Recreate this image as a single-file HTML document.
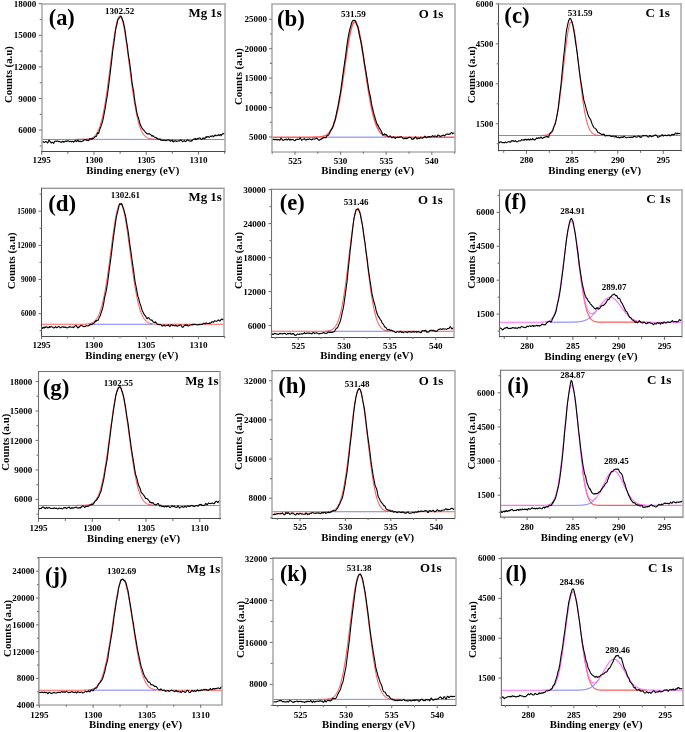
<!DOCTYPE html>
<html><head><meta charset="utf-8"><style>
html,body{margin:0;padding:0;background:#fff;}
svg{display:block;}
text{font-family:"Liberation Serif", serif;font-weight:bold;fill:#000;}
svg{will-change:transform;filter:blur(0.35px);}
</style></head><body>
<svg width="685" height="732" viewBox="0 0 685 732">
<rect width="685" height="732" fill="#fff"/>
<clipPath id="ca"><rect x="41.7" y="3.5" width="183.10000000000002" height="148.2"/></clipPath>
<g clip-path="url(#ca)" fill="none" stroke-linejoin="round" stroke-linecap="round">
<path d="M41.70,139.40 L42.20,139.40 L42.70,139.40 L43.20,139.40 L43.70,139.40 L44.20,139.40 L44.70,139.40 L45.20,139.40 L45.70,139.40 L46.20,139.40 L46.70,139.40 L47.20,139.40 L47.70,139.40 L48.20,139.40 L48.70,139.40 L49.20,139.40 L49.70,139.40 L50.20,139.40 L50.70,139.40 L51.20,139.40 L51.70,139.40 L52.20,139.40 L52.70,139.40 L53.20,139.40 L53.70,139.40 L54.20,139.40 L54.70,139.40 L55.20,139.40 L55.70,139.40 L56.20,139.40 L56.70,139.40 L57.20,139.40 L57.70,139.40 L58.20,139.40 L58.70,139.40 L59.20,139.40 L59.70,139.40 L60.20,139.40 L60.70,139.40 L61.20,139.40 L61.70,139.40 L62.20,139.40 L62.70,139.40 L63.20,139.40 L63.70,139.40 L64.20,139.40 L64.70,139.40 L65.20,139.40 L65.70,139.40 L66.20,139.40 L66.70,139.40 L67.20,139.40 L67.70,139.40 L68.20,139.40 L68.70,139.40 L69.20,139.40 L69.70,139.40 L70.20,139.40 L70.70,139.40 L71.20,139.40 L71.70,139.40 L72.20,139.40 L72.70,139.40 L73.20,139.40 L73.70,139.40 L74.20,139.40 L74.70,139.40 L75.20,139.40 L75.70,139.40 L76.20,139.40 L76.70,139.40 L77.20,139.40 L77.70,139.39 L78.20,139.39 L78.70,139.39 L79.20,139.39 L79.70,139.39 L80.20,139.38 L80.70,139.38 L81.20,139.37 L81.70,139.37 L82.20,139.36 L82.70,139.35 L83.20,139.34 L83.70,139.32 L84.20,139.31 L84.70,139.28 L85.20,139.26 L85.70,139.23 L86.20,139.19 L86.70,139.15 L87.20,139.10 L87.70,139.04 L88.20,138.97 L88.70,138.88 L89.20,138.78 L89.70,138.67 L90.20,138.53 L90.70,138.38 L91.20,138.20 L91.70,137.99 L92.20,137.74 L92.70,137.47 L93.20,137.15 L93.70,136.79 L94.20,136.38 L94.70,135.91 L95.20,135.38 L95.70,134.79 L96.20,134.13 L96.70,133.38 L97.20,132.55 L97.70,131.63 L98.20,130.60 L98.70,129.47 L99.20,128.23 L99.70,126.87 L100.20,125.38 L100.70,123.75 L101.20,121.99 L101.70,120.09 L102.20,118.03 L102.70,115.83 L103.20,113.47 L103.70,110.96 L104.20,108.29 L104.70,105.47 L105.20,102.49 L105.70,99.37 L106.20,96.11 L106.70,92.71 L107.20,89.19 L107.70,85.55 L108.20,81.82 L108.70,78.00 L109.20,74.11 L109.70,70.17 L110.20,66.21 L110.70,62.23 L111.20,58.27 L111.70,54.34 L112.20,50.48 L112.70,46.70 L113.20,43.04 L113.70,39.51 L114.20,36.15 L114.70,32.98 L115.20,30.01 L115.70,27.29 L116.20,24.82 L116.70,22.63 L117.20,20.73 L117.70,19.14 L118.20,17.87 L118.70,16.94 L119.20,16.35 L119.70,16.11 L120.20,16.21 L120.70,16.66 L121.20,17.46 L121.70,18.59 L122.20,20.05 L122.70,21.83 L123.20,23.91 L123.70,26.27 L124.20,28.89 L124.70,31.76 L125.20,34.86 L125.70,38.14 L126.20,41.61 L126.70,45.22 L127.20,48.95 L127.70,52.79 L128.20,56.69 L128.70,60.64 L129.20,64.61 L129.70,68.59 L130.20,72.54 L130.70,76.45 L131.20,80.30 L131.70,84.07 L132.20,87.75 L132.70,91.32 L133.20,94.76 L133.70,98.08 L134.20,101.26 L134.70,104.30 L135.20,107.18 L135.70,109.91 L136.20,112.49 L136.70,114.91 L137.20,117.17 L137.70,119.28 L138.20,121.25 L138.70,123.07 L139.20,124.74 L139.70,126.29 L140.20,127.70 L140.70,128.99 L141.20,130.16 L141.70,131.23 L142.20,132.19 L142.70,133.06 L143.20,133.84 L143.70,134.53 L144.20,135.16 L144.70,135.71 L145.20,136.20 L145.70,136.63 L146.20,137.01 L146.70,137.35 L147.20,137.64 L147.70,137.89 L148.20,138.12 L148.70,138.31 L149.20,138.47 L149.70,138.62 L150.20,138.74 L150.70,138.84 L151.20,138.93 L151.70,139.01 L152.20,139.08 L152.70,139.13 L153.20,139.18 L153.70,139.22 L154.20,139.25 L154.70,139.27 L155.20,139.30 L155.70,139.32 L156.20,139.33 L156.70,139.34 L157.20,139.35 L157.70,139.36 L158.20,139.37 L158.70,139.38 L159.20,139.38 L159.70,139.38 L160.20,139.39 L160.70,139.39 L161.20,139.39 L161.70,139.39 L162.20,139.40 L162.70,139.40 L163.20,139.40 L163.70,139.40 L164.20,139.40 L164.70,139.40 L165.20,139.40 L165.70,139.40 L166.20,139.40 L166.70,139.40 L167.20,139.40 L167.70,139.40 L168.20,139.40 L168.70,139.40 L169.20,139.40 L169.70,139.40 L170.20,139.40 L170.70,139.40 L171.20,139.40 L171.70,139.40 L172.20,139.40 L172.70,139.40 L173.20,139.40 L173.70,139.40 L174.20,139.40 L174.70,139.40 L175.20,139.40 L175.70,139.40 L176.20,139.40 L176.70,139.40 L177.20,139.40 L177.70,139.40 L178.20,139.40 L178.70,139.40 L179.20,139.40 L179.70,139.40 L180.20,139.40 L180.70,139.40 L181.20,139.40 L181.70,139.40 L182.20,139.40 L182.70,139.40 L183.20,139.40 L183.70,139.40 L184.20,139.40 L184.70,139.40 L185.20,139.40 L185.70,139.40 L186.20,139.40 L186.70,139.40 L187.20,139.40 L187.70,139.40 L188.20,139.40 L188.70,139.40 L189.20,139.40 L189.70,139.40 L190.20,139.40 L190.70,139.40 L191.20,139.40 L191.70,139.40 L192.20,139.40 L192.70,139.40 L193.20,139.40 L193.70,139.40 L194.20,139.40 L194.70,139.40 L195.20,139.40 L195.70,139.40 L196.20,139.40 L196.70,139.40 L197.20,139.40 L197.70,139.40 L198.20,139.40 L198.70,139.40 L199.20,139.40 L199.70,139.40 L200.20,139.40 L200.70,139.40 L201.20,139.40 L201.70,139.40 L202.20,139.40 L202.70,139.40 L203.20,139.40 L203.70,139.40 L204.20,139.40 L204.70,139.40 L205.20,139.40 L205.70,139.40 L206.20,139.40 L206.70,139.40 L207.20,139.40 L207.70,139.40 L208.20,139.40 L208.70,139.40 L209.20,139.40 L209.70,139.40 L210.20,139.40 L210.70,139.40 L211.20,139.40 L211.70,139.40 L212.20,139.40 L212.70,139.40 L213.20,139.40 L213.70,139.40 L214.20,139.40 L214.70,139.40 L215.20,139.40 L215.70,139.40 L216.20,139.40 L216.70,139.40 L217.20,139.40 L217.70,139.40 L218.20,139.40 L218.70,139.40 L219.20,139.40 L219.70,139.40 L220.20,139.40 L220.70,139.40 L221.20,139.40 L221.70,139.40 L222.20,139.40 L222.70,139.40 L223.20,139.40 L223.70,139.40 L224.20,139.40 L224.70,139.40" stroke="#ff5c5c" stroke-width="1.05"/>
<path d="M75.20,139.40 L75.70,139.40 L76.20,139.40 L76.70,139.40 L77.20,139.40 L77.70,139.40 L78.20,139.40 L78.70,139.40 L79.20,139.40 L79.70,139.40 L80.20,139.40 L80.70,139.40 L81.20,139.40 L81.70,139.40 L82.20,139.40 L82.70,139.40 L83.20,139.40 L83.70,139.40 L84.20,139.40 L84.70,139.40 L85.20,139.40 L85.70,139.40 L86.20,139.40 L86.70,139.40 L87.20,139.40 L87.70,139.40 L88.20,139.40 L88.70,139.40 L89.20,139.40 L89.70,139.40 L90.20,139.40 L90.70,139.40 L91.20,139.40 L91.70,139.40 L92.20,139.40 L92.70,139.40 L93.20,139.40 L93.70,139.40 L94.20,139.40 L94.70,139.40 L95.20,139.40 L95.70,139.40 L96.20,139.40 L96.70,139.40 L97.20,139.40 L97.70,139.40 L98.20,139.40 L98.70,139.40 L99.20,139.40 L99.70,139.40 L100.20,139.40 L100.70,139.40 L101.20,139.40 L101.70,139.40 L102.20,139.40 L102.70,139.40 L103.20,139.40 L103.70,139.40 L104.20,139.40 L104.70,139.40 L105.20,139.40 L105.70,139.40 L106.20,139.40 L106.70,139.40 L107.20,139.40 L107.70,139.40 L108.20,139.40 L108.70,139.40 L109.20,139.40 L109.70,139.40 L110.20,139.40 L110.70,139.40 L111.20,139.40 L111.70,139.40 L112.20,139.40 L112.70,139.40 L113.20,139.40 L113.70,139.40 L114.20,139.40 L114.70,139.40 L115.20,139.40 L115.70,139.40 L116.20,139.40 L116.70,139.40 L117.20,139.40 L117.70,139.40 L118.20,139.40 L118.70,139.40 L119.20,139.40 L119.70,139.40 L120.20,139.40 L120.70,139.40 L121.20,139.40 L121.70,139.40 L122.20,139.40 L122.70,139.40 L123.20,139.40 L123.70,139.40 L124.20,139.40 L124.70,139.40 L125.20,139.40 L125.70,139.40 L126.20,139.40 L126.70,139.40 L127.20,139.40 L127.70,139.40 L128.20,139.40 L128.70,139.40 L129.20,139.40 L129.70,139.40 L130.20,139.40 L130.70,139.40 L131.20,139.40 L131.70,139.40 L132.20,139.40 L132.70,139.40 L133.20,139.40 L133.70,139.40 L134.20,139.40 L134.70,139.40 L135.20,139.40 L135.70,139.40 L136.20,139.40 L136.70,139.40 L137.20,139.40 L137.70,139.40 L138.20,139.40 L138.70,139.40 L139.20,139.40 L139.70,139.40 L140.20,139.40 L140.70,139.40 L141.20,139.40 L141.70,139.40 L142.20,139.40 L142.70,139.40 L143.20,139.40 L143.70,139.40 L144.20,139.40 L144.70,139.40 L145.20,139.40 L145.70,139.40 L146.20,139.40 L146.70,139.40 L147.20,139.40 L147.70,139.40 L148.20,139.40 L148.70,139.40 L149.20,139.40 L149.70,139.40 L150.20,139.40 L150.70,139.40 L151.20,139.40 L151.70,139.40 L152.20,139.40 L152.70,139.40 L153.20,139.40 L153.70,139.40 L154.20,139.40 L154.70,139.40 L155.20,139.40 L155.70,139.40 L156.20,139.40 L156.70,139.40 L157.20,139.40 L157.70,139.40 L158.20,139.40 L158.70,139.40 L159.20,139.40 L159.70,139.40 L160.20,139.40 L160.70,139.40 L161.20,139.40 L161.70,139.40 L162.20,139.40 L162.70,139.40 L163.20,139.40 L163.70,139.40" stroke="#6464ff" stroke-width="1.0"/>
<path d="M41.70,142.66 L42.20,142.22 L42.70,142.13 L43.20,141.69 L43.70,142.22 L44.20,142.29 L44.70,142.36 L45.20,141.77 L45.70,141.64 L46.20,141.75 L46.70,141.94 L47.20,142.57 L47.70,142.96 L48.20,141.94 L48.70,140.62 L49.20,140.12 L49.70,141.05 L50.20,141.90 L50.70,142.05 L51.20,143.08 L51.70,142.52 L52.20,142.26 L52.70,142.21 L53.20,142.92 L53.70,143.34 L54.20,142.27 L54.70,141.31 L55.20,141.09 L55.70,141.33 L56.20,141.49 L56.70,141.13 L57.20,141.04 L57.70,141.14 L58.20,141.37 L58.70,141.42 L59.20,141.81 L59.70,141.63 L60.20,141.82 L60.70,142.16 L61.20,142.48 L61.70,141.89 L62.20,141.81 L62.70,141.45 L63.20,142.14 L63.70,141.38 L64.20,141.95 L64.70,141.57 L65.20,141.48 L65.70,140.96 L66.20,140.97 L66.70,141.59 L67.20,141.30 L67.70,140.80 L68.20,140.76 L68.70,140.96 L69.20,141.50 L69.70,141.71 L70.20,141.21 L70.70,141.21 L71.20,141.38 L71.70,141.93 L72.20,141.47 L72.70,141.26 L73.20,141.48 L73.70,142.16 L74.20,141.70 L74.70,140.97 L75.20,140.54 L75.70,140.48 L76.20,141.40 L76.70,141.51 L77.20,141.01 L77.70,140.18 L78.20,140.45 L78.70,141.39 L79.20,141.60 L79.70,141.22 L80.20,141.09 L80.70,141.47 L81.20,141.76 L81.70,141.61 L82.20,141.30 L82.70,140.76 L83.20,141.01 L83.70,140.05 L84.20,140.02 L84.70,139.52 L85.20,139.78 L85.70,139.89 L86.20,139.52 L86.70,140.37 L87.20,140.08 L87.70,140.52 L88.20,140.56 L88.70,140.65 L89.20,139.88 L89.70,138.62 L90.20,139.05 L90.70,139.25 L91.20,139.46 L91.70,138.64 L92.20,138.43 L92.70,138.87 L93.20,138.59 L93.70,138.41 L94.20,137.46 L94.70,137.29 L95.20,136.46 L95.70,136.58 L96.20,136.51 L96.70,135.73 L97.20,133.79 L97.70,132.68 L98.20,133.54 L98.70,133.24 L99.20,131.45 L99.70,129.52 L100.20,128.34 L100.70,127.30 L101.20,125.42 L101.70,124.36 L102.20,122.62 L102.70,120.95 L103.20,118.56 L103.70,116.13 L104.20,113.46 L104.70,110.55 L105.20,108.13 L105.70,104.87 L106.20,101.72 L106.70,99.06 L107.20,96.09 L107.70,92.96 L108.20,88.88 L108.70,84.91 L109.20,80.92 L109.70,76.88 L110.20,73.09 L110.70,68.58 L111.20,64.60 L111.70,60.09 L112.20,56.01 L112.70,51.22 L113.20,47.32 L113.70,44.54 L114.20,40.69 L114.70,37.35 L115.20,32.43 L115.70,29.77 L116.20,27.18 L116.70,25.35 L117.20,22.78 L117.70,20.50 L118.20,19.23 L118.70,18.46 L119.20,18.23 L119.70,17.46 L120.20,16.75 L120.70,16.06 L121.20,16.44 L121.70,17.56 L122.20,18.75 L122.70,20.31 L123.20,21.35 L123.70,23.75 L124.20,25.77 L124.70,28.55 L125.20,31.28 L125.70,35.08 L126.20,38.98 L126.70,42.17 L127.20,44.76 L127.70,49.39 L128.20,53.42 L128.70,57.15 L129.20,59.50 L129.70,63.06 L130.20,66.78 L130.70,71.04 L131.20,74.64 L131.70,79.56 L132.20,83.59 L132.70,86.28 L133.20,89.30 L133.70,91.63 L134.20,96.47 L134.70,99.65 L135.20,103.53 L135.70,105.47 L136.20,108.84 L136.70,111.97 L137.20,114.34 L137.70,115.94 L138.20,116.89 L138.70,119.21 L139.20,120.28 L139.70,122.92 L140.20,123.98 L140.70,125.69 L141.20,126.31 L141.70,127.51 L142.20,128.48 L142.70,128.88 L143.20,129.83 L143.70,130.10 L144.20,130.72 L144.70,131.19 L145.20,131.98 L145.70,132.57 L146.20,132.88 L146.70,133.63 L147.20,133.75 L147.70,134.06 L148.20,133.71 L148.70,133.85 L149.20,133.60 L149.70,134.30 L150.20,134.28 L150.70,134.76 L151.20,134.96 L151.70,135.86 L152.20,136.28 L152.70,135.57 L153.20,135.85 L153.70,136.40 L154.20,136.92 L154.70,137.34 L155.20,137.21 L155.70,137.58 L156.20,137.56 L156.70,138.01 L157.20,138.79 L157.70,138.31 L158.20,139.34 L158.70,139.21 L159.20,139.42 L159.70,139.10 L160.20,139.35 L160.70,140.24 L161.20,139.95 L161.70,140.17 L162.20,140.22 L162.70,140.13 L163.20,140.50 L163.70,140.27 L164.20,140.28 L164.70,140.08 L165.20,140.51 L165.70,140.81 L166.20,140.46 L166.70,140.57 L167.20,139.97 L167.70,139.94 L168.20,139.73 L168.70,139.92 L169.20,140.38 L169.70,140.37 L170.20,141.33 L170.70,140.96 L171.20,140.75 L171.70,140.55 L172.20,139.93 L172.70,141.49 L173.20,141.09 L173.70,141.83 L174.20,140.93 L174.70,141.22 L175.20,140.80 L175.70,140.68 L176.20,141.02 L176.70,141.55 L177.20,141.15 L177.70,140.97 L178.20,140.76 L178.70,141.03 L179.20,140.89 L179.70,140.97 L180.20,140.19 L180.70,139.99 L181.20,139.88 L181.70,140.85 L182.20,140.98 L182.70,141.64 L183.20,141.25 L183.70,141.28 L184.20,140.61 L184.70,140.81 L185.20,141.41 L185.70,141.58 L186.20,141.04 L186.70,140.22 L187.20,140.12 L187.70,140.05 L188.20,140.15 L188.70,140.21 L189.20,141.07 L189.70,140.99 L190.20,141.19 L190.70,140.91 L191.20,140.70 L191.70,141.08 L192.20,140.34 L192.70,140.05 L193.20,139.22 L193.70,139.35 L194.20,139.02 L194.70,139.08 L195.20,138.35 L195.70,139.42 L196.20,139.32 L196.70,139.66 L197.20,138.63 L197.70,138.42 L198.20,138.51 L198.70,138.37 L199.20,138.07 L199.70,138.00 L200.20,138.13 L200.70,138.81 L201.20,139.27 L201.70,139.41 L202.20,139.14 L202.70,138.03 L203.20,138.21 L203.70,137.92 L204.20,138.58 L204.70,138.90 L205.20,137.87 L205.70,137.65 L206.20,136.41 L206.70,137.47 L207.20,136.70 L207.70,136.82 L208.20,136.54 L208.70,137.21 L209.20,137.32 L209.70,136.78 L210.20,136.18 L210.70,136.38 L211.20,136.58 L211.70,135.99 L212.20,135.85 L212.70,135.90 L213.20,136.83 L213.70,136.22 L214.20,136.26 L214.70,135.34 L215.20,135.60 L215.70,134.97 L216.20,135.60 L216.70,135.70 L217.20,135.51 L217.70,135.12 L218.20,134.64 L218.70,135.34 L219.20,135.57 L219.70,134.97 L220.20,134.58 L220.70,134.50 L221.20,135.80 L221.70,134.83 L222.20,134.21 L222.70,133.80 L223.20,133.85 L223.70,133.49 L224.20,133.06 L224.70,133.96" stroke="#000000" stroke-width="1.1"/>
</g>
<line x1="42.0" y1="3.0" x2="42.0" y2="152.2" stroke="#adadad" stroke-width="1.6"/>
<line x1="41.2" y1="4.0" x2="225.3" y2="4.0" stroke="#adadad" stroke-width="1.6"/>
<line x1="225.0" y1="3.0" x2="225.0" y2="152.2" stroke="#adadad" stroke-width="1.6"/>
<line x1="41.2" y1="151.5" x2="225.3" y2="151.5" stroke="#4a4a4a" stroke-width="1.0"/>
<line x1="41.70" y1="151.7" x2="41.70" y2="154.7" stroke="#777" stroke-width="1.1"/>
<line x1="93.97" y1="151.7" x2="93.97" y2="154.7" stroke="#777" stroke-width="1.1"/>
<line x1="146.23" y1="151.7" x2="146.23" y2="154.7" stroke="#777" stroke-width="1.1"/>
<line x1="198.50" y1="151.7" x2="198.50" y2="154.7" stroke="#777" stroke-width="1.1"/>
<line x1="67.83" y1="151.7" x2="67.83" y2="153.7" stroke="#777" stroke-width="1.1"/>
<line x1="120.10" y1="151.7" x2="120.10" y2="153.7" stroke="#777" stroke-width="1.1"/>
<line x1="172.36" y1="151.7" x2="172.36" y2="153.7" stroke="#777" stroke-width="1.1"/>
<line x1="224.63" y1="151.7" x2="224.63" y2="153.7" stroke="#777" stroke-width="1.1"/>
<line x1="38.7" y1="130.10" x2="41.7" y2="130.10" stroke="#777" stroke-width="1.1"/>
<line x1="38.7" y1="98.50" x2="41.7" y2="98.50" stroke="#777" stroke-width="1.1"/>
<line x1="38.7" y1="66.90" x2="41.7" y2="66.90" stroke="#777" stroke-width="1.1"/>
<line x1="38.7" y1="35.30" x2="41.7" y2="35.30" stroke="#777" stroke-width="1.1"/>
<line x1="38.7" y1="3.70" x2="41.7" y2="3.70" stroke="#777" stroke-width="1.1"/>
<line x1="39.7" y1="145.90" x2="41.7" y2="145.90" stroke="#777" stroke-width="1.1"/>
<line x1="39.7" y1="114.30" x2="41.7" y2="114.30" stroke="#777" stroke-width="1.1"/>
<line x1="39.7" y1="82.70" x2="41.7" y2="82.70" stroke="#777" stroke-width="1.1"/>
<line x1="39.7" y1="51.10" x2="41.7" y2="51.10" stroke="#777" stroke-width="1.1"/>
<line x1="39.7" y1="19.50" x2="41.7" y2="19.50" stroke="#777" stroke-width="1.1"/>
<text x="41.70" y="163.3" font-size="9.1" text-anchor="middle">1295</text>
<text x="93.97" y="163.3" font-size="9.1" text-anchor="middle">1300</text>
<text x="146.23" y="163.3" font-size="9.1" text-anchor="middle">1305</text>
<text x="198.50" y="163.3" font-size="9.1" text-anchor="middle">1310</text>
<text x="36.2" y="133.16" font-size="9" text-anchor="end">6000</text>
<text x="36.2" y="101.56" font-size="9" text-anchor="end">9000</text>
<text x="36.2" y="69.96" font-size="9" text-anchor="end">12000</text>
<text x="36.2" y="38.36" font-size="9" text-anchor="end">15000</text>
<text x="36.2" y="6.76" font-size="9" text-anchor="end">18000</text>
<text x="132.8" y="173.6" font-size="10.8" text-anchor="middle">Binding energy (eV)</text>
<text transform="translate(11.8,74.6) rotate(-90)" font-size="10.8" text-anchor="middle">Counts (a.u)</text>
<text transform="translate(48.7,25.20) scale(1,1.0)" font-size="22.36">(a)</text>
<text transform="translate(221.79999999999998,17.30) scale(1,1.0)" font-size="12.92" text-anchor="end">Mg 1s</text>
<text x="119.7" y="14.0" font-size="9.0" text-anchor="middle">1302.52</text>
<clipPath id="cb"><rect x="272.0" y="3.9" width="182.8" height="147.79999999999998"/></clipPath>
<g clip-path="url(#cb)" fill="none" stroke-linejoin="round" stroke-linecap="round">
<path d="M272.00,137.20 L272.50,137.20 L273.00,137.20 L273.50,137.20 L274.00,137.20 L274.50,137.20 L275.00,137.20 L275.50,137.20 L276.00,137.20 L276.50,137.20 L277.00,137.20 L277.50,137.20 L278.00,137.20 L278.50,137.20 L279.00,137.20 L279.50,137.20 L280.00,137.20 L280.50,137.20 L281.00,137.20 L281.50,137.20 L282.00,137.20 L282.50,137.20 L283.00,137.20 L283.50,137.20 L284.00,137.20 L284.50,137.20 L285.00,137.20 L285.50,137.20 L286.00,137.20 L286.50,137.20 L287.00,137.20 L287.50,137.20 L288.00,137.20 L288.50,137.20 L289.00,137.20 L289.50,137.20 L290.00,137.20 L290.50,137.20 L291.00,137.20 L291.50,137.20 L292.00,137.20 L292.50,137.20 L293.00,137.20 L293.50,137.20 L294.00,137.20 L294.50,137.20 L295.00,137.20 L295.50,137.20 L296.00,137.20 L296.50,137.20 L297.00,137.20 L297.50,137.20 L298.00,137.20 L298.50,137.20 L299.00,137.20 L299.50,137.20 L300.00,137.20 L300.50,137.20 L301.00,137.20 L301.50,137.20 L302.00,137.20 L302.50,137.20 L303.00,137.20 L303.50,137.20 L304.00,137.20 L304.50,137.20 L305.00,137.20 L305.50,137.20 L306.00,137.20 L306.50,137.20 L307.00,137.20 L307.50,137.20 L308.00,137.20 L308.50,137.20 L309.00,137.20 L309.50,137.20 L310.00,137.19 L310.50,137.19 L311.00,137.19 L311.50,137.19 L312.00,137.19 L312.50,137.18 L313.00,137.18 L313.50,137.17 L314.00,137.17 L314.50,137.16 L315.00,137.15 L315.50,137.14 L316.00,137.13 L316.50,137.11 L317.00,137.10 L317.50,137.07 L318.00,137.05 L318.50,137.02 L319.00,136.98 L319.50,136.94 L320.00,136.89 L320.50,136.84 L321.00,136.77 L321.50,136.70 L322.00,136.61 L322.50,136.51 L323.00,136.39 L323.50,136.25 L324.00,136.10 L324.50,135.92 L325.00,135.71 L325.50,135.48 L326.00,135.22 L326.50,134.92 L327.00,134.59 L327.50,134.21 L328.00,133.78 L328.50,133.31 L329.00,132.78 L329.50,132.19 L330.00,131.53 L330.50,130.81 L331.00,130.01 L331.50,129.13 L332.00,128.16 L332.50,127.11 L333.00,125.96 L333.50,124.70 L334.00,123.34 L334.50,121.88 L335.00,120.29 L335.50,118.59 L336.00,116.77 L336.50,114.83 L337.00,112.76 L337.50,110.56 L338.00,108.24 L338.50,105.79 L339.00,103.22 L339.50,100.53 L340.00,97.73 L340.50,94.81 L341.00,91.79 L341.50,88.67 L342.00,85.46 L342.50,82.18 L343.00,78.83 L343.50,75.43 L344.00,71.99 L344.50,68.53 L345.00,65.07 L345.50,61.61 L346.00,58.18 L346.50,54.80 L347.00,51.48 L347.50,48.25 L348.00,45.12 L348.50,42.12 L349.00,39.26 L349.50,36.56 L350.00,34.03 L350.50,31.71 L351.00,29.59 L351.50,27.70 L352.00,26.05 L352.50,24.66 L353.00,23.52 L353.50,22.65 L354.00,22.06 L354.50,21.75 L355.00,21.72 L355.50,21.98 L356.00,22.51 L356.50,23.32 L357.00,24.41 L357.50,25.75 L358.00,27.35 L358.50,29.20 L359.00,31.27 L359.50,33.55 L360.00,36.04 L360.50,38.70 L361.00,41.53 L361.50,44.51 L362.00,47.62 L362.50,50.83 L363.00,54.13 L363.50,57.50 L364.00,60.92 L364.50,64.37 L365.00,67.84 L365.50,71.30 L366.00,74.75 L366.50,78.15 L367.00,81.51 L367.50,84.81 L368.00,88.03 L368.50,91.17 L369.00,94.21 L369.50,97.15 L370.00,99.98 L370.50,102.69 L371.00,105.29 L371.50,107.76 L372.00,110.11 L372.50,112.33 L373.00,114.42 L373.50,116.39 L374.00,118.24 L374.50,119.96 L375.00,121.57 L375.50,123.06 L376.00,124.44 L376.50,125.71 L377.00,126.88 L377.50,127.96 L378.00,128.94 L378.50,129.84 L379.00,130.65 L379.50,131.39 L380.00,132.06 L380.50,132.66 L381.00,133.21 L381.50,133.69 L382.00,134.13 L382.50,134.51 L383.00,134.86 L383.50,135.16 L384.00,135.43 L384.50,135.67 L385.00,135.88 L385.50,136.06 L386.00,136.22 L386.50,136.36 L387.00,136.48 L387.50,136.59 L388.00,136.68 L388.50,136.76 L389.00,136.83 L389.50,136.88 L390.00,136.93 L390.50,136.98 L391.00,137.01 L391.50,137.04 L392.00,137.07 L392.50,137.09 L393.00,137.11 L393.50,137.13 L394.00,137.14 L394.50,137.15 L395.00,137.16 L395.50,137.17 L396.00,137.17 L396.50,137.18 L397.00,137.18 L397.50,137.18 L398.00,137.19 L398.50,137.19 L399.00,137.19 L399.50,137.19 L400.00,137.19 L400.50,137.20 L401.00,137.20 L401.50,137.20 L402.00,137.20 L402.50,137.20 L403.00,137.20 L403.50,137.20 L404.00,137.20 L404.50,137.20 L405.00,137.20 L405.50,137.20 L406.00,137.20 L406.50,137.20 L407.00,137.20 L407.50,137.20 L408.00,137.20 L408.50,137.20 L409.00,137.20 L409.50,137.20 L410.00,137.20 L410.50,137.20 L411.00,137.20 L411.50,137.20 L412.00,137.20 L412.50,137.20 L413.00,137.20 L413.50,137.20 L414.00,137.20 L414.50,137.20 L415.00,137.20 L415.50,137.20 L416.00,137.20 L416.50,137.20 L417.00,137.20 L417.50,137.20 L418.00,137.20 L418.50,137.20 L419.00,137.20 L419.50,137.20 L420.00,137.20 L420.50,137.20 L421.00,137.20 L421.50,137.20 L422.00,137.20 L422.50,137.20 L423.00,137.20 L423.50,137.20 L424.00,137.20 L424.50,137.20 L425.00,137.20 L425.50,137.20 L426.00,137.20 L426.50,137.20 L427.00,137.20 L427.50,137.20 L428.00,137.20 L428.50,137.20 L429.00,137.20 L429.50,137.20 L430.00,137.20 L430.50,137.20 L431.00,137.20 L431.50,137.20 L432.00,137.20 L432.50,137.20 L433.00,137.20 L433.50,137.20 L434.00,137.20 L434.50,137.20 L435.00,137.20 L435.50,137.20 L436.00,137.20 L436.50,137.20 L437.00,137.20 L437.50,137.20 L438.00,137.20 L438.50,137.20 L439.00,137.20 L439.50,137.20 L440.00,137.20 L440.50,137.20 L441.00,137.20 L441.50,137.20 L442.00,137.20 L442.50,137.20 L443.00,137.20 L443.50,137.20 L444.00,137.20 L444.50,137.20 L445.00,137.20 L445.50,137.20 L446.00,137.20 L446.50,137.20 L447.00,137.20 L447.50,137.20 L448.00,137.20 L448.50,137.20 L449.00,137.20 L449.50,137.20 L450.00,137.20 L450.50,137.20 L451.00,137.20 L451.50,137.20 L452.00,137.20 L452.50,137.20 L453.00,137.20 L453.50,137.20 L454.00,137.20 L454.50,137.20" stroke="#ff5c5c" stroke-width="1.6"/>
<path d="M326.00,137.20 L326.50,137.20 L327.00,137.20 L327.50,137.20 L328.00,137.20 L328.50,137.20 L329.00,137.20 L329.50,137.20 L330.00,137.20 L330.50,137.20 L331.00,137.20 L331.50,137.20 L332.00,137.20 L332.50,137.20 L333.00,137.20 L333.50,137.20 L334.00,137.20 L334.50,137.20 L335.00,137.20 L335.50,137.20 L336.00,137.20 L336.50,137.20 L337.00,137.20 L337.50,137.20 L338.00,137.20 L338.50,137.20 L339.00,137.20 L339.50,137.20 L340.00,137.20 L340.50,137.20 L341.00,137.20 L341.50,137.20 L342.00,137.20 L342.50,137.20 L343.00,137.20 L343.50,137.20 L344.00,137.20 L344.50,137.20 L345.00,137.20 L345.50,137.20 L346.00,137.20 L346.50,137.20 L347.00,137.20 L347.50,137.20 L348.00,137.20 L348.50,137.20 L349.00,137.20 L349.50,137.20 L350.00,137.20 L350.50,137.20 L351.00,137.20 L351.50,137.20 L352.00,137.20 L352.50,137.20 L353.00,137.20 L353.50,137.20 L354.00,137.20 L354.50,137.20 L355.00,137.20 L355.50,137.20 L356.00,137.20 L356.50,137.20 L357.00,137.20 L357.50,137.20 L358.00,137.20 L358.50,137.20 L359.00,137.20 L359.50,137.20 L360.00,137.20 L360.50,137.20 L361.00,137.20 L361.50,137.20 L362.00,137.20 L362.50,137.20 L363.00,137.20 L363.50,137.20 L364.00,137.20 L364.50,137.20 L365.00,137.20 L365.50,137.20 L366.00,137.20 L366.50,137.20 L367.00,137.20 L367.50,137.20 L368.00,137.20 L368.50,137.20 L369.00,137.20 L369.50,137.20 L370.00,137.20 L370.50,137.20 L371.00,137.20 L371.50,137.20 L372.00,137.20 L372.50,137.20 L373.00,137.20 L373.50,137.20 L374.00,137.20 L374.50,137.20 L375.00,137.20 L375.50,137.20 L376.00,137.20 L376.50,137.20 L377.00,137.20 L377.50,137.20 L378.00,137.20 L378.50,137.20 L379.00,137.20 L379.50,137.20 L380.00,137.20 L380.50,137.20 L381.00,137.20 L381.50,137.20 L382.00,137.20 L382.50,137.20 L383.00,137.20 L383.50,137.20 L384.00,137.20 L384.50,137.20 L385.00,137.20 L385.50,137.20 L386.00,137.20" stroke="#6464ff" stroke-width="1.0"/>
<path d="M272.00,139.64 L272.50,139.70 L273.00,139.14 L273.50,139.38 L274.00,139.45 L274.50,139.87 L275.00,139.53 L275.50,139.60 L276.00,139.14 L276.50,139.60 L277.00,139.61 L277.50,139.99 L278.00,139.85 L278.50,139.47 L279.00,139.61 L279.50,140.13 L280.00,139.93 L280.50,139.13 L281.00,138.01 L281.50,138.79 L282.00,139.37 L282.50,140.18 L283.00,140.14 L283.50,140.16 L284.00,139.91 L284.50,139.62 L285.00,139.83 L285.50,139.38 L286.00,139.30 L286.50,139.10 L287.00,140.02 L287.50,139.91 L288.00,139.49 L288.50,138.74 L289.00,139.28 L289.50,139.54 L290.00,140.13 L290.50,139.24 L291.00,139.66 L291.50,139.57 L292.00,139.71 L292.50,139.40 L293.00,139.45 L293.50,139.92 L294.00,140.19 L294.50,140.55 L295.00,140.60 L295.50,140.20 L296.00,139.21 L296.50,139.32 L297.00,139.34 L297.50,139.53 L298.00,139.29 L298.50,139.55 L299.00,139.27 L299.50,138.82 L300.00,137.84 L300.50,138.55 L301.00,139.05 L301.50,140.29 L302.00,139.91 L302.50,139.65 L303.00,139.32 L303.50,139.30 L304.00,139.13 L304.50,138.70 L305.00,139.28 L305.50,139.78 L306.00,140.18 L306.50,139.54 L307.00,139.21 L307.50,139.35 L308.00,139.40 L308.50,139.38 L309.00,139.05 L309.50,138.80 L310.00,139.09 L310.50,139.48 L311.00,139.50 L311.50,139.89 L312.00,139.32 L312.50,139.62 L313.00,138.90 L313.50,139.04 L314.00,139.00 L314.50,139.11 L315.00,138.95 L315.50,138.71 L316.00,138.58 L316.50,138.29 L317.00,138.41 L317.50,138.77 L318.00,139.53 L318.50,139.78 L319.00,140.40 L319.50,140.17 L320.00,139.78 L320.50,139.50 L321.00,138.96 L321.50,139.29 L322.00,138.27 L322.50,138.57 L323.00,137.49 L323.50,137.89 L324.00,137.54 L324.50,137.63 L325.00,137.63 L325.50,137.65 L326.00,137.66 L326.50,136.56 L327.00,135.92 L327.50,135.43 L328.00,135.41 L328.50,135.10 L329.00,134.31 L329.50,133.21 L330.00,132.02 L330.50,130.96 L331.00,130.02 L331.50,129.14 L332.00,128.67 L332.50,128.05 L333.00,126.51 L333.50,125.03 L334.00,122.92 L334.50,122.14 L335.00,120.15 L335.50,118.60 L336.00,115.67 L336.50,113.31 L337.00,110.95 L337.50,108.72 L338.00,106.53 L338.50,103.29 L339.00,100.80 L339.50,97.45 L340.00,95.40 L340.50,91.91 L341.00,89.23 L341.50,84.84 L342.00,81.57 L342.50,77.38 L343.00,74.04 L343.50,70.24 L344.00,66.73 L344.50,63.27 L345.00,59.82 L345.50,56.49 L346.00,52.80 L346.50,48.63 L347.00,44.78 L347.50,41.48 L348.00,38.13 L348.50,35.67 L349.00,32.91 L349.50,30.96 L350.00,28.72 L350.50,26.95 L351.00,25.31 L351.50,23.20 L352.00,21.87 L352.50,21.00 L353.00,20.44 L353.50,20.38 L354.00,20.45 L354.50,20.36 L355.00,20.55 L355.50,20.70 L356.00,22.60 L356.50,23.95 L357.00,25.35 L357.50,26.26 L358.00,27.78 L358.50,29.97 L359.00,32.82 L359.50,35.28 L360.00,37.66 L360.50,39.90 L361.00,41.69 L361.50,44.64 L362.00,47.59 L362.50,51.12 L363.00,53.81 L363.50,56.77 L364.00,60.54 L364.50,63.96 L365.00,66.56 L365.50,69.54 L366.00,72.01 L366.50,75.62 L367.00,78.06 L367.50,81.96 L368.00,84.51 L368.50,88.02 L369.00,90.66 L369.50,93.15 L370.00,94.79 L370.50,97.19 L371.00,100.64 L371.50,103.71 L372.00,106.14 L372.50,107.87 L373.00,110.17 L373.50,112.27 L374.00,114.34 L374.50,115.60 L375.00,117.55 L375.50,119.50 L376.00,120.90 L376.50,122.66 L377.00,123.78 L377.50,125.27 L378.00,125.09 L378.50,126.13 L379.00,127.44 L379.50,128.76 L380.00,128.83 L380.50,129.80 L381.00,130.54 L381.50,131.63 L382.00,132.78 L382.50,134.20 L383.00,135.17 L383.50,134.60 L384.00,134.56 L384.50,133.93 L385.00,134.46 L385.50,134.34 L386.00,134.94 L386.50,134.67 L387.00,135.31 L387.50,135.96 L388.00,136.70 L388.50,136.98 L389.00,136.84 L389.50,136.54 L390.00,135.85 L390.50,136.13 L391.00,136.86 L391.50,137.47 L392.00,137.86 L392.50,137.33 L393.00,137.30 L393.50,136.92 L394.00,136.96 L394.50,137.75 L395.00,138.31 L395.50,138.48 L396.00,137.66 L396.50,137.39 L397.00,137.18 L397.50,137.56 L398.00,137.17 L398.50,137.51 L399.00,137.05 L399.50,137.30 L400.00,137.00 L400.50,136.82 L401.00,136.66 L401.50,136.91 L402.00,137.34 L402.50,137.70 L403.00,138.43 L403.50,138.82 L404.00,138.75 L404.50,138.53 L405.00,138.09 L405.50,138.66 L406.00,138.64 L406.50,138.47 L407.00,138.28 L407.50,138.40 L408.00,138.02 L408.50,137.58 L409.00,137.20 L409.50,137.48 L410.00,137.41 L410.50,137.23 L411.00,137.96 L411.50,138.36 L412.00,139.45 L412.50,139.13 L413.00,139.36 L413.50,138.53 L414.00,138.71 L414.50,137.95 L415.00,137.29 L415.50,136.93 L416.00,137.50 L416.50,138.56 L417.00,138.96 L417.50,138.84 L418.00,138.05 L418.50,138.31 L419.00,138.54 L419.50,138.60 L420.00,138.07 L420.50,137.31 L421.00,137.90 L421.50,138.01 L422.00,138.26 L422.50,137.89 L423.00,137.87 L423.50,137.74 L424.00,137.19 L424.50,136.61 L425.00,136.16 L425.50,136.63 L426.00,137.66 L426.50,137.61 L427.00,137.44 L427.50,136.81 L428.00,136.96 L428.50,136.92 L429.00,136.38 L429.50,137.00 L430.00,136.68 L430.50,136.99 L431.00,136.76 L431.50,136.74 L432.00,136.08 L432.50,135.63 L433.00,135.94 L433.50,136.41 L434.00,136.59 L434.50,135.94 L435.00,135.94 L435.50,136.03 L436.00,136.32 L436.50,136.81 L437.00,136.45 L437.50,136.04 L438.00,134.87 L438.50,135.23 L439.00,135.47 L439.50,136.23 L440.00,135.94 L440.50,136.40 L441.00,136.40 L441.50,136.07 L442.00,135.57 L442.50,135.44 L443.00,135.09 L443.50,135.39 L444.00,135.35 L444.50,135.98 L445.00,135.38 L445.50,135.02 L446.00,134.29 L446.50,134.30 L447.00,133.94 L447.50,134.25 L448.00,134.00 L448.50,134.20 L449.00,134.47 L449.50,134.14 L450.00,134.26 L450.50,133.19 L451.00,132.85 L451.50,132.45 L452.00,133.00 L452.50,133.75 L453.00,133.19 L453.50,133.10 L454.00,132.92 L454.50,133.76" stroke="#000000" stroke-width="1.1"/>
</g>
<line x1="272.0" y1="3.4" x2="272.0" y2="152.2" stroke="#adadad" stroke-width="1.6"/>
<line x1="271.5" y1="4.0" x2="455.3" y2="4.0" stroke="#adadad" stroke-width="1.6"/>
<line x1="455.0" y1="3.4" x2="455.0" y2="152.2" stroke="#adadad" stroke-width="1.6"/>
<line x1="271.5" y1="152.0" x2="455.3" y2="152.0" stroke="#adadad" stroke-width="1.6"/>
<line x1="295.00" y1="151.7" x2="295.00" y2="154.7" stroke="#777" stroke-width="1.1"/>
<line x1="340.60" y1="151.7" x2="340.60" y2="154.7" stroke="#777" stroke-width="1.1"/>
<line x1="386.20" y1="151.7" x2="386.20" y2="154.7" stroke="#777" stroke-width="1.1"/>
<line x1="431.80" y1="151.7" x2="431.80" y2="154.7" stroke="#777" stroke-width="1.1"/>
<line x1="272.20" y1="151.7" x2="272.20" y2="153.7" stroke="#777" stroke-width="1.1"/>
<line x1="317.80" y1="151.7" x2="317.80" y2="153.7" stroke="#777" stroke-width="1.1"/>
<line x1="363.40" y1="151.7" x2="363.40" y2="153.7" stroke="#777" stroke-width="1.1"/>
<line x1="409.00" y1="151.7" x2="409.00" y2="153.7" stroke="#777" stroke-width="1.1"/>
<line x1="454.60" y1="151.7" x2="454.60" y2="153.7" stroke="#777" stroke-width="1.1"/>
<line x1="269.0" y1="136.95" x2="272.0" y2="136.95" stroke="#777" stroke-width="1.1"/>
<line x1="269.0" y1="107.54" x2="272.0" y2="107.54" stroke="#777" stroke-width="1.1"/>
<line x1="269.0" y1="78.12" x2="272.0" y2="78.12" stroke="#777" stroke-width="1.1"/>
<line x1="269.0" y1="48.71" x2="272.0" y2="48.71" stroke="#777" stroke-width="1.1"/>
<line x1="269.0" y1="19.30" x2="272.0" y2="19.30" stroke="#777" stroke-width="1.1"/>
<line x1="270.0" y1="122.24" x2="272.0" y2="122.24" stroke="#777" stroke-width="1.1"/>
<line x1="270.0" y1="92.83" x2="272.0" y2="92.83" stroke="#777" stroke-width="1.1"/>
<line x1="270.0" y1="63.42" x2="272.0" y2="63.42" stroke="#777" stroke-width="1.1"/>
<line x1="270.0" y1="34.01" x2="272.0" y2="34.01" stroke="#777" stroke-width="1.1"/>
<text x="295.00" y="163.5" font-size="9.1" text-anchor="middle">525</text>
<text x="340.60" y="163.5" font-size="9.1" text-anchor="middle">530</text>
<text x="386.20" y="163.5" font-size="9.1" text-anchor="middle">535</text>
<text x="431.80" y="163.5" font-size="9.1" text-anchor="middle">540</text>
<text x="266.9" y="140.01" font-size="9.0" text-anchor="end">5000</text>
<text x="266.9" y="110.60" font-size="9.0" text-anchor="end">10000</text>
<text x="266.9" y="81.19" font-size="9.0" text-anchor="end">15000</text>
<text x="266.9" y="51.77" font-size="9.0" text-anchor="end">20000</text>
<text x="266.9" y="22.36" font-size="9.0" text-anchor="end">25000</text>
<text x="367.7" y="173.8" font-size="10.8" text-anchor="middle">Binding energy (eV)</text>
<text transform="translate(241.8,76.6) rotate(-90)" font-size="10.8" text-anchor="middle">Counts (a.u)</text>
<text transform="translate(277.0,26.30) scale(1,1.0)" font-size="22.88">(b)</text>
<text transform="translate(443.4,17.80) scale(1,1.0)" font-size="12.92" text-anchor="end">O 1s</text>
<text x="353.4" y="16.6" font-size="9.0" text-anchor="middle">531.59</text>
<clipPath id="cc"><rect x="498.7" y="3.5" width="182.50000000000006" height="147.3"/></clipPath>
<g clip-path="url(#cc)" fill="none" stroke-linejoin="round" stroke-linecap="round">
<path d="M498.70,135.50 L499.20,135.50 L499.70,135.50 L500.20,135.50 L500.70,135.50 L501.20,135.50 L501.70,135.50 L502.20,135.50 L502.70,135.50 L503.20,135.50 L503.70,135.50 L504.20,135.50 L504.70,135.50 L505.20,135.50 L505.70,135.50 L506.20,135.50 L506.70,135.50 L507.20,135.50 L507.70,135.50 L508.20,135.50 L508.70,135.50 L509.20,135.50 L509.70,135.50 L510.20,135.50 L510.70,135.50 L511.20,135.50 L511.70,135.50 L512.20,135.50 L512.70,135.50 L513.20,135.50 L513.70,135.50 L514.20,135.50 L514.70,135.50 L515.20,135.50 L515.70,135.50 L516.20,135.50 L516.70,135.50 L517.20,135.50 L517.70,135.50 L518.20,135.50 L518.70,135.50 L519.20,135.50 L519.70,135.50 L520.20,135.50 L520.70,135.50 L521.20,135.50 L521.70,135.50 L522.20,135.50 L522.70,135.50 L523.20,135.50 L523.70,135.50 L524.20,135.50 L524.70,135.50 L525.20,135.50 L525.70,135.50 L526.20,135.50 L526.70,135.50 L527.20,135.50 L527.70,135.50 L528.20,135.50 L528.70,135.50 L529.20,135.50 L529.70,135.50 L530.20,135.50 L530.70,135.50 L531.20,135.50 L531.70,135.50 L532.20,135.50 L532.70,135.50 L533.20,135.50 L533.70,135.50 L534.20,135.50 L534.70,135.50 L535.20,135.50 L535.70,135.50 L536.20,135.50 L536.70,135.50 L537.20,135.49 L537.70,135.49 L538.20,135.49 L538.70,135.49 L539.20,135.48 L539.70,135.48 L540.20,135.47 L540.70,135.46 L541.20,135.45 L541.70,135.44 L542.20,135.42 L542.70,135.40 L543.20,135.37 L543.70,135.34 L544.20,135.29 L544.70,135.24 L545.20,135.17 L545.70,135.09 L546.20,134.99 L546.70,134.87 L547.20,134.72 L547.70,134.55 L548.20,134.33 L548.70,134.08 L549.20,133.78 L549.70,133.42 L550.20,133.00 L550.70,132.51 L551.20,131.94 L551.70,131.27 L552.20,130.51 L552.70,129.63 L553.20,128.62 L553.70,127.48 L554.20,126.19 L554.70,124.74 L555.20,123.11 L555.70,121.30 L556.20,119.30 L556.70,117.09 L557.20,114.68 L557.70,112.05 L558.20,109.20 L558.70,106.13 L559.20,102.84 L559.70,99.34 L560.20,95.65 L560.70,91.76 L561.20,87.70 L561.70,83.49 L562.20,79.15 L562.70,74.72 L563.20,70.22 L563.70,65.69 L564.20,61.17 L564.70,56.70 L565.20,52.32 L565.70,48.07 L566.20,44.01 L566.70,40.17 L567.20,36.59 L567.70,33.33 L568.20,30.41 L568.70,27.88 L569.20,25.77 L569.70,24.09 L570.20,22.88 L570.70,22.15 L571.20,21.90 L571.70,22.15 L572.20,22.88 L572.70,24.09 L573.20,25.77 L573.70,27.88 L574.20,30.41 L574.70,33.33 L575.20,36.59 L575.70,40.17 L576.20,44.01 L576.70,48.07 L577.20,52.32 L577.70,56.70 L578.20,61.17 L578.70,65.69 L579.20,70.22 L579.70,74.72 L580.20,79.15 L580.70,83.49 L581.20,87.70 L581.70,91.76 L582.20,95.65 L582.70,99.34 L583.20,102.84 L583.70,106.13 L584.20,109.20 L584.70,112.05 L585.20,114.68 L585.70,117.09 L586.20,119.30 L586.70,121.30 L587.20,123.11 L587.70,124.74 L588.20,126.19 L588.70,127.48 L589.20,128.62 L589.70,129.63 L590.20,130.51 L590.70,131.27 L591.20,131.94 L591.70,132.51 L592.20,133.00 L592.70,133.42 L593.20,133.78 L593.70,134.08 L594.20,134.33 L594.70,134.55 L595.20,134.72 L595.70,134.87 L596.20,134.99 L596.70,135.09 L597.20,135.17 L597.70,135.24 L598.20,135.29 L598.70,135.34 L599.20,135.37 L599.70,135.40 L600.20,135.42 L600.70,135.44 L601.20,135.45 L601.70,135.46 L602.20,135.47 L602.70,135.48 L603.20,135.48 L603.70,135.49 L604.20,135.49 L604.70,135.49 L605.20,135.49 L605.70,135.50 L606.20,135.50 L606.70,135.50 L607.20,135.50 L607.70,135.50 L608.20,135.50 L608.70,135.50 L609.20,135.50 L609.70,135.50 L610.20,135.50 L610.70,135.50 L611.20,135.50 L611.70,135.50 L612.20,135.50 L612.70,135.50 L613.20,135.50 L613.70,135.50 L614.20,135.50 L614.70,135.50 L615.20,135.50 L615.70,135.50 L616.20,135.50 L616.70,135.50 L617.20,135.50 L617.70,135.50 L618.20,135.50 L618.70,135.50 L619.20,135.50 L619.70,135.50 L620.20,135.50 L620.70,135.50 L621.20,135.50 L621.70,135.50 L622.20,135.50 L622.70,135.50 L623.20,135.50 L623.70,135.50 L624.20,135.50 L624.70,135.50 L625.20,135.50 L625.70,135.50 L626.20,135.50 L626.70,135.50 L627.20,135.50 L627.70,135.50 L628.20,135.50 L628.70,135.50 L629.20,135.50 L629.70,135.50 L630.20,135.50 L630.70,135.50 L631.20,135.50 L631.70,135.50 L632.20,135.50 L632.70,135.50 L633.20,135.50 L633.70,135.50 L634.20,135.50 L634.70,135.50 L635.20,135.50 L635.70,135.50 L636.20,135.50 L636.70,135.50 L637.20,135.50 L637.70,135.50 L638.20,135.50 L638.70,135.50 L639.20,135.50 L639.70,135.50 L640.20,135.50 L640.70,135.50 L641.20,135.50 L641.70,135.50 L642.20,135.50 L642.70,135.50 L643.20,135.50 L643.70,135.50 L644.20,135.50 L644.70,135.50 L645.20,135.50 L645.70,135.50 L646.20,135.50 L646.70,135.50 L647.20,135.50 L647.70,135.50 L648.20,135.50 L648.70,135.50 L649.20,135.50 L649.70,135.50 L650.20,135.50 L650.70,135.50 L651.20,135.50 L651.70,135.50 L652.20,135.50 L652.70,135.50 L653.20,135.50 L653.70,135.50 L654.20,135.50 L654.70,135.50 L655.20,135.50 L655.70,135.50 L656.20,135.50 L656.70,135.50 L657.20,135.50 L657.70,135.50 L658.20,135.50 L658.70,135.50 L659.20,135.50 L659.70,135.50 L660.20,135.50 L660.70,135.50 L661.20,135.50 L661.70,135.50 L662.20,135.50 L662.70,135.50 L663.20,135.50 L663.70,135.50 L664.20,135.50 L664.70,135.50 L665.20,135.50 L665.70,135.50 L666.20,135.50 L666.70,135.50 L667.20,135.50 L667.70,135.50 L668.20,135.50 L668.70,135.50 L669.20,135.50 L669.70,135.50 L670.20,135.50 L670.70,135.50 L671.20,135.50 L671.70,135.50 L672.20,135.50 L672.70,135.50 L673.20,135.50 L673.70,135.50 L674.20,135.50 L674.70,135.50 L675.20,135.50 L675.70,135.50 L676.20,135.50 L676.70,135.50 L677.20,135.50 L677.70,135.50 L678.20,135.50 L678.70,135.50 L679.20,135.50 L679.70,135.50 L680.20,135.50 L680.70,135.50 L681.20,135.50" stroke="#ff5c5c" stroke-width="1.05"/>
<path d="M542.70,135.50 L543.20,135.50 L543.70,135.50 L544.20,135.50 L544.70,135.50 L545.20,135.50 L545.70,135.50 L546.20,135.50 L546.70,135.50 L547.20,135.50 L547.70,135.50 L548.20,135.50 L548.70,135.50 L549.20,135.50 L549.70,135.50 L550.20,135.50 L550.70,135.50 L551.20,135.50 L551.70,135.50 L552.20,135.50 L552.70,135.50 L553.20,135.50 L553.70,135.50 L554.20,135.50 L554.70,135.50 L555.20,135.50 L555.70,135.50 L556.20,135.50 L556.70,135.50 L557.20,135.50 L557.70,135.50 L558.20,135.50 L558.70,135.50 L559.20,135.50 L559.70,135.50 L560.20,135.50 L560.70,135.50 L561.20,135.50 L561.70,135.50 L562.20,135.50 L562.70,135.50 L563.20,135.50 L563.70,135.50 L564.20,135.50 L564.70,135.50 L565.20,135.50 L565.70,135.50 L566.20,135.50 L566.70,135.50 L567.20,135.50 L567.70,135.50 L568.20,135.50 L568.70,135.50 L569.20,135.50 L569.70,135.50 L570.20,135.50 L570.70,135.50 L571.20,135.50 L571.70,135.50 L572.20,135.50 L572.70,135.50 L573.20,135.50 L573.70,135.50 L574.20,135.50 L574.70,135.50 L575.20,135.50 L575.70,135.50 L576.20,135.50 L576.70,135.50 L577.20,135.50 L577.70,135.50 L578.20,135.50 L578.70,135.50 L579.20,135.50 L579.70,135.50 L580.20,135.50 L580.70,135.50 L581.20,135.50 L581.70,135.50 L582.20,135.50 L582.70,135.50 L583.20,135.50 L583.70,135.50 L584.20,135.50 L584.70,135.50 L585.20,135.50 L585.70,135.50 L586.20,135.50 L586.70,135.50 L587.20,135.50 L587.70,135.50 L588.20,135.50 L588.70,135.50 L589.20,135.50 L589.70,135.50 L590.20,135.50 L590.70,135.50 L591.20,135.50 L591.70,135.50 L592.20,135.50 L592.70,135.50 L593.20,135.50 L593.70,135.50 L594.20,135.50 L594.70,135.50 L595.20,135.50 L595.70,135.50 L596.20,135.50 L596.70,135.50 L597.20,135.50 L597.70,135.50 L598.20,135.50 L598.70,135.50 L599.20,135.50" stroke="#6464ff" stroke-width="1.0"/>
<path d="M498.70,143.64 L499.20,142.43 L499.70,142.10 L500.20,141.83 L500.70,141.75 L501.20,142.09 L501.70,142.31 L502.20,142.71 L502.70,142.44 L503.20,142.49 L503.70,142.64 L504.20,142.84 L504.70,142.63 L505.20,142.03 L505.70,141.99 L506.20,142.74 L506.70,142.67 L507.20,142.37 L507.70,142.03 L508.20,141.79 L508.70,141.73 L509.20,141.65 L509.70,142.09 L510.20,142.17 L510.70,142.06 L511.20,140.92 L511.70,141.18 L512.20,140.61 L512.70,140.95 L513.20,140.66 L513.70,141.16 L514.20,141.52 L514.70,141.04 L515.20,140.78 L515.70,140.87 L516.20,141.62 L516.70,141.80 L517.20,141.82 L517.70,141.67 L518.20,141.30 L518.70,140.88 L519.20,140.65 L519.70,140.85 L520.20,141.02 L520.70,140.52 L521.20,140.34 L521.70,139.55 L522.20,139.97 L522.70,139.99 L523.20,140.21 L523.70,139.95 L524.20,139.42 L524.70,140.14 L525.20,139.40 L525.70,139.36 L526.20,139.28 L526.70,140.26 L527.20,139.80 L527.70,139.35 L528.20,139.02 L528.70,139.47 L529.20,140.08 L529.70,139.53 L530.20,139.79 L530.70,138.87 L531.20,139.66 L531.70,139.48 L532.20,139.64 L532.70,138.57 L533.20,139.06 L533.70,139.37 L534.20,140.10 L534.70,139.85 L535.20,139.64 L535.70,139.11 L536.20,138.40 L536.70,137.95 L537.20,138.53 L537.70,138.23 L538.20,138.22 L538.70,137.59 L539.20,138.06 L539.70,138.36 L540.20,137.98 L540.70,137.26 L541.20,136.99 L541.70,137.70 L542.20,138.42 L542.70,138.40 L543.20,137.80 L543.70,137.52 L544.20,137.24 L544.70,137.46 L545.20,136.95 L545.70,136.91 L546.20,136.43 L546.70,136.66 L547.20,136.47 L547.70,137.08 L548.20,137.10 L548.70,137.19 L549.20,135.33 L549.70,134.30 L550.20,133.14 L550.70,133.46 L551.20,132.21 L551.70,132.08 L552.20,131.42 L552.70,130.78 L553.20,128.98 L553.70,127.10 L554.20,126.09 L554.70,124.98 L555.20,124.05 L555.70,121.89 L556.20,119.63 L556.70,116.50 L557.20,114.36 L557.70,111.30 L558.20,108.38 L558.70,103.86 L559.20,99.70 L559.70,94.88 L560.20,91.37 L560.70,87.07 L561.20,82.48 L561.70,76.93 L562.20,71.84 L562.70,66.61 L563.20,61.33 L563.70,56.24 L564.20,52.27 L564.70,47.64 L565.20,42.67 L565.70,37.13 L566.20,32.74 L566.70,29.44 L567.20,26.89 L567.70,24.61 L568.20,22.36 L568.70,20.49 L569.20,19.49 L569.70,18.45 L570.20,18.36 L570.70,18.84 L571.20,19.96 L571.70,21.20 L572.20,22.50 L572.70,24.59 L573.20,27.29 L573.70,29.98 L574.20,32.87 L574.70,35.93 L575.20,39.55 L575.70,43.60 L576.20,46.26 L576.70,50.04 L577.20,53.12 L577.70,57.67 L578.20,61.51 L578.70,65.85 L579.20,69.93 L579.70,73.42 L580.20,77.22 L580.70,80.30 L581.20,83.59 L581.70,86.56 L582.20,89.57 L582.70,93.24 L583.20,96.08 L583.70,99.56 L584.20,101.29 L584.70,103.12 L585.20,104.59 L585.70,106.82 L586.20,108.61 L586.70,110.40 L587.20,111.76 L587.70,113.99 L588.20,115.06 L588.70,116.74 L589.20,117.26 L589.70,118.36 L590.20,118.93 L590.70,119.84 L591.20,121.24 L591.70,122.81 L592.20,124.21 L592.70,125.28 L593.20,126.36 L593.70,127.24 L594.20,127.91 L594.70,128.07 L595.20,128.19 L595.70,129.06 L596.20,129.23 L596.70,130.56 L597.20,130.87 L597.70,132.32 L598.20,132.56 L598.70,132.73 L599.20,132.87 L599.70,133.06 L600.20,133.59 L600.70,133.80 L601.20,134.21 L601.70,134.46 L602.20,134.39 L602.70,134.57 L603.20,134.11 L603.70,134.47 L604.20,134.28 L604.70,135.45 L605.20,136.02 L605.70,135.86 L606.20,135.63 L606.70,135.25 L607.20,135.61 L607.70,135.79 L608.20,135.74 L608.70,135.56 L609.20,135.35 L609.70,135.49 L610.20,136.15 L610.70,135.88 L611.20,136.16 L611.70,136.41 L612.20,136.48 L612.70,136.10 L613.20,135.88 L613.70,136.10 L614.20,136.92 L614.70,137.05 L615.20,136.94 L615.70,136.16 L616.20,136.11 L616.70,137.22 L617.20,137.46 L617.70,137.56 L618.20,137.02 L618.70,137.10 L619.20,137.83 L619.70,137.53 L620.20,137.80 L620.70,137.10 L621.20,137.46 L621.70,136.83 L622.20,137.34 L622.70,137.08 L623.20,137.47 L623.70,136.58 L624.20,136.37 L624.70,136.53 L625.20,137.14 L625.70,137.60 L626.20,137.80 L626.70,137.70 L627.20,137.45 L627.70,137.32 L628.20,137.27 L628.70,137.21 L629.20,137.17 L629.70,137.38 L630.20,137.47 L630.70,137.11 L631.20,136.91 L631.70,137.44 L632.20,137.48 L632.70,137.20 L633.20,136.53 L633.70,136.98 L634.20,136.40 L634.70,136.55 L635.20,136.53 L635.70,136.85 L636.20,137.20 L636.70,136.98 L637.20,137.05 L637.70,136.62 L638.20,135.94 L638.70,135.92 L639.20,136.43 L639.70,136.63 L640.20,137.40 L640.70,136.76 L641.20,137.36 L641.70,136.77 L642.20,136.05 L642.70,135.53 L643.20,135.57 L643.70,135.91 L644.20,135.65 L644.70,135.69 L645.20,135.84 L645.70,135.72 L646.20,135.36 L646.70,135.84 L647.20,136.22 L647.70,136.74 L648.20,136.94 L648.70,137.09 L649.20,136.41 L649.70,135.48 L650.20,135.45 L650.70,136.09 L651.20,136.58 L651.70,136.76 L652.20,136.32 L652.70,136.31 L653.20,135.97 L653.70,136.00 L654.20,135.47 L654.70,135.10 L655.20,135.03 L655.70,135.08 L656.20,135.27 L656.70,135.63 L657.20,135.94 L657.70,137.19 L658.20,137.26 L658.70,137.07 L659.20,136.37 L659.70,136.17 L660.20,136.12 L660.70,136.17 L661.20,135.74 L661.70,134.91 L662.20,134.75 L662.70,134.74 L663.20,136.16 L663.70,135.63 L664.20,135.39 L664.70,135.35 L665.20,135.15 L665.70,135.54 L666.20,135.45 L666.70,135.78 L667.20,135.62 L667.70,135.13 L668.20,135.30 L668.70,135.01 L669.20,135.11 L669.70,134.97 L670.20,135.93 L670.70,135.56 L671.20,135.02 L671.70,134.44 L672.20,134.36 L672.70,134.69 L673.20,134.44 L673.70,134.88 L674.20,134.52 L674.70,134.39 L675.20,133.12 L675.70,132.98 L676.20,133.45 L676.70,134.00 L677.20,134.00 L677.70,133.05 L678.20,133.40 L678.70,133.62 L679.20,133.58 L679.70,133.54 L680.20,133.51 L680.70,134.08 L681.20,133.62" stroke="#000000" stroke-width="1.1"/>
</g>
<line x1="498.5" y1="3.0" x2="498.5" y2="151.3" stroke="#4a4a4a" stroke-width="1.0"/>
<line x1="498.2" y1="4.0" x2="681.7" y2="4.0" stroke="#adadad" stroke-width="1.6"/>
<line x1="681.0" y1="3.0" x2="681.0" y2="151.3" stroke="#adadad" stroke-width="1.6"/>
<line x1="498.2" y1="150.5" x2="681.7" y2="150.5" stroke="#4a4a4a" stroke-width="1.0"/>
<line x1="526.50" y1="150.8" x2="526.50" y2="153.8" stroke="#777" stroke-width="1.1"/>
<line x1="572.10" y1="150.8" x2="572.10" y2="153.8" stroke="#777" stroke-width="1.1"/>
<line x1="617.70" y1="150.8" x2="617.70" y2="153.8" stroke="#777" stroke-width="1.1"/>
<line x1="663.30" y1="150.8" x2="663.30" y2="153.8" stroke="#777" stroke-width="1.1"/>
<line x1="503.70" y1="150.8" x2="503.70" y2="152.8" stroke="#777" stroke-width="1.1"/>
<line x1="549.30" y1="150.8" x2="549.30" y2="152.8" stroke="#777" stroke-width="1.1"/>
<line x1="594.90" y1="150.8" x2="594.90" y2="152.8" stroke="#777" stroke-width="1.1"/>
<line x1="640.50" y1="150.8" x2="640.50" y2="152.8" stroke="#777" stroke-width="1.1"/>
<line x1="495.7" y1="123.75" x2="498.7" y2="123.75" stroke="#777" stroke-width="1.1"/>
<line x1="495.7" y1="83.80" x2="498.7" y2="83.80" stroke="#777" stroke-width="1.1"/>
<line x1="495.7" y1="43.85" x2="498.7" y2="43.85" stroke="#777" stroke-width="1.1"/>
<line x1="495.7" y1="3.90" x2="498.7" y2="3.90" stroke="#777" stroke-width="1.1"/>
<line x1="496.7" y1="143.72" x2="498.7" y2="143.72" stroke="#777" stroke-width="1.1"/>
<line x1="496.7" y1="103.77" x2="498.7" y2="103.77" stroke="#777" stroke-width="1.1"/>
<line x1="496.7" y1="63.82" x2="498.7" y2="63.82" stroke="#777" stroke-width="1.1"/>
<line x1="496.7" y1="23.87" x2="498.7" y2="23.87" stroke="#777" stroke-width="1.1"/>
<text x="526.50" y="163.3" font-size="9.1" text-anchor="middle">280</text>
<text x="572.10" y="163.3" font-size="9.1" text-anchor="middle">285</text>
<text x="617.70" y="163.3" font-size="9.1" text-anchor="middle">290</text>
<text x="663.30" y="163.3" font-size="9.1" text-anchor="middle">295</text>
<text x="493.3" y="126.72" font-size="8.75" text-anchor="end">1500</text>
<text x="493.3" y="86.77" font-size="8.75" text-anchor="end">3000</text>
<text x="493.3" y="46.82" font-size="8.75" text-anchor="end">4500</text>
<text x="493.3" y="6.88" font-size="8.75" text-anchor="end">6000</text>
<text x="594.7" y="173.8" font-size="10.8" text-anchor="middle">Binding energy (eV)</text>
<text transform="translate(474.5,74.7) rotate(-90)" font-size="10.8" text-anchor="middle">Counts (a.u)</text>
<text transform="translate(504.3,23.10) scale(1,1.0)" font-size="22.78">(c)</text>
<text transform="translate(669.8000000000001,17.30) scale(1,1.0)" font-size="13.12" text-anchor="end">C 1s</text>
<text x="580" y="16.1" font-size="9.0" text-anchor="middle">531.59</text>
<clipPath id="cd"><rect x="41.5" y="188.2" width="182.7" height="148.0"/></clipPath>
<g clip-path="url(#cd)" fill="none" stroke-linejoin="round" stroke-linecap="round">
<path d="M41.50,324.30 L42.00,324.30 L42.50,324.30 L43.00,324.30 L43.50,324.30 L44.00,324.30 L44.50,324.30 L45.00,324.30 L45.50,324.30 L46.00,324.30 L46.50,324.30 L47.00,324.30 L47.50,324.30 L48.00,324.30 L48.50,324.30 L49.00,324.30 L49.50,324.30 L50.00,324.30 L50.50,324.30 L51.00,324.30 L51.50,324.30 L52.00,324.30 L52.50,324.30 L53.00,324.30 L53.50,324.30 L54.00,324.30 L54.50,324.30 L55.00,324.30 L55.50,324.30 L56.00,324.30 L56.50,324.30 L57.00,324.30 L57.50,324.30 L58.00,324.30 L58.50,324.30 L59.00,324.30 L59.50,324.30 L60.00,324.30 L60.50,324.30 L61.00,324.30 L61.50,324.30 L62.00,324.30 L62.50,324.30 L63.00,324.30 L63.50,324.30 L64.00,324.30 L64.50,324.30 L65.00,324.30 L65.50,324.30 L66.00,324.30 L66.50,324.30 L67.00,324.30 L67.50,324.30 L68.00,324.30 L68.50,324.30 L69.00,324.30 L69.50,324.30 L70.00,324.30 L70.50,324.30 L71.00,324.30 L71.50,324.30 L72.00,324.30 L72.50,324.30 L73.00,324.30 L73.50,324.30 L74.00,324.30 L74.50,324.30 L75.00,324.30 L75.50,324.30 L76.00,324.30 L76.50,324.30 L77.00,324.30 L77.50,324.29 L78.00,324.29 L78.50,324.29 L79.00,324.29 L79.50,324.29 L80.00,324.28 L80.50,324.28 L81.00,324.27 L81.50,324.27 L82.00,324.26 L82.50,324.25 L83.00,324.24 L83.50,324.23 L84.00,324.21 L84.50,324.19 L85.00,324.17 L85.50,324.14 L86.00,324.11 L86.50,324.07 L87.00,324.03 L87.50,323.97 L88.00,323.91 L88.50,323.83 L89.00,323.75 L89.50,323.64 L90.00,323.52 L90.50,323.38 L91.00,323.22 L91.50,323.04 L92.00,322.82 L92.50,322.58 L93.00,322.30 L93.50,321.98 L94.00,321.62 L94.50,321.20 L95.00,320.74 L95.50,320.21 L96.00,319.63 L96.50,318.97 L97.00,318.23 L97.50,317.41 L98.00,316.51 L98.50,315.51 L99.00,314.40 L99.50,313.19 L100.00,311.87 L100.50,310.42 L101.00,308.85 L101.50,307.14 L102.00,305.31 L102.50,303.33 L103.00,301.21 L103.50,298.94 L104.00,296.53 L104.50,293.97 L105.00,291.26 L105.50,288.41 L106.00,285.42 L106.50,282.30 L107.00,279.05 L107.50,275.68 L108.00,272.21 L108.50,268.63 L109.00,264.98 L109.50,261.26 L110.00,257.48 L110.50,253.67 L111.00,249.85 L111.50,246.04 L112.00,242.26 L112.50,238.52 L113.00,234.86 L113.50,231.30 L114.00,227.87 L114.50,224.57 L115.00,221.45 L115.50,218.52 L116.00,215.80 L116.50,213.31 L117.00,211.08 L117.50,209.11 L118.00,207.43 L118.50,206.05 L119.00,204.98 L119.50,204.23 L120.00,203.81 L120.50,203.71 L121.00,203.94 L121.50,204.49 L122.00,205.37 L122.50,206.57 L123.00,208.07 L123.50,209.86 L124.00,211.94 L124.50,214.28 L125.00,216.86 L125.50,219.66 L126.00,222.68 L126.50,225.87 L127.00,229.22 L127.50,232.71 L128.00,236.32 L128.50,240.01 L129.00,243.76 L129.50,247.56 L130.00,251.38 L130.50,255.20 L131.00,259.00 L131.50,262.75 L132.00,266.45 L132.50,270.07 L133.00,273.61 L133.50,277.04 L134.00,280.37 L134.50,283.56 L135.00,286.63 L135.50,289.57 L136.00,292.36 L136.50,295.01 L137.00,297.51 L137.50,299.86 L138.00,302.07 L138.50,304.14 L139.00,306.06 L139.50,307.84 L140.00,309.49 L140.50,311.01 L141.00,312.41 L141.50,313.69 L142.00,314.86 L142.50,315.92 L143.00,316.88 L143.50,317.75 L144.00,318.54 L144.50,319.24 L145.00,319.87 L145.50,320.43 L146.00,320.93 L146.50,321.37 L147.00,321.77 L147.50,322.11 L148.00,322.42 L148.50,322.68 L149.00,322.91 L149.50,323.12 L150.00,323.29 L150.50,323.44 L151.00,323.57 L151.50,323.69 L152.00,323.78 L152.50,323.87 L153.00,323.94 L153.50,324.00 L154.00,324.05 L154.50,324.09 L155.00,324.13 L155.50,324.16 L156.00,324.18 L156.50,324.20 L157.00,324.22 L157.50,324.23 L158.00,324.25 L158.50,324.26 L159.00,324.26 L159.50,324.27 L160.00,324.28 L160.50,324.28 L161.00,324.29 L161.50,324.29 L162.00,324.29 L162.50,324.29 L163.00,324.29 L163.50,324.30 L164.00,324.30 L164.50,324.30 L165.00,324.30 L165.50,324.30 L166.00,324.30 L166.50,324.30 L167.00,324.30 L167.50,324.30 L168.00,324.30 L168.50,324.30 L169.00,324.30 L169.50,324.30 L170.00,324.30 L170.50,324.30 L171.00,324.30 L171.50,324.30 L172.00,324.30 L172.50,324.30 L173.00,324.30 L173.50,324.30 L174.00,324.30 L174.50,324.30 L175.00,324.30 L175.50,324.30 L176.00,324.30 L176.50,324.30 L177.00,324.30 L177.50,324.30 L178.00,324.30 L178.50,324.30 L179.00,324.30 L179.50,324.30 L180.00,324.30 L180.50,324.30 L181.00,324.30 L181.50,324.30 L182.00,324.30 L182.50,324.30 L183.00,324.30 L183.50,324.30 L184.00,324.30 L184.50,324.30 L185.00,324.30 L185.50,324.30 L186.00,324.30 L186.50,324.30 L187.00,324.30 L187.50,324.30 L188.00,324.30 L188.50,324.30 L189.00,324.30 L189.50,324.30 L190.00,324.30 L190.50,324.30 L191.00,324.30 L191.50,324.30 L192.00,324.30 L192.50,324.30 L193.00,324.30 L193.50,324.30 L194.00,324.30 L194.50,324.30 L195.00,324.30 L195.50,324.30 L196.00,324.30 L196.50,324.30 L197.00,324.30 L197.50,324.30 L198.00,324.30 L198.50,324.30 L199.00,324.30 L199.50,324.30 L200.00,324.30 L200.50,324.30 L201.00,324.30 L201.50,324.30 L202.00,324.30 L202.50,324.30 L203.00,324.30 L203.50,324.30 L204.00,324.30 L204.50,324.30 L205.00,324.30 L205.50,324.30 L206.00,324.30 L206.50,324.30 L207.00,324.30 L207.50,324.30 L208.00,324.30 L208.50,324.30 L209.00,324.30 L209.50,324.30 L210.00,324.30 L210.50,324.30 L211.00,324.30 L211.50,324.30 L212.00,324.30 L212.50,324.30 L213.00,324.30 L213.50,324.30 L214.00,324.30 L214.50,324.30 L215.00,324.30 L215.50,324.30 L216.00,324.30 L216.50,324.30 L217.00,324.30 L217.50,324.30 L218.00,324.30 L218.50,324.30 L219.00,324.30 L219.50,324.30 L220.00,324.30 L220.50,324.30 L221.00,324.30 L221.50,324.30 L222.00,324.30 L222.50,324.30 L223.00,324.30 L223.50,324.30 L224.00,324.30" stroke="#ff5c5c" stroke-width="1.05"/>
<path d="M91.00,324.30 L91.50,324.30 L92.00,324.30 L92.50,324.30 L93.00,324.30 L93.50,324.30 L94.00,324.30 L94.50,324.30 L95.00,324.30 L95.50,324.30 L96.00,324.30 L96.50,324.30 L97.00,324.30 L97.50,324.30 L98.00,324.30 L98.50,324.30 L99.00,324.30 L99.50,324.30 L100.00,324.30 L100.50,324.30 L101.00,324.30 L101.50,324.30 L102.00,324.30 L102.50,324.30 L103.00,324.30 L103.50,324.30 L104.00,324.30 L104.50,324.30 L105.00,324.30 L105.50,324.30 L106.00,324.30 L106.50,324.30 L107.00,324.30 L107.50,324.30 L108.00,324.30 L108.50,324.30 L109.00,324.30 L109.50,324.30 L110.00,324.30 L110.50,324.30 L111.00,324.30 L111.50,324.30 L112.00,324.30 L112.50,324.30 L113.00,324.30 L113.50,324.30 L114.00,324.30 L114.50,324.30 L115.00,324.30 L115.50,324.30 L116.00,324.30 L116.50,324.30 L117.00,324.30 L117.50,324.30 L118.00,324.30 L118.50,324.30 L119.00,324.30 L119.50,324.30 L120.00,324.30 L120.50,324.30 L121.00,324.30 L121.50,324.30 L122.00,324.30 L122.50,324.30 L123.00,324.30 L123.50,324.30 L124.00,324.30 L124.50,324.30 L125.00,324.30 L125.50,324.30 L126.00,324.30 L126.50,324.30 L127.00,324.30 L127.50,324.30 L128.00,324.30 L128.50,324.30 L129.00,324.30 L129.50,324.30 L130.00,324.30 L130.50,324.30 L131.00,324.30 L131.50,324.30 L132.00,324.30 L132.50,324.30 L133.00,324.30 L133.50,324.30 L134.00,324.30 L134.50,324.30 L135.00,324.30 L135.50,324.30 L136.00,324.30 L136.50,324.30 L137.00,324.30 L137.50,324.30 L138.00,324.30 L138.50,324.30 L139.00,324.30 L139.50,324.30 L140.00,324.30 L140.50,324.30 L141.00,324.30 L141.50,324.30 L142.00,324.30 L142.50,324.30 L143.00,324.30 L143.50,324.30 L144.00,324.30 L144.50,324.30 L145.00,324.30 L145.50,324.30 L146.00,324.30 L146.50,324.30 L147.00,324.30 L147.50,324.30 L148.00,324.30 L148.50,324.30 L149.00,324.30 L149.50,324.30 L150.00,324.30 L150.50,324.30 L151.00,324.30 L151.50,324.30 L152.00,324.30" stroke="#6464ff" stroke-width="1.0"/>
<path d="M41.50,328.28 L42.00,328.29 L42.50,328.37 L43.00,327.35 L43.50,327.98 L44.00,327.17 L44.50,328.01 L45.00,327.15 L45.50,327.48 L46.00,326.89 L46.50,326.77 L47.00,327.17 L47.50,327.34 L48.00,328.04 L48.50,327.30 L49.00,327.33 L49.50,326.54 L50.00,327.38 L50.50,326.68 L51.00,326.85 L51.50,326.65 L52.00,326.85 L52.50,327.28 L53.00,327.26 L53.50,328.07 L54.00,328.05 L54.50,327.65 L55.00,327.05 L55.50,326.66 L56.00,327.22 L56.50,327.75 L57.00,327.57 L57.50,327.11 L58.00,326.56 L58.50,326.59 L59.00,326.70 L59.50,326.91 L60.00,327.77 L60.50,327.67 L61.00,327.61 L61.50,327.07 L62.00,326.92 L62.50,326.88 L63.00,326.72 L63.50,327.28 L64.00,326.96 L64.50,327.40 L65.00,327.01 L65.50,327.49 L66.00,327.31 L66.50,327.63 L67.00,327.92 L67.50,327.68 L68.00,327.45 L68.50,327.19 L69.00,326.80 L69.50,327.19 L70.00,326.82 L70.50,326.73 L71.00,326.99 L71.50,327.19 L72.00,327.21 L72.50,327.13 L73.00,327.06 L73.50,327.79 L74.00,326.89 L74.50,326.91 L75.00,325.99 L75.50,325.63 L76.00,325.37 L76.50,325.89 L77.00,326.78 L77.50,327.89 L78.00,327.56 L78.50,327.62 L79.00,326.61 L79.50,326.89 L80.00,326.06 L80.50,325.68 L81.00,325.40 L81.50,325.41 L82.00,325.81 L82.50,325.75 L83.00,326.47 L83.50,326.43 L84.00,326.63 L84.50,326.50 L85.00,326.53 L85.50,326.37 L86.00,325.86 L86.50,325.55 L87.00,325.81 L87.50,325.99 L88.00,326.03 L88.50,325.81 L89.00,325.24 L89.50,325.14 L90.00,324.25 L90.50,324.71 L91.00,324.38 L91.50,324.70 L92.00,324.23 L92.50,323.96 L93.00,323.54 L93.50,323.43 L94.00,323.14 L94.50,322.55 L95.00,321.89 L95.50,320.91 L96.00,321.33 L96.50,320.65 L97.00,320.68 L97.50,320.25 L98.00,320.32 L98.50,319.57 L99.00,318.16 L99.50,316.84 L100.00,316.29 L100.50,314.85 L101.00,313.23 L101.50,311.65 L102.00,310.22 L102.50,308.72 L103.00,306.67 L103.50,304.21 L104.00,301.53 L104.50,298.15 L105.00,295.97 L105.50,294.07 L106.00,291.80 L106.50,289.35 L107.00,286.15 L107.50,283.27 L108.00,279.48 L108.50,275.68 L109.00,271.80 L109.50,267.98 L110.00,264.13 L110.50,260.73 L111.00,257.15 L111.50,252.96 L112.00,249.06 L112.50,244.58 L113.00,240.85 L113.50,236.84 L114.00,233.32 L114.50,229.69 L115.00,226.16 L115.50,222.65 L116.00,219.34 L116.50,216.27 L117.00,214.10 L117.50,211.88 L118.00,210.46 L118.50,208.40 L119.00,205.96 L119.50,204.03 L120.00,203.70 L120.50,204.22 L121.00,204.11 L121.50,203.49 L122.00,204.45 L122.50,205.74 L123.00,207.37 L123.50,208.48 L124.00,210.31 L124.50,212.30 L125.00,213.95 L125.50,216.16 L126.00,218.59 L126.50,221.80 L127.00,224.82 L127.50,227.95 L128.00,230.33 L128.50,234.02 L129.00,237.87 L129.50,242.39 L130.00,245.39 L130.50,248.80 L131.00,252.10 L131.50,255.99 L132.00,259.48 L132.50,263.38 L133.00,266.51 L133.50,269.81 L134.00,273.66 L134.50,277.66 L135.00,281.20 L135.50,283.84 L136.00,286.00 L136.50,288.83 L137.00,291.99 L137.50,294.21 L138.00,296.68 L138.50,297.61 L139.00,300.05 L139.50,301.67 L140.00,303.67 L140.50,304.88 L141.00,306.28 L141.50,308.36 L142.00,309.93 L142.50,311.42 L143.00,311.87 L143.50,313.52 L144.00,313.93 L144.50,315.01 L145.00,315.30 L145.50,315.97 L146.00,317.06 L146.50,318.09 L147.00,318.63 L147.50,318.40 L148.00,317.69 L148.50,317.65 L149.00,318.07 L149.50,318.77 L150.00,319.34 L150.50,319.69 L151.00,320.24 L151.50,320.14 L152.00,320.13 L152.50,320.66 L153.00,321.69 L153.50,322.15 L154.00,322.49 L154.50,322.27 L155.00,322.63 L155.50,321.85 L156.00,322.59 L156.50,322.89 L157.00,324.06 L157.50,324.20 L158.00,324.42 L158.50,324.29 L159.00,324.60 L159.50,324.65 L160.00,324.68 L160.50,324.42 L161.00,324.84 L161.50,325.29 L162.00,325.98 L162.50,325.77 L163.00,325.95 L163.50,325.17 L164.00,325.46 L164.50,325.14 L165.00,325.98 L165.50,326.01 L166.00,325.84 L166.50,325.48 L167.00,325.41 L167.50,325.47 L168.00,325.20 L168.50,324.79 L169.00,325.82 L169.50,325.97 L170.00,326.62 L170.50,325.34 L171.00,324.94 L171.50,324.58 L172.00,324.93 L172.50,325.56 L173.00,325.29 L173.50,325.53 L174.00,325.78 L174.50,325.82 L175.00,325.95 L175.50,325.14 L176.00,325.57 L176.50,325.40 L177.00,326.30 L177.50,325.97 L178.00,325.91 L178.50,325.69 L179.00,325.54 L179.50,325.49 L180.00,324.87 L180.50,325.04 L181.00,325.28 L181.50,325.80 L182.00,326.90 L182.50,327.13 L183.00,327.34 L183.50,326.44 L184.00,325.90 L184.50,325.53 L185.00,324.84 L185.50,325.45 L186.00,325.15 L186.50,325.51 L187.00,324.78 L187.50,325.25 L188.00,325.97 L188.50,325.96 L189.00,325.77 L189.50,325.31 L190.00,325.06 L190.50,324.94 L191.00,324.93 L191.50,324.71 L192.00,324.98 L192.50,324.42 L193.00,324.96 L193.50,324.22 L194.00,324.43 L194.50,324.08 L195.00,324.62 L195.50,324.44 L196.00,324.57 L196.50,324.81 L197.00,324.96 L197.50,324.98 L198.00,324.65 L198.50,324.65 L199.00,324.78 L199.50,324.30 L200.00,324.69 L200.50,324.45 L201.00,324.25 L201.50,324.38 L202.00,324.22 L202.50,324.34 L203.00,323.46 L203.50,323.23 L204.00,323.19 L204.50,323.45 L205.00,323.86 L205.50,323.35 L206.00,323.08 L206.50,323.00 L207.00,323.39 L207.50,323.54 L208.00,323.57 L208.50,323.51 L209.00,323.43 L209.50,322.79 L210.00,323.15 L210.50,323.24 L211.00,322.91 L211.50,322.41 L212.00,321.58 L212.50,322.07 L213.00,322.02 L213.50,322.24 L214.00,321.65 L214.50,320.74 L215.00,320.95 L215.50,320.94 L216.00,321.33 L216.50,321.22 L217.00,320.94 L217.50,320.75 L218.00,320.18 L218.50,319.86 L219.00,320.74 L219.50,320.81 L220.00,321.04 L220.50,320.44 L221.00,319.37 L221.50,319.38 L222.00,318.99 L222.50,319.60 L223.00,319.67 L223.50,318.89 L224.00,319.11" stroke="#000000" stroke-width="1.1"/>
</g>
<line x1="41.5" y1="187.7" x2="41.5" y2="336.7" stroke="#4a4a4a" stroke-width="1.0"/>
<line x1="41.0" y1="188.2" x2="224.7" y2="188.2" stroke="#707070" stroke-width="1.1"/>
<line x1="224.0" y1="187.7" x2="224.0" y2="336.7" stroke="#adadad" stroke-width="1.6"/>
<line x1="41.0" y1="336.5" x2="224.7" y2="336.5" stroke="#4a4a4a" stroke-width="1.0"/>
<line x1="41.50" y1="336.2" x2="41.50" y2="339.2" stroke="#777" stroke-width="1.1"/>
<line x1="93.84" y1="336.2" x2="93.84" y2="339.2" stroke="#777" stroke-width="1.1"/>
<line x1="146.17" y1="336.2" x2="146.17" y2="339.2" stroke="#777" stroke-width="1.1"/>
<line x1="198.50" y1="336.2" x2="198.50" y2="339.2" stroke="#777" stroke-width="1.1"/>
<line x1="67.67" y1="336.2" x2="67.67" y2="338.2" stroke="#777" stroke-width="1.1"/>
<line x1="120.00" y1="336.2" x2="120.00" y2="338.2" stroke="#777" stroke-width="1.1"/>
<line x1="172.34" y1="336.2" x2="172.34" y2="338.2" stroke="#777" stroke-width="1.1"/>
<line x1="224.67" y1="336.2" x2="224.67" y2="338.2" stroke="#777" stroke-width="1.1"/>
<line x1="38.5" y1="313.65" x2="41.5" y2="313.65" stroke="#777" stroke-width="1.1"/>
<line x1="38.5" y1="279.50" x2="41.5" y2="279.50" stroke="#777" stroke-width="1.1"/>
<line x1="38.5" y1="245.35" x2="41.5" y2="245.35" stroke="#777" stroke-width="1.1"/>
<line x1="38.5" y1="211.20" x2="41.5" y2="211.20" stroke="#777" stroke-width="1.1"/>
<line x1="39.5" y1="330.72" x2="41.5" y2="330.72" stroke="#777" stroke-width="1.1"/>
<line x1="39.5" y1="296.57" x2="41.5" y2="296.57" stroke="#777" stroke-width="1.1"/>
<line x1="39.5" y1="262.42" x2="41.5" y2="262.42" stroke="#777" stroke-width="1.1"/>
<line x1="39.5" y1="228.27" x2="41.5" y2="228.27" stroke="#777" stroke-width="1.1"/>
<line x1="39.5" y1="194.13" x2="41.5" y2="194.13" stroke="#777" stroke-width="1.1"/>
<text x="41.50" y="348.0" font-size="9.1" text-anchor="middle">1295</text>
<text x="93.84" y="348.0" font-size="9.1" text-anchor="middle">1300</text>
<text x="146.17" y="348.0" font-size="9.1" text-anchor="middle">1305</text>
<text x="198.50" y="348.0" font-size="9.1" text-anchor="middle">1310</text>
<text x="35.9" y="316.18" font-size="7.45" text-anchor="end">6000</text>
<text x="35.9" y="282.03" font-size="7.45" text-anchor="end">9000</text>
<text x="35.9" y="247.88" font-size="7.45" text-anchor="end">12000</text>
<text x="35.9" y="213.73" font-size="7.45" text-anchor="end">15000</text>
<text x="131.8" y="359.3" font-size="10.8" text-anchor="middle">Binding energy (eV)</text>
<text transform="translate(15.1,260.8) rotate(-90)" font-size="10.8" text-anchor="middle">Counts (a.u)</text>
<text transform="translate(48.2,211.20) scale(1,1.0)" font-size="22.88">(d)</text>
<text transform="translate(221.79999999999998,201.30) scale(1,1.0)" font-size="12.92" text-anchor="end">Mg 1s</text>
<text x="125.4" y="198.4" font-size="9.0" text-anchor="middle">1302.61</text>
<clipPath id="ce"><rect x="271.5" y="189.3" width="182.2" height="147.8"/></clipPath>
<g clip-path="url(#ce)" fill="none" stroke-linejoin="round" stroke-linecap="round">
<path d="M271.50,331.30 L272.00,331.30 L272.50,331.30 L273.00,331.30 L273.50,331.30 L274.00,331.30 L274.50,331.30 L275.00,331.30 L275.50,331.30 L276.00,331.30 L276.50,331.30 L277.00,331.30 L277.50,331.30 L278.00,331.30 L278.50,331.30 L279.00,331.30 L279.50,331.30 L280.00,331.30 L280.50,331.30 L281.00,331.30 L281.50,331.30 L282.00,331.30 L282.50,331.30 L283.00,331.30 L283.50,331.30 L284.00,331.30 L284.50,331.30 L285.00,331.30 L285.50,331.30 L286.00,331.30 L286.50,331.30 L287.00,331.30 L287.50,331.30 L288.00,331.30 L288.50,331.30 L289.00,331.30 L289.50,331.30 L290.00,331.30 L290.50,331.30 L291.00,331.30 L291.50,331.30 L292.00,331.30 L292.50,331.30 L293.00,331.30 L293.50,331.30 L294.00,331.30 L294.50,331.30 L295.00,331.30 L295.50,331.30 L296.00,331.30 L296.50,331.30 L297.00,331.30 L297.50,331.30 L298.00,331.30 L298.50,331.30 L299.00,331.30 L299.50,331.30 L300.00,331.30 L300.50,331.30 L301.00,331.30 L301.50,331.30 L302.00,331.30 L302.50,331.30 L303.00,331.30 L303.50,331.30 L304.00,331.30 L304.50,331.30 L305.00,331.30 L305.50,331.30 L306.00,331.30 L306.50,331.30 L307.00,331.30 L307.50,331.30 L308.00,331.30 L308.50,331.30 L309.00,331.30 L309.50,331.30 L310.00,331.30 L310.50,331.30 L311.00,331.30 L311.50,331.30 L312.00,331.30 L312.50,331.30 L313.00,331.30 L313.50,331.30 L314.00,331.30 L314.50,331.30 L315.00,331.30 L315.50,331.30 L316.00,331.30 L316.50,331.30 L317.00,331.30 L317.50,331.30 L318.00,331.30 L318.50,331.29 L319.00,331.29 L319.50,331.29 L320.00,331.29 L320.50,331.28 L321.00,331.28 L321.50,331.27 L322.00,331.27 L322.50,331.26 L323.00,331.25 L323.50,331.24 L324.00,331.22 L324.50,331.20 L325.00,331.18 L325.50,331.15 L326.00,331.11 L326.50,331.07 L327.00,331.02 L327.50,330.96 L328.00,330.89 L328.50,330.80 L329.00,330.70 L329.50,330.58 L330.00,330.43 L330.50,330.26 L331.00,330.07 L331.50,329.84 L332.00,329.57 L332.50,329.26 L333.00,328.91 L333.50,328.50 L334.00,328.03 L334.50,327.50 L335.00,326.89 L335.50,326.20 L336.00,325.42 L336.50,324.55 L337.00,323.57 L337.50,322.48 L338.00,321.27 L338.50,319.93 L339.00,318.45 L339.50,316.82 L340.00,315.04 L340.50,313.10 L341.00,311.00 L341.50,308.72 L342.00,306.27 L342.50,303.65 L343.00,300.85 L343.50,297.87 L344.00,294.72 L344.50,291.40 L345.00,287.92 L345.50,284.29 L346.00,280.52 L346.50,276.62 L347.00,272.62 L347.50,268.52 L348.00,264.36 L348.50,260.14 L349.00,255.91 L349.50,251.68 L350.00,247.49 L350.50,243.36 L351.00,239.32 L351.50,235.41 L352.00,231.66 L352.50,228.09 L353.00,224.74 L353.50,221.63 L354.00,218.80 L354.50,216.26 L355.00,214.05 L355.50,212.18 L356.00,210.67 L356.50,209.54 L357.00,208.79 L357.50,208.43 L358.00,208.47 L358.50,208.91 L359.00,209.73 L359.50,210.94 L360.00,212.53 L360.50,214.47 L361.00,216.74 L361.50,219.34 L362.00,222.23 L362.50,225.39 L363.00,228.79 L363.50,232.39 L364.00,236.18 L364.50,240.12 L365.00,244.18 L365.50,248.32 L366.00,252.53 L366.50,256.76 L367.00,260.99 L367.50,265.19 L368.00,269.35 L368.50,273.43 L369.00,277.41 L369.50,281.28 L370.00,285.03 L370.50,288.63 L371.00,292.08 L371.50,295.36 L372.00,298.48 L372.50,301.42 L373.00,304.19 L373.50,306.78 L374.00,309.19 L374.50,311.43 L375.00,313.50 L375.50,315.41 L376.00,317.16 L376.50,318.75 L377.00,320.21 L377.50,321.52 L378.00,322.71 L378.50,323.78 L379.00,324.73 L379.50,325.59 L380.00,326.34 L380.50,327.02 L381.00,327.61 L381.50,328.13 L382.00,328.58 L382.50,328.98 L383.00,329.33 L383.50,329.63 L384.00,329.89 L384.50,330.11 L385.00,330.30 L385.50,330.46 L386.00,330.60 L386.50,330.72 L387.00,330.82 L387.50,330.90 L388.00,330.97 L388.50,331.03 L389.00,331.08 L389.50,331.12 L390.00,331.15 L390.50,331.18 L391.00,331.20 L391.50,331.22 L392.00,331.24 L392.50,331.25 L393.00,331.26 L393.50,331.27 L394.00,331.28 L394.50,331.28 L395.00,331.28 L395.50,331.29 L396.00,331.29 L396.50,331.29 L397.00,331.29 L397.50,331.30 L398.00,331.30 L398.50,331.30 L399.00,331.30 L399.50,331.30 L400.00,331.30 L400.50,331.30 L401.00,331.30 L401.50,331.30 L402.00,331.30 L402.50,331.30 L403.00,331.30 L403.50,331.30 L404.00,331.30 L404.50,331.30 L405.00,331.30 L405.50,331.30 L406.00,331.30 L406.50,331.30 L407.00,331.30 L407.50,331.30 L408.00,331.30 L408.50,331.30 L409.00,331.30 L409.50,331.30 L410.00,331.30 L410.50,331.30 L411.00,331.30 L411.50,331.30 L412.00,331.30 L412.50,331.30 L413.00,331.30 L413.50,331.30 L414.00,331.30 L414.50,331.30 L415.00,331.30 L415.50,331.30 L416.00,331.30 L416.50,331.30 L417.00,331.30 L417.50,331.30 L418.00,331.30 L418.50,331.30 L419.00,331.30 L419.50,331.30 L420.00,331.30 L420.50,331.30 L421.00,331.30 L421.50,331.30 L422.00,331.30 L422.50,331.30 L423.00,331.30 L423.50,331.30 L424.00,331.30 L424.50,331.30 L425.00,331.30 L425.50,331.30 L426.00,331.30 L426.50,331.30 L427.00,331.30 L427.50,331.30 L428.00,331.30 L428.50,331.30 L429.00,331.30 L429.50,331.30 L430.00,331.30 L430.50,331.30 L431.00,331.30 L431.50,331.30 L432.00,331.30 L432.50,331.30 L433.00,331.30 L433.50,331.30 L434.00,331.30 L434.50,331.30 L435.00,331.30 L435.50,331.30 L436.00,331.30 L436.50,331.30 L437.00,331.30 L437.50,331.30 L438.00,331.30 L438.50,331.30 L439.00,331.30 L439.50,331.30 L440.00,331.30 L440.50,331.30 L441.00,331.30 L441.50,331.30 L442.00,331.30 L442.50,331.30 L443.00,331.30 L443.50,331.30 L444.00,331.30 L444.50,331.30 L445.00,331.30 L445.50,331.30 L446.00,331.30 L446.50,331.30 L447.00,331.30 L447.50,331.30 L448.00,331.30 L448.50,331.30 L449.00,331.30 L449.50,331.30 L450.00,331.30 L450.50,331.30 L451.00,331.30 L451.50,331.30 L452.00,331.30 L452.50,331.30 L453.00,331.30 L453.50,331.30" stroke="#ff5c5c" stroke-width="1.05"/>
<path d="M326.00,331.30 L326.50,331.30 L327.00,331.30 L327.50,331.30 L328.00,331.30 L328.50,331.30 L329.00,331.30 L329.50,331.30 L330.00,331.30 L330.50,331.30 L331.00,331.30 L331.50,331.30 L332.00,331.30 L332.50,331.30 L333.00,331.30 L333.50,331.30 L334.00,331.30 L334.50,331.30 L335.00,331.30 L335.50,331.30 L336.00,331.30 L336.50,331.30 L337.00,331.30 L337.50,331.30 L338.00,331.30 L338.50,331.30 L339.00,331.30 L339.50,331.30 L340.00,331.30 L340.50,331.30 L341.00,331.30 L341.50,331.30 L342.00,331.30 L342.50,331.30 L343.00,331.30 L343.50,331.30 L344.00,331.30 L344.50,331.30 L345.00,331.30 L345.50,331.30 L346.00,331.30 L346.50,331.30 L347.00,331.30 L347.50,331.30 L348.00,331.30 L348.50,331.30 L349.00,331.30 L349.50,331.30 L350.00,331.30 L350.50,331.30 L351.00,331.30 L351.50,331.30 L352.00,331.30 L352.50,331.30 L353.00,331.30 L353.50,331.30 L354.00,331.30 L354.50,331.30 L355.00,331.30 L355.50,331.30 L356.00,331.30 L356.50,331.30 L357.00,331.30 L357.50,331.30 L358.00,331.30 L358.50,331.30 L359.00,331.30 L359.50,331.30 L360.00,331.30 L360.50,331.30 L361.00,331.30 L361.50,331.30 L362.00,331.30 L362.50,331.30 L363.00,331.30 L363.50,331.30 L364.00,331.30 L364.50,331.30 L365.00,331.30 L365.50,331.30 L366.00,331.30 L366.50,331.30 L367.00,331.30 L367.50,331.30 L368.00,331.30 L368.50,331.30 L369.00,331.30 L369.50,331.30 L370.00,331.30 L370.50,331.30 L371.00,331.30 L371.50,331.30 L372.00,331.30 L372.50,331.30 L373.00,331.30 L373.50,331.30 L374.00,331.30 L374.50,331.30 L375.00,331.30 L375.50,331.30 L376.00,331.30 L376.50,331.30 L377.00,331.30 L377.50,331.30 L378.00,331.30 L378.50,331.30 L379.00,331.30 L379.50,331.30 L380.00,331.30 L380.50,331.30 L381.00,331.30 L381.50,331.30 L382.00,331.30 L382.50,331.30 L383.00,331.30 L383.50,331.30 L384.00,331.30 L384.50,331.30 L385.00,331.30 L385.50,331.30 L386.00,331.30 L386.50,331.30 L387.00,331.30 L387.50,331.30 L388.00,331.30 L388.50,331.30 L389.00,331.30" stroke="#6464ff" stroke-width="1.0"/>
<path d="M271.50,334.52 L272.00,333.68 L272.50,334.10 L273.00,334.55 L273.50,334.30 L274.00,333.76 L274.50,333.32 L275.00,333.66 L275.50,333.53 L276.00,333.67 L276.50,334.04 L277.00,334.17 L277.50,334.21 L278.00,334.15 L278.50,334.43 L279.00,334.09 L279.50,333.87 L280.00,333.29 L280.50,333.75 L281.00,333.42 L281.50,333.73 L282.00,333.77 L282.50,334.08 L283.00,333.74 L283.50,333.62 L284.00,333.36 L284.50,333.26 L285.00,333.45 L285.50,333.44 L286.00,334.24 L286.50,334.39 L287.00,334.10 L287.50,333.81 L288.00,333.22 L288.50,333.87 L289.00,333.79 L289.50,333.50 L290.00,333.41 L290.50,333.31 L291.00,334.25 L291.50,333.94 L292.00,334.25 L292.50,333.59 L293.00,333.85 L293.50,333.34 L294.00,334.15 L294.50,334.43 L295.00,335.47 L295.50,335.21 L296.00,335.29 L296.50,334.78 L297.00,334.38 L297.50,334.08 L298.00,334.24 L298.50,334.30 L299.00,334.38 L299.50,333.93 L300.00,334.25 L300.50,334.05 L301.00,333.99 L301.50,333.86 L302.00,333.99 L302.50,333.75 L303.00,333.94 L303.50,333.47 L304.00,333.35 L304.50,332.64 L305.00,333.34 L305.50,333.59 L306.00,333.67 L306.50,332.98 L307.00,333.22 L307.50,333.17 L308.00,333.11 L308.50,333.16 L309.00,333.09 L309.50,333.38 L310.00,333.16 L310.50,333.39 L311.00,333.45 L311.50,333.87 L312.00,333.83 L312.50,333.42 L313.00,332.39 L313.50,332.47 L314.00,332.75 L314.50,333.40 L315.00,333.30 L315.50,333.24 L316.00,332.91 L316.50,332.87 L317.00,333.06 L317.50,333.15 L318.00,333.33 L318.50,333.87 L319.00,334.13 L319.50,333.57 L320.00,333.50 L320.50,333.43 L321.00,333.61 L321.50,333.32 L322.00,333.19 L322.50,333.27 L323.00,332.75 L323.50,332.40 L324.00,332.59 L324.50,333.10 L325.00,333.28 L325.50,333.37 L326.00,333.60 L326.50,333.28 L327.00,333.19 L327.50,332.45 L328.00,332.46 L328.50,332.00 L329.00,332.04 L329.50,332.45 L330.00,332.53 L330.50,332.40 L331.00,332.33 L331.50,332.41 L332.00,332.47 L332.50,332.16 L333.00,331.97 L333.50,331.99 L334.00,331.73 L334.50,331.25 L335.00,330.47 L335.50,329.51 L336.00,328.82 L336.50,328.23 L337.00,328.03 L337.50,327.84 L338.00,326.69 L338.50,325.09 L339.00,324.16 L339.50,323.31 L340.00,322.08 L340.50,320.38 L341.00,318.34 L341.50,316.20 L342.00,313.53 L342.50,311.05 L343.00,309.60 L343.50,306.73 L344.00,303.82 L344.50,300.01 L345.00,296.70 L345.50,292.82 L346.00,289.09 L346.50,285.46 L347.00,281.68 L347.50,276.87 L348.00,271.57 L348.50,266.71 L349.00,262.00 L349.50,257.34 L350.00,251.93 L350.50,247.97 L351.00,243.74 L351.50,239.36 L352.00,234.59 L352.50,230.51 L353.00,226.10 L353.50,221.98 L354.00,218.12 L354.50,216.17 L355.00,213.80 L355.50,211.80 L356.00,210.00 L356.50,209.55 L357.00,209.74 L357.50,209.52 L358.00,208.95 L358.50,209.78 L359.00,210.65 L359.50,212.10 L360.00,212.92 L360.50,215.36 L361.00,218.14 L361.50,220.79 L362.00,223.14 L362.50,225.98 L363.00,229.14 L363.50,233.41 L364.00,236.77 L364.50,239.92 L365.00,242.73 L365.50,247.00 L366.00,251.10 L366.50,254.62 L367.00,257.81 L367.50,261.79 L368.00,266.60 L368.50,270.13 L369.00,273.92 L369.50,277.26 L370.00,280.70 L370.50,283.64 L371.00,287.02 L371.50,290.71 L372.00,293.81 L372.50,295.97 L373.00,298.24 L373.50,300.24 L374.00,302.27 L374.50,303.67 L375.00,305.61 L375.50,307.39 L376.00,310.21 L376.50,311.69 L377.00,313.58 L377.50,314.47 L378.00,315.75 L378.50,316.91 L379.00,316.92 L379.50,318.08 L380.00,318.98 L380.50,319.86 L381.00,320.36 L381.50,321.28 L382.00,322.77 L382.50,323.55 L383.00,323.81 L383.50,324.39 L384.00,325.61 L384.50,326.46 L385.00,327.09 L385.50,327.17 L386.00,327.49 L386.50,328.45 L387.00,329.18 L387.50,329.77 L388.00,329.63 L388.50,329.41 L389.00,329.25 L389.50,329.74 L390.00,330.40 L390.50,330.52 L391.00,329.96 L391.50,330.11 L392.00,330.41 L392.50,330.92 L393.00,330.87 L393.50,331.15 L394.00,331.43 L394.50,331.90 L395.00,332.16 L395.50,332.54 L396.00,332.54 L396.50,332.18 L397.00,331.77 L397.50,331.71 L398.00,331.75 L398.50,331.97 L399.00,332.21 L399.50,332.08 L400.00,331.37 L400.50,331.41 L401.00,331.70 L401.50,332.51 L402.00,331.73 L402.50,332.30 L403.00,332.34 L403.50,332.74 L404.00,332.10 L404.50,331.93 L405.00,331.94 L405.50,331.98 L406.00,331.61 L406.50,332.09 L407.00,332.19 L407.50,332.60 L408.00,332.25 L408.50,331.53 L409.00,331.70 L409.50,331.59 L410.00,332.27 L410.50,332.10 L411.00,331.87 L411.50,332.20 L412.00,331.93 L412.50,331.93 L413.00,331.35 L413.50,331.60 L414.00,332.10 L414.50,332.16 L415.00,331.60 L415.50,331.67 L416.00,331.50 L416.50,332.33 L417.00,331.95 L417.50,332.04 L418.00,331.43 L418.50,331.57 L419.00,332.05 L419.50,332.16 L420.00,332.29 L420.50,332.65 L421.00,332.62 L421.50,331.92 L422.00,330.89 L422.50,330.49 L423.00,330.62 L423.50,330.70 L424.00,330.70 L424.50,331.04 L425.00,330.41 L425.50,330.36 L426.00,330.79 L426.50,331.90 L427.00,332.44 L427.50,331.89 L428.00,332.08 L428.50,332.03 L429.00,331.86 L429.50,330.85 L430.00,330.61 L430.50,330.30 L431.00,330.42 L431.50,330.16 L432.00,330.33 L432.50,330.40 L433.00,330.86 L433.50,330.40 L434.00,330.40 L434.50,330.67 L435.00,331.05 L435.50,331.44 L436.00,331.16 L436.50,331.52 L437.00,331.32 L437.50,330.47 L438.00,329.91 L438.50,329.50 L439.00,329.40 L439.50,329.29 L440.00,328.96 L440.50,328.84 L441.00,328.98 L441.50,329.28 L442.00,329.51 L442.50,329.06 L443.00,328.82 L443.50,328.84 L444.00,328.93 L444.50,329.00 L445.00,328.91 L445.50,329.08 L446.00,329.19 L446.50,329.36 L447.00,328.95 L447.50,328.50 L448.00,328.45 L448.50,328.51 L449.00,328.62 L449.50,327.60 L450.00,326.72 L450.50,326.76 L451.00,327.58 L451.50,328.81 L452.00,328.85 L452.50,328.74 L453.00,328.22 L453.50,327.45" stroke="#000000" stroke-width="1.1"/>
</g>
<line x1="271.5" y1="188.8" x2="271.5" y2="337.6" stroke="#707070" stroke-width="1.1"/>
<line x1="271.0" y1="189.3" x2="454.2" y2="189.3" stroke="#707070" stroke-width="1.1"/>
<line x1="454.0" y1="188.8" x2="454.0" y2="337.6" stroke="#adadad" stroke-width="1.6"/>
<line x1="271.0" y1="337.5" x2="454.2" y2="337.5" stroke="#4a4a4a" stroke-width="1.0"/>
<line x1="298.20" y1="337.1" x2="298.20" y2="340.1" stroke="#777" stroke-width="1.1"/>
<line x1="344.05" y1="337.1" x2="344.05" y2="340.1" stroke="#777" stroke-width="1.1"/>
<line x1="389.90" y1="337.1" x2="389.90" y2="340.1" stroke="#777" stroke-width="1.1"/>
<line x1="435.75" y1="337.1" x2="435.75" y2="340.1" stroke="#777" stroke-width="1.1"/>
<line x1="275.27" y1="337.1" x2="275.27" y2="339.1" stroke="#777" stroke-width="1.1"/>
<line x1="321.12" y1="337.1" x2="321.12" y2="339.1" stroke="#777" stroke-width="1.1"/>
<line x1="366.98" y1="337.1" x2="366.98" y2="339.1" stroke="#777" stroke-width="1.1"/>
<line x1="412.82" y1="337.1" x2="412.82" y2="339.1" stroke="#777" stroke-width="1.1"/>
<line x1="268.5" y1="325.50" x2="271.5" y2="325.50" stroke="#777" stroke-width="1.1"/>
<line x1="268.5" y1="291.52" x2="271.5" y2="291.52" stroke="#777" stroke-width="1.1"/>
<line x1="268.5" y1="257.55" x2="271.5" y2="257.55" stroke="#777" stroke-width="1.1"/>
<line x1="268.5" y1="223.57" x2="271.5" y2="223.57" stroke="#777" stroke-width="1.1"/>
<line x1="268.5" y1="189.60" x2="271.5" y2="189.60" stroke="#777" stroke-width="1.1"/>
<line x1="269.5" y1="308.51" x2="271.5" y2="308.51" stroke="#777" stroke-width="1.1"/>
<line x1="269.5" y1="274.54" x2="271.5" y2="274.54" stroke="#777" stroke-width="1.1"/>
<line x1="269.5" y1="240.56" x2="271.5" y2="240.56" stroke="#777" stroke-width="1.1"/>
<line x1="269.5" y1="206.59" x2="271.5" y2="206.59" stroke="#777" stroke-width="1.1"/>
<text x="298.20" y="348.8" font-size="9.1" text-anchor="middle">525</text>
<text x="344.05" y="348.8" font-size="9.1" text-anchor="middle">530</text>
<text x="389.90" y="348.8" font-size="9.1" text-anchor="middle">535</text>
<text x="435.75" y="348.8" font-size="9.1" text-anchor="middle">540</text>
<text x="265.9" y="328.59" font-size="9.1" text-anchor="end">6000</text>
<text x="265.9" y="294.62" font-size="9.1" text-anchor="end">12000</text>
<text x="265.9" y="260.64" font-size="9.1" text-anchor="end">18000</text>
<text x="265.9" y="226.67" font-size="9.1" text-anchor="end">24000</text>
<text x="265.9" y="192.69" font-size="9.1" text-anchor="end">30000</text>
<text x="366.8" y="359.3" font-size="10.8" text-anchor="middle">Binding energy (eV)</text>
<text transform="translate(241.8,260.5) rotate(-90)" font-size="10.8" text-anchor="middle">Counts (a.u)</text>
<text transform="translate(279.8,209.50) scale(1,1.0)" font-size="22.46">(e)</text>
<text transform="translate(442.7,203.50) scale(1,1.0)" font-size="12.92" text-anchor="end">O 1s</text>
<text x="356" y="204.9" font-size="9.0" text-anchor="middle">531.46</text>
<clipPath id="cf"><rect x="499.5" y="189.6" width="182.0" height="147.29999999999998"/></clipPath>
<g clip-path="url(#cf)" fill="none" stroke-linejoin="round" stroke-linecap="round">
<path d="M577.00,247.16 L577.50,251.08 L578.00,255.11 L578.50,259.18 L579.00,263.27 L579.50,267.34 L580.00,271.36 L580.50,275.29 L581.00,279.10 L581.50,282.79 L582.00,286.32 L582.50,289.67 L583.00,292.85 L583.50,295.83 L584.00,298.61 L584.50,301.20 L585.00,303.58 L585.50,305.77 L586.00,307.76 L586.50,309.57 L587.00,311.20 L587.50,312.66 L588.00,313.97 L588.50,315.12 L589.00,316.15 L589.50,317.04 L590.00,317.83 L590.50,318.51 L591.00,319.10 L591.50,319.60 L592.00,320.04 L592.50,320.41 L593.00,320.72 L593.50,320.98 L594.00,321.20 L594.50,321.39 L595.00,321.54 L595.50,321.67 L596.00,321.77 L596.50,321.86 L597.00,321.93 L597.50,321.98 L598.00,322.03 L598.50,322.07 L599.00,322.09 L599.50,322.12 L600.00,322.14 L600.50,322.15 L601.00,322.16 L601.50,322.17 L602.00,322.18 L602.50,322.18 L603.00,322.19 L603.50,322.19 L604.00,322.19 L604.50,322.19 L605.00,322.20 L605.50,322.20 L606.00,322.20 L606.50,322.20 L607.00,322.20 L607.50,322.20 L608.00,322.20 L608.50,322.20 L609.00,322.20 L609.50,322.20 L610.00,322.20 L610.50,322.20 L611.00,322.20 L611.50,322.20 L612.00,322.20 L612.50,322.20 L613.00,322.20 L613.50,322.20 L614.00,322.20 L614.50,322.20 L615.00,322.20 L615.50,322.20 L616.00,322.20 L616.50,322.20 L617.00,322.20 L617.50,322.20 L618.00,322.20 L618.50,322.20 L619.00,322.20 L619.50,322.20 L620.00,322.20 L620.50,322.20 L621.00,322.20 L621.50,322.20 L622.00,322.20 L622.50,322.20 L623.00,322.20 L623.50,322.20 L624.00,322.20 L624.50,322.20 L625.00,322.20 L625.50,322.20 L626.00,322.20 L626.50,322.20 L627.00,322.20 L627.50,322.20 L628.00,322.20 L628.50,322.20 L629.00,322.20 L629.50,322.20 L630.00,322.20 L630.50,322.20 L631.00,322.20 L631.50,322.20 L632.00,322.20 L632.50,322.20 L633.00,322.20 L633.50,322.20 L634.00,322.20 L634.50,322.20 L635.00,322.20 L635.50,322.20 L636.00,322.20 L636.50,322.20 L637.00,322.20 L637.50,322.20 L638.00,322.20 L638.50,322.20 L639.00,322.20 L639.50,322.20 L640.00,322.20 L640.50,322.20 L641.00,322.20 L641.50,322.20 L642.00,322.20 L642.50,322.20 L643.00,322.20 L643.50,322.20" stroke="#ff5c5c" stroke-width="1.2"/>
<path d="M550.00,322.20 L550.50,322.20 L551.00,322.20 L551.50,322.20 L552.00,322.20 L552.50,322.20 L553.00,322.20 L553.50,322.20 L554.00,322.20 L554.50,322.20 L555.00,322.20 L555.50,322.20 L556.00,322.20 L556.50,322.20 L557.00,322.20 L557.50,322.20 L558.00,322.20 L558.50,322.20 L559.00,322.20 L559.50,322.20 L560.00,322.20 L560.50,322.20 L561.00,322.20 L561.50,322.20 L562.00,322.20 L562.50,322.20 L563.00,322.20 L563.50,322.20 L564.00,322.20 L564.50,322.20 L565.00,322.19 L565.50,322.19 L566.00,322.19 L566.50,322.19 L567.00,322.19 L567.50,322.19 L568.00,322.18 L568.50,322.18 L569.00,322.18 L569.50,322.17 L570.00,322.17 L570.50,322.16 L571.00,322.16 L571.50,322.15 L572.00,322.14 L572.50,322.13 L573.00,322.12 L573.50,322.10 L574.00,322.09 L574.50,322.07 L575.00,322.05 L575.50,322.03 L576.00,322.00 L576.50,321.97 L577.00,321.94 L577.50,321.90 L578.00,321.86 L578.50,321.81 L579.00,321.75 L579.50,321.69 L580.00,321.62 L580.50,321.55 L581.00,321.46 L581.50,321.37 L582.00,321.27 L582.50,321.15 L583.00,321.02 L583.50,320.89 L584.00,320.73 L584.50,320.57 L585.00,320.39 L585.50,320.19 L586.00,319.98 L586.50,319.75 L587.00,319.50 L587.50,319.23 L588.00,318.94 L588.50,318.63 L589.00,318.30 L589.50,317.94 L590.00,317.57 L590.50,317.17 L591.00,316.75 L591.50,316.31 L592.00,315.84 L592.50,315.35 L593.00,314.84 L593.50,314.30 L594.00,313.75 L594.50,313.17 L595.00,312.58 L595.50,311.96 L596.00,311.33 L596.50,310.69 L597.00,310.03" stroke="#6464ff" stroke-width="1.0"/>
<path d="M499.50,322.20 L500.00,322.20 L500.50,322.20 L501.00,322.20 L501.50,322.20 L502.00,322.20 L502.50,322.20 L503.00,322.20 L503.50,322.20 L504.00,322.20 L504.50,322.20 L505.00,322.20 L505.50,322.20 L506.00,322.20 L506.50,322.20 L507.00,322.20 L507.50,322.20 L508.00,322.20 L508.50,322.20 L509.00,322.20 L509.50,322.20 L510.00,322.20 L510.50,322.20 L511.00,322.20 L511.50,322.20 L512.00,322.20 L512.50,322.20 L513.00,322.20 L513.50,322.20 L514.00,322.20 L514.50,322.20 L515.00,322.20 L515.50,322.20 L516.00,322.20 L516.50,322.20 L517.00,322.20 L517.50,322.20 L518.00,322.20 L518.50,322.20 L519.00,322.20 L519.50,322.20 L520.00,322.20 L520.50,322.20 L521.00,322.20 L521.50,322.20 L522.00,322.20 L522.50,322.20 L523.00,322.20 L523.50,322.20 L524.00,322.20 L524.50,322.20 L525.00,322.20 L525.50,322.20 L526.00,322.20 L526.50,322.20 L527.00,322.20 L527.50,322.20 L528.00,322.20 L528.50,322.20 L529.00,322.20 L529.50,322.20 L530.00,322.20 L530.50,322.20 L531.00,322.20 L531.50,322.20 L532.00,322.20 L532.50,322.20 L533.00,322.20 L533.50,322.20 L534.00,322.20 L534.50,322.20 L535.00,322.20 L535.50,322.20 L536.00,322.20 L536.50,322.20 L537.00,322.20 L537.50,322.20 L538.00,322.19 L538.50,322.19 L539.00,322.19 L539.50,322.19 L540.00,322.18 L540.50,322.18 L541.00,322.17 L541.50,322.16 L542.00,322.15 L542.50,322.13 L543.00,322.11 L543.50,322.09 L544.00,322.06 L544.50,322.02 L545.00,321.97 L545.50,321.91 L546.00,321.84 L546.50,321.75 L547.00,321.64 L547.50,321.51 L548.00,321.35 L548.50,321.16 L549.00,320.93 L549.50,320.66 L550.00,320.34 L550.50,319.96 L551.00,319.51 L551.50,318.99 L552.00,318.38 L552.50,317.68 L553.00,316.87 L553.50,315.95 L554.00,314.90 L554.50,313.72 L555.00,312.38 L555.50,310.89 L556.00,309.22 L556.50,307.38 L557.00,305.34 L557.50,303.12 L558.00,300.69 L558.50,298.07 L559.00,295.25 L559.50,292.23 L560.00,289.01 L560.50,285.62 L561.00,282.06 L561.50,278.35 L562.00,274.51 L562.50,270.56 L563.00,266.53 L563.50,262.45 L564.00,258.36 L564.50,254.29 L565.00,250.29 L565.50,246.38 L566.00,242.61 L566.50,239.03 L567.00,235.68 L567.50,232.58 L568.00,229.79 L568.50,227.33 L569.00,225.24 L569.50,223.54 L570.00,222.26 L570.50,221.40 L571.00,220.99 L571.50,221.03 L572.00,221.51 L572.50,222.44 L573.00,223.79 L573.50,225.55 L574.00,227.70 L574.50,230.21 L575.00,233.04 L575.50,236.17 L576.00,239.54 L576.50,243.13 L577.00,246.89 L577.50,250.78 L578.00,254.76 L578.50,258.79 L579.00,262.83 L579.50,266.83 L580.00,270.78 L580.50,274.63 L581.00,278.37 L581.50,281.96 L582.00,285.38 L582.50,288.62 L583.00,291.67 L583.50,294.51 L584.00,297.15 L584.50,299.56 L585.00,301.77 L585.50,303.76 L586.00,305.54 L586.50,307.11 L587.00,308.49 L587.50,309.69 L588.00,310.70 L588.50,311.55 L589.00,312.24 L589.50,312.79 L590.00,313.20 L590.50,313.48 L591.00,313.65 L591.50,313.71 L592.00,313.68 L592.50,313.56 L593.00,313.36 L593.50,313.09 L594.00,312.75 L594.50,312.36 L595.00,311.92 L595.50,311.43 L596.00,310.91 L596.50,310.35 L597.00,309.76 L597.50,309.15 L598.00,308.51 L598.50,307.87 L599.00,307.21 L599.50,306.54 L600.00,305.87 L600.50,305.20 L601.00,304.54 L601.50,303.89 L602.00,303.24 L602.50,302.62 L603.00,302.01 L603.50,301.42 L604.00,300.86 L604.50,300.34 L605.00,299.84 L605.50,299.38 L606.00,298.96 L606.50,298.57 L607.00,298.23 L607.50,297.94 L608.00,297.69 L608.50,297.50 L609.00,297.35 L609.50,297.25 L610.00,297.20 L610.50,297.21 L611.00,297.27 L611.50,297.37 L612.00,297.53 L612.50,297.74 L613.00,298.00 L613.50,298.30 L614.00,298.65 L614.50,299.04 L615.00,299.47 L615.50,299.94 L616.00,300.44 L616.50,300.98 L617.00,301.55 L617.50,302.14 L618.00,302.76 L618.50,303.39 L619.00,304.05 L619.50,304.71 L620.00,305.39 L620.50,306.07 L621.00,306.76 L621.50,307.45 L622.00,308.14 L622.50,308.82 L623.00,309.50 L623.50,310.16 L624.00,310.82 L624.50,311.46 L625.00,312.09 L625.50,312.70 L626.00,313.29 L626.50,313.86 L627.00,314.41 L627.50,314.94 L628.00,315.45 L628.50,315.93 L629.00,316.40 L629.50,316.84 L630.00,317.25 L630.50,317.65 L631.00,318.02 L631.50,318.37 L632.00,318.69 L632.50,319.00 L633.00,319.28 L633.50,319.55 L634.00,319.79 L634.50,320.02 L635.00,320.23 L635.50,320.42 L636.00,320.60 L636.50,320.77 L637.00,320.91 L637.50,321.05 L638.00,321.17 L638.50,321.29 L639.00,321.39 L639.50,321.48 L640.00,321.56 L640.50,321.64 L641.00,321.70 L641.50,321.76 L642.00,321.82 L642.50,321.86 L643.00,321.91 L643.50,321.94 L644.00,321.98 L644.50,322.01 L645.00,322.03 L645.50,322.05 L646.00,322.07 L646.50,322.09 L647.00,322.11 L647.50,322.12 L648.00,322.13 L648.50,322.14 L649.00,322.15 L649.50,322.16 L650.00,322.16 L650.50,322.17 L651.00,322.17 L651.50,322.18 L652.00,322.18 L652.50,322.18 L653.00,322.19 L653.50,322.19 L654.00,322.19 L654.50,322.19 L655.00,322.19 L655.50,322.19 L656.00,322.20 L656.50,322.20 L657.00,322.20 L657.50,322.20 L658.00,322.20 L658.50,322.20 L659.00,322.20 L659.50,322.20 L660.00,322.20 L660.50,322.20 L661.00,322.20 L661.50,322.20 L662.00,322.20 L662.50,322.20 L663.00,322.20 L663.50,322.20 L664.00,322.20 L664.50,322.20 L665.00,322.20 L665.50,322.20 L666.00,322.20 L666.50,322.20 L667.00,322.20 L667.50,322.20 L668.00,322.20 L668.50,322.20 L669.00,322.20 L669.50,322.20 L670.00,322.20 L670.50,322.20 L671.00,322.20 L671.50,322.20 L672.00,322.20 L672.50,322.20 L673.00,322.20 L673.50,322.20 L674.00,322.20 L674.50,322.20 L675.00,322.20 L675.50,322.20 L676.00,322.20 L676.50,322.20 L677.00,322.20 L677.50,322.20 L678.00,322.20 L678.50,322.20 L679.00,322.20 L679.50,322.20 L680.00,322.20 L680.50,322.20 L681.00,322.20 L681.50,322.20" stroke="#ff6cff" stroke-width="1.1"/>
<path d="M499.50,328.59 L500.00,328.14 L500.50,328.17 L501.00,328.29 L501.50,328.91 L502.00,329.16 L502.50,329.86 L503.00,329.43 L503.50,329.43 L504.00,328.57 L504.50,328.30 L505.00,327.88 L505.50,328.21 L506.00,327.94 L506.50,327.36 L507.00,327.35 L507.50,327.55 L508.00,328.42 L508.50,328.40 L509.00,328.73 L509.50,328.39 L510.00,328.52 L510.50,328.35 L511.00,328.59 L511.50,328.12 L512.00,328.07 L512.50,327.50 L513.00,327.82 L513.50,327.87 L514.00,327.78 L514.50,328.18 L515.00,328.03 L515.50,328.23 L516.00,327.71 L516.50,328.32 L517.00,328.28 L517.50,328.35 L518.00,327.82 L518.50,327.39 L519.00,327.38 L519.50,327.64 L520.00,327.98 L520.50,327.68 L521.00,326.86 L521.50,326.42 L522.00,326.26 L522.50,326.86 L523.00,327.13 L523.50,327.29 L524.00,327.34 L524.50,327.46 L525.00,327.50 L525.50,327.60 L526.00,327.14 L526.50,327.14 L527.00,326.07 L527.50,326.53 L528.00,326.32 L528.50,326.68 L529.00,326.17 L529.50,326.04 L530.00,326.03 L530.50,326.34 L531.00,326.03 L531.50,326.27 L532.00,325.87 L532.50,326.01 L533.00,325.67 L533.50,326.32 L534.00,325.91 L534.50,325.85 L535.00,325.78 L535.50,325.98 L536.00,325.68 L536.50,325.36 L537.00,325.42 L537.50,326.00 L538.00,325.58 L538.50,325.68 L539.00,325.57 L539.50,326.12 L540.00,325.67 L540.50,325.80 L541.00,325.10 L541.50,324.87 L542.00,324.04 L542.50,324.25 L543.00,324.50 L543.50,324.81 L544.00,324.79 L544.50,324.86 L545.00,324.51 L545.50,324.77 L546.00,323.84 L546.50,323.22 L547.00,322.32 L547.50,322.41 L548.00,321.93 L548.50,321.59 L549.00,321.45 L549.50,321.16 L550.00,321.29 L550.50,321.49 L551.00,322.12 L551.50,321.14 L552.00,320.15 L552.50,318.70 L553.00,318.09 L553.50,316.90 L554.00,316.31 L554.50,314.95 L555.00,314.13 L555.50,312.75 L556.00,311.57 L556.50,309.02 L557.00,306.27 L557.50,303.88 L558.00,301.86 L558.50,299.99 L559.00,297.19 L559.50,294.45 L560.00,291.44 L560.50,288.14 L561.00,284.67 L561.50,280.38 L562.00,276.86 L562.50,272.75 L563.00,269.25 L563.50,264.66 L564.00,260.80 L564.50,256.32 L565.00,252.14 L565.50,247.75 L566.00,243.57 L566.50,239.59 L567.00,235.98 L567.50,232.89 L568.00,229.74 L568.50,227.73 L569.00,224.90 L569.50,222.76 L570.00,220.75 L570.50,219.32 L571.00,218.85 L571.50,218.39 L572.00,219.45 L572.50,220.35 L573.00,221.67 L573.50,223.99 L574.00,226.99 L574.50,229.43 L575.00,232.32 L575.50,235.06 L576.00,239.26 L576.50,242.71 L577.00,246.26 L577.50,249.56 L578.00,253.29 L578.50,257.75 L579.00,262.59 L579.50,266.42 L580.00,269.69 L580.50,272.52 L581.00,275.82 L581.50,279.22 L582.00,282.16 L582.50,284.94 L583.00,286.98 L583.50,289.10 L584.00,291.27 L584.50,293.17 L585.00,294.99 L585.50,296.21 L586.00,297.19 L586.50,298.17 L587.00,298.38 L587.50,299.57 L588.00,300.39 L588.50,301.41 L589.00,301.75 L589.50,302.15 L590.00,303.29 L590.50,304.07 L591.00,304.48 L591.50,305.00 L592.00,305.69 L592.50,306.06 L593.00,306.55 L593.50,307.24 L594.00,307.79 L594.50,308.43 L595.00,308.47 L595.50,309.23 L596.00,308.57 L596.50,308.34 L597.00,307.44 L597.50,308.03 L598.00,308.44 L598.50,309.07 L599.00,308.88 L599.50,308.52 L600.00,308.11 L600.50,306.89 L601.00,306.47 L601.50,305.80 L602.00,305.97 L602.50,305.24 L603.00,305.53 L603.50,305.40 L604.00,305.00 L604.50,304.40 L605.00,303.90 L605.50,303.54 L606.00,302.73 L606.50,301.90 L607.00,300.88 L607.50,299.85 L608.00,299.57 L608.50,299.71 L609.00,299.59 L609.50,298.42 L610.00,297.48 L610.50,296.78 L611.00,296.73 L611.50,296.06 L612.00,295.18 L612.50,294.85 L613.00,294.78 L613.50,294.77 L614.00,294.13 L614.50,293.98 L615.00,294.74 L615.50,295.49 L616.00,295.84 L616.50,295.30 L617.00,295.90 L617.50,296.97 L618.00,298.28 L618.50,298.69 L619.00,298.39 L619.50,298.45 L620.00,299.23 L620.50,300.61 L621.00,301.98 L621.50,302.55 L622.00,303.34 L622.50,304.33 L623.00,305.27 L623.50,306.37 L624.00,307.18 L624.50,308.27 L625.00,309.51 L625.50,310.74 L626.00,311.15 L626.50,311.60 L627.00,311.87 L627.50,313.40 L628.00,314.02 L628.50,315.29 L629.00,316.08 L629.50,317.32 L630.00,317.47 L630.50,317.81 L631.00,317.88 L631.50,318.84 L632.00,319.71 L632.50,320.06 L633.00,320.15 L633.50,320.21 L634.00,320.85 L634.50,321.82 L635.00,322.01 L635.50,322.37 L636.00,321.65 L636.50,322.21 L637.00,322.22 L637.50,322.82 L638.00,322.41 L638.50,321.73 L639.00,321.03 L639.50,320.63 L640.00,321.44 L640.50,321.84 L641.00,322.42 L641.50,322.43 L642.00,322.72 L642.50,322.92 L643.00,322.95 L643.50,322.43 L644.00,322.00 L644.50,322.50 L645.00,322.73 L645.50,323.41 L646.00,323.47 L646.50,323.67 L647.00,323.42 L647.50,322.54 L648.00,323.01 L648.50,322.73 L649.00,322.81 L649.50,322.51 L650.00,322.66 L650.50,322.94 L651.00,323.18 L651.50,323.32 L652.00,323.36 L652.50,323.64 L653.00,324.49 L653.50,324.77 L654.00,324.32 L654.50,323.33 L655.00,323.55 L655.50,323.74 L656.00,324.11 L656.50,323.25 L657.00,322.91 L657.50,322.48 L658.00,323.30 L658.50,323.49 L659.00,323.02 L659.50,322.81 L660.00,323.16 L660.50,324.25 L661.00,323.17 L661.50,322.80 L662.00,322.58 L662.50,323.55 L663.00,323.36 L663.50,322.49 L664.00,322.10 L664.50,322.00 L665.00,322.66 L665.50,322.91 L666.00,322.87 L666.50,322.88 L667.00,322.29 L667.50,322.08 L668.00,321.74 L668.50,322.17 L669.00,322.21 L669.50,322.52 L670.00,322.40 L670.50,322.15 L671.00,321.73 L671.50,321.27 L672.00,321.20 L672.50,320.67 L673.00,321.31 L673.50,321.81 L674.00,321.69 L674.50,321.54 L675.00,321.49 L675.50,321.81 L676.00,321.55 L676.50,321.88 L677.00,322.02 L677.50,321.92 L678.00,321.52 L678.50,321.05 L679.00,320.47 L679.50,319.63 L680.00,319.85 L680.50,320.44 L681.00,320.55 L681.50,320.09" stroke="#000000" stroke-width="1.1"/>
</g>
<line x1="499.5" y1="189.1" x2="499.5" y2="337.4" stroke="#707070" stroke-width="1.1"/>
<line x1="499.0" y1="190.0" x2="682.0" y2="190.0" stroke="#adadad" stroke-width="1.6"/>
<line x1="682.0" y1="189.1" x2="682.0" y2="337.4" stroke="#adadad" stroke-width="1.6"/>
<line x1="499.0" y1="336.5" x2="682.0" y2="336.5" stroke="#4a4a4a" stroke-width="1.0"/>
<line x1="527.10" y1="336.9" x2="527.10" y2="339.9" stroke="#777" stroke-width="1.1"/>
<line x1="572.90" y1="336.9" x2="572.90" y2="339.9" stroke="#777" stroke-width="1.1"/>
<line x1="618.70" y1="336.9" x2="618.70" y2="339.9" stroke="#777" stroke-width="1.1"/>
<line x1="664.50" y1="336.9" x2="664.50" y2="339.9" stroke="#777" stroke-width="1.1"/>
<line x1="504.20" y1="336.9" x2="504.20" y2="338.9" stroke="#777" stroke-width="1.1"/>
<line x1="550.00" y1="336.9" x2="550.00" y2="338.9" stroke="#777" stroke-width="1.1"/>
<line x1="595.80" y1="336.9" x2="595.80" y2="338.9" stroke="#777" stroke-width="1.1"/>
<line x1="641.60" y1="336.9" x2="641.60" y2="338.9" stroke="#777" stroke-width="1.1"/>
<line x1="496.5" y1="314.10" x2="499.5" y2="314.10" stroke="#777" stroke-width="1.1"/>
<line x1="496.5" y1="280.20" x2="499.5" y2="280.20" stroke="#777" stroke-width="1.1"/>
<line x1="496.5" y1="246.30" x2="499.5" y2="246.30" stroke="#777" stroke-width="1.1"/>
<line x1="496.5" y1="212.40" x2="499.5" y2="212.40" stroke="#777" stroke-width="1.1"/>
<line x1="497.5" y1="331.05" x2="499.5" y2="331.05" stroke="#777" stroke-width="1.1"/>
<line x1="497.5" y1="297.15" x2="499.5" y2="297.15" stroke="#777" stroke-width="1.1"/>
<line x1="497.5" y1="263.25" x2="499.5" y2="263.25" stroke="#777" stroke-width="1.1"/>
<line x1="497.5" y1="229.35" x2="499.5" y2="229.35" stroke="#777" stroke-width="1.1"/>
<line x1="497.5" y1="195.45" x2="499.5" y2="195.45" stroke="#777" stroke-width="1.1"/>
<text x="527.10" y="349.0" font-size="9.1" text-anchor="middle">280</text>
<text x="572.90" y="349.0" font-size="9.1" text-anchor="middle">285</text>
<text x="618.70" y="349.0" font-size="9.1" text-anchor="middle">290</text>
<text x="664.50" y="349.0" font-size="9.1" text-anchor="middle">295</text>
<text x="494.3" y="317.16" font-size="9" text-anchor="end">1500</text>
<text x="494.3" y="283.26" font-size="9" text-anchor="end">3000</text>
<text x="494.3" y="249.36" font-size="9" text-anchor="end">4500</text>
<text x="494.3" y="215.46" font-size="9" text-anchor="end">6000</text>
<text x="591.1" y="359.7" font-size="10.8" text-anchor="middle">Binding energy (eV)</text>
<text transform="translate(474.6,260.2) rotate(-90)" font-size="10.8" text-anchor="middle">Counts (a.u)</text>
<text transform="translate(504.2,209.30) scale(1,1.0)" font-size="22.26">(f)</text>
<text transform="translate(670.7,202.90) scale(1,1.0)" font-size="13.12" text-anchor="end">C 1s</text>
<text x="572.7" y="214.2" font-size="9.0" text-anchor="middle">284.91</text>
<text x="614.2" y="290.2" font-size="9.0" text-anchor="middle">289.07</text>
<clipPath id="cg"><rect x="38.5" y="371.5" width="181.9" height="147.39999999999998"/></clipPath>
<g clip-path="url(#cg)" fill="none" stroke-linejoin="round" stroke-linecap="round">
<path d="M38.50,505.40 L39.00,505.40 L39.50,505.40 L40.00,505.40 L40.50,505.40 L41.00,505.40 L41.50,505.40 L42.00,505.40 L42.50,505.40 L43.00,505.40 L43.50,505.40 L44.00,505.40 L44.50,505.40 L45.00,505.40 L45.50,505.40 L46.00,505.40 L46.50,505.40 L47.00,505.40 L47.50,505.40 L48.00,505.40 L48.50,505.40 L49.00,505.40 L49.50,505.40 L50.00,505.40 L50.50,505.40 L51.00,505.40 L51.50,505.40 L52.00,505.40 L52.50,505.40 L53.00,505.40 L53.50,505.40 L54.00,505.40 L54.50,505.40 L55.00,505.40 L55.50,505.40 L56.00,505.40 L56.50,505.40 L57.00,505.40 L57.50,505.40 L58.00,505.40 L58.50,505.40 L59.00,505.40 L59.50,505.40 L60.00,505.40 L60.50,505.40 L61.00,505.40 L61.50,505.40 L62.00,505.40 L62.50,505.40 L63.00,505.40 L63.50,505.40 L64.00,505.40 L64.50,505.40 L65.00,505.40 L65.50,505.40 L66.00,505.40 L66.50,505.40 L67.00,505.40 L67.50,505.40 L68.00,505.40 L68.50,505.40 L69.00,505.40 L69.50,505.40 L70.00,505.40 L70.50,505.40 L71.00,505.40 L71.50,505.40 L72.00,505.40 L72.50,505.40 L73.00,505.40 L73.50,505.40 L74.00,505.40 L74.50,505.40 L75.00,505.40 L75.50,505.40 L76.00,505.40 L76.50,505.40 L77.00,505.39 L77.50,505.39 L78.00,505.39 L78.50,505.39 L79.00,505.39 L79.50,505.38 L80.00,505.38 L80.50,505.37 L81.00,505.37 L81.50,505.36 L82.00,505.35 L82.50,505.34 L83.00,505.32 L83.50,505.31 L84.00,505.29 L84.50,505.26 L85.00,505.23 L85.50,505.20 L86.00,505.16 L86.50,505.11 L87.00,505.05 L87.50,504.98 L88.00,504.90 L88.50,504.80 L89.00,504.69 L89.50,504.57 L90.00,504.42 L90.50,504.24 L91.00,504.04 L91.50,503.82 L92.00,503.55 L92.50,503.25 L93.00,502.91 L93.50,502.53 L94.00,502.09 L94.50,501.59 L95.00,501.03 L95.50,500.41 L96.00,499.71 L96.50,498.93 L97.00,498.07 L97.50,497.11 L98.00,496.05 L98.50,494.89 L99.00,493.62 L99.50,492.22 L100.00,490.71 L100.50,489.06 L101.00,487.29 L101.50,485.37 L102.00,483.31 L102.50,481.11 L103.00,478.76 L103.50,476.27 L104.00,473.63 L104.50,470.85 L105.00,467.93 L105.50,464.87 L106.00,461.69 L106.50,458.39 L107.00,454.97 L107.50,451.46 L108.00,447.87 L108.50,444.20 L109.00,440.48 L109.50,436.72 L110.00,432.95 L110.50,429.19 L111.00,425.44 L111.50,421.75 L112.00,418.13 L112.50,414.60 L113.00,411.20 L113.50,407.93 L114.00,404.83 L114.50,401.92 L115.00,399.22 L115.50,396.75 L116.00,394.53 L116.50,392.58 L117.00,390.91 L117.50,389.54 L118.00,388.48 L118.50,387.73 L119.00,387.30 L119.50,387.21 L120.00,387.44 L120.50,387.99 L121.00,388.86 L121.50,390.05 L122.00,391.54 L122.50,393.33 L123.00,395.39 L123.50,397.71 L124.00,400.28 L124.50,403.06 L125.00,406.05 L125.50,409.22 L126.00,412.54 L126.50,416.00 L127.00,419.57 L127.50,423.22 L128.00,426.94 L128.50,430.69 L129.00,434.46 L129.50,438.23 L130.00,441.97 L130.50,445.67 L131.00,449.31 L131.50,452.88 L132.00,456.35 L132.50,459.72 L133.00,462.98 L133.50,466.11 L134.00,469.11 L134.50,471.98 L135.00,474.70 L135.50,477.28 L136.00,479.72 L136.50,482.01 L137.00,484.15 L137.50,486.15 L138.00,488.01 L138.50,489.74 L139.00,491.33 L139.50,492.79 L140.00,494.14 L140.50,495.37 L141.00,496.49 L141.50,497.50 L142.00,498.42 L142.50,499.25 L143.00,500.00 L143.50,500.67 L144.00,501.26 L144.50,501.80 L145.00,502.27 L145.50,502.69 L146.00,503.05 L146.50,503.38 L147.00,503.66 L147.50,503.91 L148.00,504.13 L148.50,504.32 L149.00,504.48 L149.50,504.62 L150.00,504.74 L150.50,504.84 L151.00,504.93 L151.50,505.01 L152.00,505.07 L152.50,505.13 L153.00,505.17 L153.50,505.21 L154.00,505.24 L154.50,505.27 L155.00,505.29 L155.50,505.31 L156.00,505.33 L156.50,505.34 L157.00,505.35 L157.50,505.36 L158.00,505.37 L158.50,505.38 L159.00,505.38 L159.50,505.38 L160.00,505.39 L160.50,505.39 L161.00,505.39 L161.50,505.39 L162.00,505.39 L162.50,505.40 L163.00,505.40 L163.50,505.40 L164.00,505.40 L164.50,505.40 L165.00,505.40 L165.50,505.40 L166.00,505.40 L166.50,505.40 L167.00,505.40 L167.50,505.40 L168.00,505.40 L168.50,505.40 L169.00,505.40 L169.50,505.40 L170.00,505.40 L170.50,505.40 L171.00,505.40 L171.50,505.40 L172.00,505.40 L172.50,505.40 L173.00,505.40 L173.50,505.40 L174.00,505.40 L174.50,505.40 L175.00,505.40 L175.50,505.40 L176.00,505.40 L176.50,505.40 L177.00,505.40 L177.50,505.40 L178.00,505.40 L178.50,505.40 L179.00,505.40 L179.50,505.40 L180.00,505.40 L180.50,505.40 L181.00,505.40 L181.50,505.40 L182.00,505.40 L182.50,505.40 L183.00,505.40 L183.50,505.40 L184.00,505.40 L184.50,505.40 L185.00,505.40 L185.50,505.40 L186.00,505.40 L186.50,505.40 L187.00,505.40 L187.50,505.40 L188.00,505.40 L188.50,505.40 L189.00,505.40 L189.50,505.40 L190.00,505.40 L190.50,505.40 L191.00,505.40 L191.50,505.40 L192.00,505.40 L192.50,505.40 L193.00,505.40 L193.50,505.40 L194.00,505.40 L194.50,505.40 L195.00,505.40 L195.50,505.40 L196.00,505.40 L196.50,505.40 L197.00,505.40 L197.50,505.40 L198.00,505.40 L198.50,505.40 L199.00,505.40 L199.50,505.40 L200.00,505.40 L200.50,505.40 L201.00,505.40 L201.50,505.40 L202.00,505.40 L202.50,505.40 L203.00,505.40 L203.50,505.40 L204.00,505.40 L204.50,505.40 L205.00,505.40 L205.50,505.40 L206.00,505.40 L206.50,505.40 L207.00,505.40 L207.50,505.40 L208.00,505.40 L208.50,505.40 L209.00,505.40 L209.50,505.40 L210.00,505.40 L210.50,505.40 L211.00,505.40 L211.50,505.40 L212.00,505.40 L212.50,505.40 L213.00,505.40 L213.50,505.40 L214.00,505.40 L214.50,505.40 L215.00,505.40 L215.50,505.40 L216.00,505.40 L216.50,505.40 L217.00,505.40 L217.50,505.40 L218.00,505.40 L218.50,505.40 L219.00,505.40 L219.50,505.40 L220.00,505.40" stroke="#ff5c5c" stroke-width="1.05"/>
<path d="M85.00,505.40 L85.50,505.40 L86.00,505.40 L86.50,505.40 L87.00,505.40 L87.50,505.40 L88.00,505.40 L88.50,505.40 L89.00,505.40 L89.50,505.40 L90.00,505.40 L90.50,505.40 L91.00,505.40 L91.50,505.40 L92.00,505.40 L92.50,505.40 L93.00,505.40 L93.50,505.40 L94.00,505.40 L94.50,505.40 L95.00,505.40 L95.50,505.40 L96.00,505.40 L96.50,505.40 L97.00,505.40 L97.50,505.40 L98.00,505.40 L98.50,505.40 L99.00,505.40 L99.50,505.40 L100.00,505.40 L100.50,505.40 L101.00,505.40 L101.50,505.40 L102.00,505.40 L102.50,505.40 L103.00,505.40 L103.50,505.40 L104.00,505.40 L104.50,505.40 L105.00,505.40 L105.50,505.40 L106.00,505.40 L106.50,505.40 L107.00,505.40 L107.50,505.40 L108.00,505.40 L108.50,505.40 L109.00,505.40 L109.50,505.40 L110.00,505.40 L110.50,505.40 L111.00,505.40 L111.50,505.40 L112.00,505.40 L112.50,505.40 L113.00,505.40 L113.50,505.40 L114.00,505.40 L114.50,505.40 L115.00,505.40 L115.50,505.40 L116.00,505.40 L116.50,505.40 L117.00,505.40 L117.50,505.40 L118.00,505.40 L118.50,505.40 L119.00,505.40 L119.50,505.40 L120.00,505.40 L120.50,505.40 L121.00,505.40 L121.50,505.40 L122.00,505.40 L122.50,505.40 L123.00,505.40 L123.50,505.40 L124.00,505.40 L124.50,505.40 L125.00,505.40 L125.50,505.40 L126.00,505.40 L126.50,505.40 L127.00,505.40 L127.50,505.40 L128.00,505.40 L128.50,505.40 L129.00,505.40 L129.50,505.40 L130.00,505.40 L130.50,505.40 L131.00,505.40 L131.50,505.40 L132.00,505.40 L132.50,505.40 L133.00,505.40 L133.50,505.40 L134.00,505.40 L134.50,505.40 L135.00,505.40 L135.50,505.40 L136.00,505.40 L136.50,505.40 L137.00,505.40 L137.50,505.40 L138.00,505.40 L138.50,505.40 L139.00,505.40 L139.50,505.40 L140.00,505.40 L140.50,505.40 L141.00,505.40 L141.50,505.40 L142.00,505.40 L142.50,505.40 L143.00,505.40 L143.50,505.40 L144.00,505.40 L144.50,505.40 L145.00,505.40 L145.50,505.40 L146.00,505.40 L146.50,505.40 L147.00,505.40 L147.50,505.40 L148.00,505.40 L148.50,505.40 L149.00,505.40 L149.50,505.40 L150.00,505.40 L150.50,505.40 L151.00,505.40 L151.50,505.40 L152.00,505.40 L152.50,505.40 L153.00,505.40 L153.50,505.40" stroke="#6464ff" stroke-width="1.0"/>
<path d="M38.50,508.78 L39.00,509.01 L39.50,508.52 L40.00,508.37 L40.50,508.57 L41.00,508.41 L41.50,508.26 L42.00,507.36 L42.50,507.36 L43.00,506.88 L43.50,507.44 L44.00,507.44 L44.50,508.15 L45.00,508.27 L45.50,508.63 L46.00,507.66 L46.50,507.41 L47.00,507.45 L47.50,508.34 L48.00,507.99 L48.50,507.83 L49.00,507.45 L49.50,507.68 L50.00,508.20 L50.50,508.24 L51.00,508.50 L51.50,508.43 L52.00,508.49 L52.50,508.45 L53.00,508.18 L53.50,508.39 L54.00,508.00 L54.50,507.97 L55.00,508.41 L55.50,508.28 L56.00,508.54 L56.50,508.11 L57.00,508.40 L57.50,508.78 L58.00,508.99 L58.50,508.79 L59.00,508.12 L59.50,508.05 L60.00,508.38 L60.50,508.58 L61.00,508.35 L61.50,508.63 L62.00,508.87 L62.50,508.66 L63.00,508.49 L63.50,507.82 L64.00,508.09 L64.50,507.60 L65.00,507.55 L65.50,507.43 L66.00,508.13 L66.50,508.71 L67.00,508.31 L67.50,507.72 L68.00,507.54 L68.50,507.30 L69.00,507.40 L69.50,507.14 L70.00,508.24 L70.50,508.60 L71.00,508.49 L71.50,507.91 L72.00,507.56 L72.50,508.16 L73.00,508.11 L73.50,508.07 L74.00,507.64 L74.50,507.71 L75.00,507.72 L75.50,507.19 L76.00,507.20 L76.50,507.08 L77.00,507.83 L77.50,508.03 L78.00,508.14 L78.50,507.94 L79.00,507.57 L79.50,507.91 L80.00,507.65 L80.50,507.93 L81.00,507.10 L81.50,507.19 L82.00,506.38 L82.50,506.03 L83.00,505.72 L83.50,505.90 L84.00,506.56 L84.50,507.34 L85.00,507.26 L85.50,506.89 L86.00,506.09 L86.50,506.43 L87.00,506.46 L87.50,506.20 L88.00,506.14 L88.50,506.23 L89.00,505.80 L89.50,505.36 L90.00,505.01 L90.50,504.84 L91.00,504.76 L91.50,504.25 L92.00,504.70 L92.50,504.41 L93.00,504.43 L93.50,503.55 L94.00,503.06 L94.50,501.91 L95.00,501.24 L95.50,500.86 L96.00,500.20 L96.50,500.24 L97.00,498.81 L97.50,498.99 L98.00,497.52 L98.50,497.39 L99.00,496.08 L99.50,494.62 L100.00,493.45 L100.50,492.43 L101.00,491.33 L101.50,489.07 L102.00,486.63 L102.50,484.27 L103.00,482.55 L103.50,480.06 L104.00,477.86 L104.50,474.54 L105.00,471.69 L105.50,468.28 L106.00,465.85 L106.50,462.74 L107.00,460.09 L107.50,456.14 L108.00,452.31 L108.50,448.13 L109.00,444.11 L109.50,440.48 L110.00,436.54 L110.50,432.69 L111.00,428.29 L111.50,424.24 L112.00,421.06 L112.50,417.53 L113.00,413.79 L113.50,409.82 L114.00,407.17 L114.50,403.86 L115.00,400.72 L115.50,397.30 L116.00,394.74 L116.50,392.89 L117.00,391.22 L117.50,390.29 L118.00,388.55 L118.50,387.83 L119.00,387.09 L119.50,387.12 L120.00,386.74 L120.50,386.96 L121.00,388.21 L121.50,389.45 L122.00,391.29 L122.50,392.42 L123.00,394.30 L123.50,396.13 L124.00,398.69 L124.50,401.29 L125.00,404.16 L125.50,406.87 L126.00,410.46 L126.50,413.97 L127.00,417.43 L127.50,420.27 L128.00,423.07 L128.50,426.82 L129.00,430.93 L129.50,434.96 L130.00,438.42 L130.50,441.92 L131.00,445.78 L131.50,449.38 L132.00,452.35 L132.50,455.89 L133.00,458.35 L133.50,461.90 L134.00,464.53 L134.50,468.10 L135.00,471.16 L135.50,474.07 L136.00,475.81 L136.50,476.88 L137.00,478.79 L137.50,480.84 L138.00,483.27 L138.50,484.99 L139.00,486.36 L139.50,487.10 L140.00,488.23 L140.50,490.02 L141.00,491.77 L141.50,492.70 L142.00,493.30 L142.50,493.70 L143.00,494.38 L143.50,495.03 L144.00,495.61 L144.50,496.41 L145.00,497.25 L145.50,498.45 L146.00,498.39 L146.50,498.62 L147.00,498.55 L147.50,498.97 L148.00,499.64 L148.50,500.07 L149.00,500.84 L149.50,501.22 L150.00,502.50 L150.50,502.25 L151.00,502.77 L151.50,502.37 L152.00,503.15 L152.50,502.65 L153.00,502.80 L153.50,503.33 L154.00,504.05 L154.50,504.47 L155.00,504.34 L155.50,504.97 L156.00,505.12 L156.50,504.65 L157.00,504.18 L157.50,503.66 L158.00,503.43 L158.50,503.61 L159.00,504.85 L159.50,506.08 L160.00,505.95 L160.50,505.25 L161.00,505.70 L161.50,506.22 L162.00,506.62 L162.50,506.28 L163.00,506.29 L163.50,506.60 L164.00,506.86 L164.50,506.97 L165.00,506.38 L165.50,506.38 L166.00,506.09 L166.50,506.83 L167.00,506.24 L167.50,506.44 L168.00,506.07 L168.50,506.06 L169.00,506.71 L169.50,507.22 L170.00,507.53 L170.50,507.21 L171.00,506.85 L171.50,506.13 L172.00,505.96 L172.50,505.82 L173.00,506.75 L173.50,506.31 L174.00,506.25 L174.50,506.17 L175.00,506.95 L175.50,507.17 L176.00,507.24 L176.50,507.36 L177.00,507.07 L177.50,506.95 L178.00,505.82 L178.50,506.55 L179.00,507.02 L179.50,507.97 L180.00,507.67 L180.50,507.35 L181.00,507.09 L181.50,506.75 L182.00,506.61 L182.50,506.53 L183.00,507.11 L183.50,507.34 L184.00,507.27 L184.50,506.53 L185.00,506.10 L185.50,506.64 L186.00,506.98 L186.50,507.20 L187.00,506.50 L187.50,505.93 L188.00,505.85 L188.50,506.24 L189.00,506.46 L189.50,506.38 L190.00,505.98 L190.50,506.12 L191.00,505.63 L191.50,505.60 L192.00,505.24 L192.50,506.06 L193.00,505.85 L193.50,506.32 L194.00,506.51 L194.50,506.64 L195.00,506.21 L195.50,505.67 L196.00,505.69 L196.50,505.48 L197.00,505.48 L197.50,506.09 L198.00,506.26 L198.50,505.95 L199.00,504.82 L199.50,504.93 L200.00,504.49 L200.50,504.39 L201.00,504.63 L201.50,504.67 L202.00,505.33 L202.50,505.33 L203.00,505.65 L203.50,505.38 L204.00,505.44 L204.50,505.21 L205.00,504.73 L205.50,503.52 L206.00,503.52 L206.50,504.14 L207.00,504.85 L207.50,504.43 L208.00,503.55 L208.50,502.96 L209.00,503.30 L209.50,503.44 L210.00,503.60 L210.50,503.52 L211.00,503.40 L211.50,503.23 L212.00,503.11 L212.50,503.10 L213.00,503.19 L213.50,503.68 L214.00,503.82 L214.50,503.58 L215.00,502.28 L215.50,502.12 L216.00,501.35 L216.50,501.36 L217.00,501.43 L217.50,502.25 L218.00,502.60 L218.50,501.63 L219.00,501.18 L219.50,500.91 L220.00,501.63" stroke="#000000" stroke-width="1.1"/>
</g>
<line x1="38.5" y1="371.0" x2="38.5" y2="519.4" stroke="#707070" stroke-width="1.1"/>
<line x1="38.0" y1="371.5" x2="220.9" y2="371.5" stroke="#707070" stroke-width="1.1"/>
<line x1="220.0" y1="371.0" x2="220.0" y2="519.4" stroke="#adadad" stroke-width="1.6"/>
<line x1="38.0" y1="518.5" x2="220.9" y2="518.5" stroke="#4a4a4a" stroke-width="1.0"/>
<line x1="38.50" y1="518.9" x2="38.50" y2="521.9" stroke="#777" stroke-width="1.1"/>
<line x1="92.25" y1="518.9" x2="92.25" y2="521.9" stroke="#777" stroke-width="1.1"/>
<line x1="146.00" y1="518.9" x2="146.00" y2="521.9" stroke="#777" stroke-width="1.1"/>
<line x1="199.75" y1="518.9" x2="199.75" y2="521.9" stroke="#777" stroke-width="1.1"/>
<line x1="65.38" y1="518.9" x2="65.38" y2="520.9" stroke="#777" stroke-width="1.1"/>
<line x1="119.12" y1="518.9" x2="119.12" y2="520.9" stroke="#777" stroke-width="1.1"/>
<line x1="172.88" y1="518.9" x2="172.88" y2="520.9" stroke="#777" stroke-width="1.1"/>
<line x1="35.5" y1="499.40" x2="38.5" y2="499.40" stroke="#777" stroke-width="1.1"/>
<line x1="35.5" y1="469.93" x2="38.5" y2="469.93" stroke="#777" stroke-width="1.1"/>
<line x1="35.5" y1="440.45" x2="38.5" y2="440.45" stroke="#777" stroke-width="1.1"/>
<line x1="35.5" y1="410.98" x2="38.5" y2="410.98" stroke="#777" stroke-width="1.1"/>
<line x1="35.5" y1="381.50" x2="38.5" y2="381.50" stroke="#777" stroke-width="1.1"/>
<line x1="36.5" y1="514.14" x2="38.5" y2="514.14" stroke="#777" stroke-width="1.1"/>
<line x1="36.5" y1="484.66" x2="38.5" y2="484.66" stroke="#777" stroke-width="1.1"/>
<line x1="36.5" y1="455.19" x2="38.5" y2="455.19" stroke="#777" stroke-width="1.1"/>
<line x1="36.5" y1="425.71" x2="38.5" y2="425.71" stroke="#777" stroke-width="1.1"/>
<line x1="36.5" y1="396.24" x2="38.5" y2="396.24" stroke="#777" stroke-width="1.1"/>
<text x="38.50" y="531.0" font-size="9.1" text-anchor="middle">1295</text>
<text x="92.25" y="531.0" font-size="9.1" text-anchor="middle">1300</text>
<text x="146.00" y="531.0" font-size="9.1" text-anchor="middle">1305</text>
<text x="199.75" y="531.0" font-size="9.1" text-anchor="middle">1310</text>
<text x="32.3" y="502.46" font-size="9" text-anchor="end">6000</text>
<text x="32.3" y="472.99" font-size="9" text-anchor="end">9000</text>
<text x="32.3" y="443.51" font-size="9" text-anchor="end">12000</text>
<text x="32.3" y="414.04" font-size="9" text-anchor="end">15000</text>
<text x="32.3" y="384.56" font-size="9" text-anchor="end">18000</text>
<text x="133.6" y="542.0" font-size="10.8" text-anchor="middle">Binding energy (eV)</text>
<text transform="translate(8.6,442.2) rotate(-90)" font-size="10.8" text-anchor="middle">Counts (a.u)</text>
<text transform="translate(42.7,394.70) scale(1,1.0)" font-size="22.98">(g)</text>
<text transform="translate(218.5,384.70) scale(1,1.0)" font-size="12.92" text-anchor="end">Mg 1s</text>
<text x="118.4" y="385.9" font-size="9.0" text-anchor="middle">1302.55</text>
<clipPath id="ch"><rect x="272.0" y="370.7" width="182.60000000000002" height="147.3"/></clipPath>
<g clip-path="url(#ch)" fill="none" stroke-linejoin="round" stroke-linecap="round">
<path d="M272.00,511.70 L272.50,511.70 L273.00,511.70 L273.50,511.70 L274.00,511.70 L274.50,511.70 L275.00,511.70 L275.50,511.70 L276.00,511.70 L276.50,511.70 L277.00,511.70 L277.50,511.70 L278.00,511.70 L278.50,511.70 L279.00,511.70 L279.50,511.70 L280.00,511.70 L280.50,511.70 L281.00,511.70 L281.50,511.70 L282.00,511.70 L282.50,511.70 L283.00,511.70 L283.50,511.70 L284.00,511.70 L284.50,511.70 L285.00,511.70 L285.50,511.70 L286.00,511.70 L286.50,511.70 L287.00,511.70 L287.50,511.70 L288.00,511.70 L288.50,511.70 L289.00,511.70 L289.50,511.70 L290.00,511.70 L290.50,511.70 L291.00,511.70 L291.50,511.70 L292.00,511.70 L292.50,511.70 L293.00,511.70 L293.50,511.70 L294.00,511.70 L294.50,511.70 L295.00,511.70 L295.50,511.70 L296.00,511.70 L296.50,511.70 L297.00,511.70 L297.50,511.70 L298.00,511.70 L298.50,511.70 L299.00,511.70 L299.50,511.70 L300.00,511.70 L300.50,511.70 L301.00,511.70 L301.50,511.70 L302.00,511.70 L302.50,511.70 L303.00,511.70 L303.50,511.70 L304.00,511.70 L304.50,511.70 L305.00,511.70 L305.50,511.70 L306.00,511.70 L306.50,511.70 L307.00,511.70 L307.50,511.70 L308.00,511.70 L308.50,511.70 L309.00,511.70 L309.50,511.70 L310.00,511.70 L310.50,511.70 L311.00,511.70 L311.50,511.70 L312.00,511.70 L312.50,511.70 L313.00,511.70 L313.50,511.70 L314.00,511.70 L314.50,511.70 L315.00,511.70 L315.50,511.70 L316.00,511.70 L316.50,511.70 L317.00,511.70 L317.50,511.70 L318.00,511.70 L318.50,511.70 L319.00,511.70 L319.50,511.70 L320.00,511.70 L320.50,511.70 L321.00,511.69 L321.50,511.69 L322.00,511.69 L322.50,511.69 L323.00,511.68 L323.50,511.68 L324.00,511.67 L324.50,511.67 L325.00,511.66 L325.50,511.65 L326.00,511.63 L326.50,511.62 L327.00,511.60 L327.50,511.57 L328.00,511.54 L328.50,511.50 L329.00,511.46 L329.50,511.40 L330.00,511.34 L330.50,511.26 L331.00,511.16 L331.50,511.04 L332.00,510.91 L332.50,510.75 L333.00,510.56 L333.50,510.34 L334.00,510.08 L334.50,509.77 L335.00,509.42 L335.50,509.01 L336.00,508.54 L336.50,508.00 L337.00,507.39 L337.50,506.69 L338.00,505.90 L338.50,505.00 L339.00,503.99 L339.50,502.86 L340.00,501.60 L340.50,500.20 L341.00,498.66 L341.50,496.95 L342.00,495.08 L342.50,493.04 L343.00,490.82 L343.50,488.41 L344.00,485.82 L344.50,483.04 L345.00,480.07 L345.50,476.91 L346.00,473.57 L346.50,470.05 L347.00,466.37 L347.50,462.53 L348.00,458.55 L348.50,454.44 L349.00,450.23 L349.50,445.94 L350.00,441.59 L350.50,437.22 L351.00,432.84 L351.50,428.50 L352.00,424.22 L352.50,420.03 L353.00,415.98 L353.50,412.09 L354.00,408.41 L354.50,404.96 L355.00,401.77 L355.50,398.88 L356.00,396.32 L356.50,394.10 L357.00,392.25 L357.50,390.80 L358.00,389.75 L358.50,389.11 L359.00,388.90 L359.50,389.11 L360.00,389.75 L360.50,390.80 L361.00,392.25 L361.50,394.10 L362.00,396.32 L362.50,398.88 L363.00,401.77 L363.50,404.96 L364.00,408.41 L364.50,412.09 L365.00,415.98 L365.50,420.03 L366.00,424.22 L366.50,428.50 L367.00,432.84 L367.50,437.22 L368.00,441.59 L368.50,445.94 L369.00,450.23 L369.50,454.44 L370.00,458.55 L370.50,462.53 L371.00,466.37 L371.50,470.05 L372.00,473.57 L372.50,476.91 L373.00,480.07 L373.50,483.04 L374.00,485.82 L374.50,488.41 L375.00,490.82 L375.50,493.04 L376.00,495.08 L376.50,496.95 L377.00,498.66 L377.50,500.20 L378.00,501.60 L378.50,502.86 L379.00,503.99 L379.50,505.00 L380.00,505.90 L380.50,506.69 L381.00,507.39 L381.50,508.00 L382.00,508.54 L382.50,509.01 L383.00,509.42 L383.50,509.77 L384.00,510.08 L384.50,510.34 L385.00,510.56 L385.50,510.75 L386.00,510.91 L386.50,511.04 L387.00,511.16 L387.50,511.26 L388.00,511.34 L388.50,511.40 L389.00,511.46 L389.50,511.50 L390.00,511.54 L390.50,511.57 L391.00,511.60 L391.50,511.62 L392.00,511.63 L392.50,511.65 L393.00,511.66 L393.50,511.67 L394.00,511.67 L394.50,511.68 L395.00,511.68 L395.50,511.69 L396.00,511.69 L396.50,511.69 L397.00,511.69 L397.50,511.70 L398.00,511.70 L398.50,511.70 L399.00,511.70 L399.50,511.70 L400.00,511.70 L400.50,511.70 L401.00,511.70 L401.50,511.70 L402.00,511.70 L402.50,511.70 L403.00,511.70 L403.50,511.70 L404.00,511.70 L404.50,511.70 L405.00,511.70 L405.50,511.70 L406.00,511.70 L406.50,511.70 L407.00,511.70 L407.50,511.70 L408.00,511.70 L408.50,511.70 L409.00,511.70 L409.50,511.70 L410.00,511.70 L410.50,511.70 L411.00,511.70 L411.50,511.70 L412.00,511.70 L412.50,511.70 L413.00,511.70 L413.50,511.70 L414.00,511.70 L414.50,511.70 L415.00,511.70 L415.50,511.70 L416.00,511.70 L416.50,511.70 L417.00,511.70 L417.50,511.70 L418.00,511.70 L418.50,511.70 L419.00,511.70 L419.50,511.70 L420.00,511.70 L420.50,511.70 L421.00,511.70 L421.50,511.70 L422.00,511.70 L422.50,511.70 L423.00,511.70 L423.50,511.70 L424.00,511.70 L424.50,511.70 L425.00,511.70 L425.50,511.70 L426.00,511.70 L426.50,511.70 L427.00,511.70 L427.50,511.70 L428.00,511.70 L428.50,511.70 L429.00,511.70 L429.50,511.70 L430.00,511.70 L430.50,511.70 L431.00,511.70 L431.50,511.70 L432.00,511.70 L432.50,511.70 L433.00,511.70 L433.50,511.70 L434.00,511.70 L434.50,511.70 L435.00,511.70 L435.50,511.70 L436.00,511.70 L436.50,511.70 L437.00,511.70 L437.50,511.70 L438.00,511.70 L438.50,511.70 L439.00,511.70 L439.50,511.70 L440.00,511.70 L440.50,511.70 L441.00,511.70 L441.50,511.70 L442.00,511.70 L442.50,511.70 L443.00,511.70 L443.50,511.70 L444.00,511.70 L444.50,511.70 L445.00,511.70 L445.50,511.70 L446.00,511.70 L446.50,511.70 L447.00,511.70 L447.50,511.70 L448.00,511.70 L448.50,511.70 L449.00,511.70 L449.50,511.70 L450.00,511.70 L450.50,511.70 L451.00,511.70 L451.50,511.70 L452.00,511.70 L452.50,511.70 L453.00,511.70 L453.50,511.70 L454.00,511.70 L454.50,511.70" stroke="#ff5c5c" stroke-width="1.05"/>
<path d="M329.50,511.70 L330.00,511.70 L330.50,511.70 L331.00,511.70 L331.50,511.70 L332.00,511.70 L332.50,511.70 L333.00,511.70 L333.50,511.70 L334.00,511.70 L334.50,511.70 L335.00,511.70 L335.50,511.70 L336.00,511.70 L336.50,511.70 L337.00,511.70 L337.50,511.70 L338.00,511.70 L338.50,511.70 L339.00,511.70 L339.50,511.70 L340.00,511.70 L340.50,511.70 L341.00,511.70 L341.50,511.70 L342.00,511.70 L342.50,511.70 L343.00,511.70 L343.50,511.70 L344.00,511.70 L344.50,511.70 L345.00,511.70 L345.50,511.70 L346.00,511.70 L346.50,511.70 L347.00,511.70 L347.50,511.70 L348.00,511.70 L348.50,511.70 L349.00,511.70 L349.50,511.70 L350.00,511.70 L350.50,511.70 L351.00,511.70 L351.50,511.70 L352.00,511.70 L352.50,511.70 L353.00,511.70 L353.50,511.70 L354.00,511.70 L354.50,511.70 L355.00,511.70 L355.50,511.70 L356.00,511.70 L356.50,511.70 L357.00,511.70 L357.50,511.70 L358.00,511.70 L358.50,511.70 L359.00,511.70 L359.50,511.70 L360.00,511.70 L360.50,511.70 L361.00,511.70 L361.50,511.70 L362.00,511.70 L362.50,511.70 L363.00,511.70 L363.50,511.70 L364.00,511.70 L364.50,511.70 L365.00,511.70 L365.50,511.70 L366.00,511.70 L366.50,511.70 L367.00,511.70 L367.50,511.70 L368.00,511.70 L368.50,511.70 L369.00,511.70 L369.50,511.70 L370.00,511.70 L370.50,511.70 L371.00,511.70 L371.50,511.70 L372.00,511.70 L372.50,511.70 L373.00,511.70 L373.50,511.70 L374.00,511.70 L374.50,511.70 L375.00,511.70 L375.50,511.70 L376.00,511.70 L376.50,511.70 L377.00,511.70 L377.50,511.70 L378.00,511.70 L378.50,511.70 L379.00,511.70 L379.50,511.70 L380.00,511.70 L380.50,511.70 L381.00,511.70 L381.50,511.70 L382.00,511.70 L382.50,511.70 L383.00,511.70 L383.50,511.70 L384.00,511.70 L384.50,511.70 L385.00,511.70 L385.50,511.70 L386.00,511.70 L386.50,511.70 L387.00,511.70 L387.50,511.70" stroke="#6464ff" stroke-width="1.0"/>
<path d="M272.00,514.67 L272.50,514.49 L273.00,514.72 L273.50,514.52 L274.00,514.43 L274.50,513.94 L275.00,514.59 L275.50,514.13 L276.00,514.04 L276.50,513.69 L277.00,514.03 L277.50,513.60 L278.00,513.59 L278.50,513.46 L279.00,513.90 L279.50,513.73 L280.00,513.83 L280.50,513.32 L281.00,513.85 L281.50,513.50 L282.00,513.36 L282.50,512.84 L283.00,513.57 L283.50,514.10 L284.00,514.61 L284.50,514.64 L285.00,514.52 L285.50,513.24 L286.00,512.35 L286.50,512.99 L287.00,513.51 L287.50,513.41 L288.00,512.61 L288.50,512.86 L289.00,513.32 L289.50,514.01 L290.00,514.32 L290.50,514.02 L291.00,513.69 L291.50,513.01 L292.00,513.32 L292.50,513.00 L293.00,512.97 L293.50,513.61 L294.00,513.98 L294.50,514.56 L295.00,514.68 L295.50,514.91 L296.00,514.67 L296.50,513.87 L297.00,513.38 L297.50,513.76 L298.00,513.63 L298.50,514.41 L299.00,513.95 L299.50,513.94 L300.00,513.24 L300.50,513.54 L301.00,513.70 L301.50,514.26 L302.00,513.88 L302.50,513.91 L303.00,514.08 L303.50,514.17 L304.00,514.24 L304.50,514.12 L305.00,514.36 L305.50,513.98 L306.00,512.82 L306.50,513.40 L307.00,513.73 L307.50,514.78 L308.00,513.86 L308.50,514.29 L309.00,514.05 L309.50,514.21 L310.00,513.34 L310.50,513.29 L311.00,513.11 L311.50,513.32 L312.00,512.68 L312.50,512.67 L313.00,512.78 L313.50,512.89 L314.00,513.07 L314.50,513.22 L315.00,513.51 L315.50,513.28 L316.00,512.87 L316.50,513.26 L317.00,512.96 L317.50,513.05 L318.00,512.61 L318.50,513.14 L319.00,513.20 L319.50,512.98 L320.00,513.57 L320.50,513.60 L321.00,513.48 L321.50,512.50 L322.00,512.42 L322.50,512.99 L323.00,512.79 L323.50,512.94 L324.00,512.25 L324.50,512.38 L325.00,512.37 L325.50,513.29 L326.00,513.45 L326.50,513.03 L327.00,512.83 L327.50,512.45 L328.00,512.57 L328.50,512.17 L329.00,512.74 L329.50,512.66 L330.00,512.41 L330.50,512.18 L331.00,511.61 L331.50,511.83 L332.00,511.28 L332.50,511.18 L333.00,510.63 L333.50,510.65 L334.00,510.93 L334.50,510.71 L335.00,510.62 L335.50,510.41 L336.00,510.10 L336.50,509.16 L337.00,508.68 L337.50,508.26 L338.00,507.28 L338.50,505.97 L339.00,505.11 L339.50,504.42 L340.00,503.48 L340.50,501.71 L341.00,500.95 L341.50,499.77 L342.00,498.73 L342.50,497.25 L343.00,495.07 L343.50,492.74 L344.00,490.53 L344.50,487.64 L345.00,485.17 L345.50,481.11 L346.00,478.38 L346.50,475.41 L347.00,472.29 L347.50,468.17 L348.00,464.28 L348.50,459.88 L349.00,455.78 L349.50,450.72 L350.00,445.97 L350.50,441.83 L351.00,437.66 L351.50,433.73 L352.00,428.93 L352.50,423.89 L353.00,419.56 L353.50,414.24 L354.00,410.22 L354.50,406.23 L355.00,403.07 L355.50,400.03 L356.00,397.03 L356.50,395.14 L357.00,392.92 L357.50,391.45 L358.00,390.36 L358.50,389.20 L359.00,388.64 L359.50,388.55 L360.00,389.40 L360.50,390.16 L361.00,391.82 L361.50,393.88 L362.00,396.58 L362.50,399.23 L363.00,401.96 L363.50,404.28 L364.00,406.69 L364.50,409.53 L365.00,413.49 L365.50,417.44 L366.00,421.81 L366.50,426.18 L367.00,430.18 L367.50,434.30 L368.00,437.79 L368.50,441.63 L369.00,444.97 L369.50,448.97 L370.00,452.66 L370.50,456.99 L371.00,461.20 L371.50,464.93 L372.00,468.00 L372.50,471.18 L373.00,474.66 L373.50,477.66 L374.00,479.74 L374.50,482.43 L375.00,484.79 L375.50,486.68 L376.00,487.58 L376.50,488.47 L377.00,490.73 L377.50,492.99 L378.00,495.74 L378.50,497.03 L379.00,497.94 L379.50,498.71 L380.00,499.97 L380.50,501.05 L381.00,501.69 L381.50,502.70 L382.00,503.20 L382.50,503.73 L383.00,504.18 L383.50,505.41 L384.00,505.97 L384.50,505.71 L385.00,506.30 L385.50,507.54 L386.00,508.72 L386.50,509.14 L387.00,509.62 L387.50,509.83 L388.00,509.78 L388.50,510.26 L389.00,510.06 L389.50,510.55 L390.00,510.13 L390.50,511.19 L391.00,511.19 L391.50,511.31 L392.00,510.45 L392.50,510.95 L393.00,511.31 L393.50,512.20 L394.00,511.91 L394.50,511.94 L395.00,511.53 L395.50,511.74 L396.00,511.69 L396.50,512.43 L397.00,512.48 L397.50,512.60 L398.00,511.95 L398.50,511.94 L399.00,511.69 L399.50,511.93 L400.00,512.37 L400.50,512.26 L401.00,512.56 L401.50,512.03 L402.00,512.50 L402.50,512.11 L403.00,512.33 L403.50,512.12 L404.00,512.65 L404.50,512.84 L405.00,513.32 L405.50,512.87 L406.00,512.72 L406.50,512.91 L407.00,512.51 L407.50,512.32 L408.00,511.77 L408.50,512.88 L409.00,512.98 L409.50,513.30 L410.00,513.24 L410.50,513.33 L411.00,512.99 L411.50,512.99 L412.00,512.86 L412.50,512.55 L413.00,512.25 L413.50,512.23 L414.00,512.95 L414.50,512.82 L415.00,512.40 L415.50,512.05 L416.00,511.85 L416.50,512.17 L417.00,512.40 L417.50,511.80 L418.00,511.59 L418.50,511.05 L419.00,511.83 L419.50,511.71 L420.00,511.63 L420.50,511.13 L421.00,511.10 L421.50,511.15 L422.00,510.98 L422.50,511.29 L423.00,511.47 L423.50,511.51 L424.00,511.35 L424.50,510.91 L425.00,510.90 L425.50,510.63 L426.00,510.52 L426.50,510.77 L427.00,510.94 L427.50,512.31 L428.00,511.96 L428.50,512.33 L429.00,510.77 L429.50,510.89 L430.00,510.52 L430.50,510.93 L431.00,511.38 L431.50,511.46 L432.00,511.05 L432.50,510.61 L433.00,510.31 L433.50,510.61 L434.00,511.03 L434.50,511.59 L435.00,511.93 L435.50,511.55 L436.00,511.19 L436.50,510.31 L437.00,509.94 L437.50,509.73 L438.00,510.39 L438.50,510.81 L439.00,511.08 L439.50,510.56 L440.00,510.78 L440.50,511.03 L441.00,511.16 L441.50,510.58 L442.00,510.28 L442.50,510.32 L443.00,510.18 L443.50,510.07 L444.00,509.99 L444.50,510.03 L445.00,509.31 L445.50,508.74 L446.00,509.17 L446.50,509.15 L447.00,509.76 L447.50,509.25 L448.00,509.75 L448.50,509.32 L449.00,509.49 L449.50,509.47 L450.00,509.53 L450.50,508.71 L451.00,508.47 L451.50,508.33 L452.00,508.32 L452.50,508.46 L453.00,508.78 L453.50,509.39 L454.00,509.25 L454.50,508.94" stroke="#000000" stroke-width="1.1"/>
</g>
<line x1="272.0" y1="370.2" x2="272.0" y2="518.5" stroke="#adadad" stroke-width="1.6"/>
<line x1="271.5" y1="370.7" x2="455.1" y2="370.7" stroke="#707070" stroke-width="1.1"/>
<line x1="455.0" y1="370.2" x2="455.0" y2="518.5" stroke="#adadad" stroke-width="1.6"/>
<line x1="271.5" y1="518.5" x2="455.1" y2="518.5" stroke="#4a4a4a" stroke-width="1.0"/>
<line x1="300.00" y1="518.0" x2="300.00" y2="521.0" stroke="#777" stroke-width="1.1"/>
<line x1="345.40" y1="518.0" x2="345.40" y2="521.0" stroke="#777" stroke-width="1.1"/>
<line x1="390.80" y1="518.0" x2="390.80" y2="521.0" stroke="#777" stroke-width="1.1"/>
<line x1="436.20" y1="518.0" x2="436.20" y2="521.0" stroke="#777" stroke-width="1.1"/>
<line x1="277.30" y1="518.0" x2="277.30" y2="520.0" stroke="#777" stroke-width="1.1"/>
<line x1="322.70" y1="518.0" x2="322.70" y2="520.0" stroke="#777" stroke-width="1.1"/>
<line x1="368.10" y1="518.0" x2="368.10" y2="520.0" stroke="#777" stroke-width="1.1"/>
<line x1="413.50" y1="518.0" x2="413.50" y2="520.0" stroke="#777" stroke-width="1.1"/>
<line x1="269.0" y1="498.20" x2="272.0" y2="498.20" stroke="#777" stroke-width="1.1"/>
<line x1="269.0" y1="459.04" x2="272.0" y2="459.04" stroke="#777" stroke-width="1.1"/>
<line x1="269.0" y1="419.87" x2="272.0" y2="419.87" stroke="#777" stroke-width="1.1"/>
<line x1="269.0" y1="380.70" x2="272.0" y2="380.70" stroke="#777" stroke-width="1.1"/>
<line x1="270.0" y1="517.79" x2="272.0" y2="517.79" stroke="#777" stroke-width="1.1"/>
<line x1="270.0" y1="478.62" x2="272.0" y2="478.62" stroke="#777" stroke-width="1.1"/>
<line x1="270.0" y1="439.45" x2="272.0" y2="439.45" stroke="#777" stroke-width="1.1"/>
<line x1="270.0" y1="400.28" x2="272.0" y2="400.28" stroke="#777" stroke-width="1.1"/>
<text x="300.00" y="529.7" font-size="9.1" text-anchor="middle">525</text>
<text x="345.40" y="529.7" font-size="9.1" text-anchor="middle">530</text>
<text x="390.80" y="529.7" font-size="9.1" text-anchor="middle">535</text>
<text x="436.20" y="529.7" font-size="9.1" text-anchor="middle">540</text>
<text x="266.4" y="501.26" font-size="9.0" text-anchor="end">8000</text>
<text x="266.4" y="462.10" font-size="9.0" text-anchor="end">16000</text>
<text x="266.4" y="422.93" font-size="9.0" text-anchor="end">24000</text>
<text x="266.4" y="383.76" font-size="9.0" text-anchor="end">32000</text>
<text x="367.7" y="541.1" font-size="10.8" text-anchor="middle">Binding energy (eV)</text>
<text transform="translate(242,441.4) rotate(-90)" font-size="10.8" text-anchor="middle">Counts (a.u)</text>
<text transform="translate(278.2,392.70) scale(1,1.0)" font-size="22.88">(h)</text>
<text transform="translate(443.4,384.50) scale(1,1.0)" font-size="12.92" text-anchor="end">O 1s</text>
<text x="357" y="387.2" font-size="9.0" text-anchor="middle">531.48</text>
<clipPath id="ci"><rect x="500.6" y="370.2" width="182.10000000000002" height="146.90000000000003"/></clipPath>
<g clip-path="url(#ci)" fill="none" stroke-linejoin="round" stroke-linecap="round">
<path d="M582.60,469.90 L583.10,473.68 L583.60,477.20 L584.10,480.45 L584.60,483.43 L585.10,486.16 L585.60,488.63 L586.10,490.85 L586.60,492.85 L587.10,494.62 L587.60,496.19 L588.10,497.57 L588.60,498.77 L589.10,499.82 L589.60,500.73 L590.10,501.50 L590.60,502.17 L591.10,502.73 L591.60,503.21 L592.10,503.61 L592.60,503.94 L593.10,504.22 L593.60,504.45 L594.10,504.64 L594.60,504.79 L595.10,504.92 L595.60,505.02 L596.10,505.10 L596.60,505.17 L597.10,505.22 L597.60,505.26 L598.10,505.29 L598.60,505.32 L599.10,505.34 L599.60,505.35 L600.10,505.36 L600.60,505.37 L601.10,505.38 L601.60,505.38 L602.10,505.39 L602.60,505.39 L603.10,505.39 L603.60,505.40 L604.10,505.40 L604.60,505.40 L605.10,505.40 L605.60,505.40 L606.10,505.40 L606.60,505.40 L607.10,505.40 L607.60,505.40 L608.10,505.40 L608.60,505.40 L609.10,505.40 L609.60,505.40 L610.10,505.40 L610.60,505.40 L611.10,505.40 L611.60,505.40 L612.10,505.40 L612.60,505.40 L613.10,505.40 L613.60,505.40 L614.10,505.40 L614.60,505.40 L615.10,505.40 L615.60,505.40 L616.10,505.40 L616.60,505.40 L617.10,505.40 L617.60,505.40 L618.10,505.40 L618.60,505.40 L619.10,505.40 L619.60,505.40 L620.10,505.40 L620.60,505.40 L621.10,505.40 L621.60,505.40 L622.10,505.40 L622.60,505.40 L623.10,505.40 L623.60,505.40 L624.10,505.40 L624.60,505.40 L625.10,505.40 L625.60,505.40 L626.10,505.40 L626.60,505.40 L627.10,505.40 L627.60,505.40 L628.10,505.40 L628.60,505.40 L629.10,505.40 L629.60,505.40 L630.10,505.40 L630.60,505.40 L631.10,505.40 L631.60,505.40 L632.10,505.40 L632.60,505.40 L633.10,505.40 L633.60,505.40 L634.10,505.40 L634.60,505.40 L635.10,505.40 L635.60,505.40 L636.10,505.40 L636.60,505.40 L637.10,505.40 L637.60,505.40 L638.10,505.40 L638.60,505.40 L639.10,505.40 L639.60,505.40 L640.10,505.40 L640.60,505.40 L641.10,505.40 L641.60,505.40 L642.10,505.40 L642.60,505.40 L643.10,505.40 L643.60,505.40 L644.10,505.40 L644.60,505.40 L645.10,505.40" stroke="#ff5c5c" stroke-width="1.2"/>
<path d="M548.10,505.40 L548.60,505.40 L549.10,505.40 L549.60,505.40 L550.10,505.40 L550.60,505.40 L551.10,505.40 L551.60,505.40 L552.10,505.40 L552.60,505.40 L553.10,505.40 L553.60,505.40 L554.10,505.40 L554.60,505.40 L555.10,505.40 L555.60,505.40 L556.10,505.40 L556.60,505.40 L557.10,505.40 L557.60,505.40 L558.10,505.40 L558.60,505.40 L559.10,505.40 L559.60,505.40 L560.10,505.40 L560.60,505.40 L561.10,505.40 L561.60,505.40 L562.10,505.40 L562.60,505.40 L563.10,505.40 L563.60,505.40 L564.10,505.40 L564.60,505.40 L565.10,505.40 L565.60,505.40 L566.10,505.40 L566.60,505.40 L567.10,505.40 L567.60,505.40 L568.10,505.40 L568.60,505.40 L569.10,505.40 L569.60,505.40 L570.10,505.40 L570.60,505.40 L571.10,505.40 L571.60,505.40 L572.10,505.39 L572.60,505.39 L573.10,505.39 L573.60,505.39 L574.10,505.39 L574.60,505.38 L575.10,505.38 L575.60,505.38 L576.10,505.37 L576.60,505.36 L577.10,505.36 L577.60,505.35 L578.10,505.34 L578.60,505.33 L579.10,505.31 L579.60,505.30 L580.10,505.28 L580.60,505.26 L581.10,505.23 L581.60,505.20 L582.10,505.16 L582.60,505.12 L583.10,505.08 L583.60,505.03 L584.10,504.97 L584.60,504.90 L585.10,504.82 L585.60,504.73 L586.10,504.63 L586.60,504.52 L587.10,504.39 L587.60,504.25 L588.10,504.09 L588.60,503.91 L589.10,503.72 L589.60,503.50 L590.10,503.26 L590.60,502.99 L591.10,502.70 L591.60,502.38 L592.10,502.03 L592.60,501.65 L593.10,501.24 L593.60,500.80 L594.10,500.32 L594.60,499.80 L595.10,499.25 L595.60,498.66 L596.10,498.03" stroke="#6464ff" stroke-width="1.0"/>
<path d="M500.60,505.40 L501.10,505.40 L501.60,505.40 L502.10,505.40 L502.60,505.40 L503.10,505.40 L503.60,505.40 L504.10,505.40 L504.60,505.40 L505.10,505.40 L505.60,505.40 L506.10,505.40 L506.60,505.40 L507.10,505.40 L507.60,505.40 L508.10,505.40 L508.60,505.40 L509.10,505.40 L509.60,505.40 L510.10,505.40 L510.60,505.40 L511.10,505.40 L511.60,505.40 L512.10,505.40 L512.60,505.40 L513.10,505.40 L513.60,505.40 L514.10,505.40 L514.60,505.40 L515.10,505.40 L515.60,505.40 L516.10,505.40 L516.60,505.40 L517.10,505.40 L517.60,505.40 L518.10,505.40 L518.60,505.40 L519.10,505.40 L519.60,505.40 L520.10,505.40 L520.60,505.40 L521.10,505.40 L521.60,505.40 L522.10,505.40 L522.60,505.40 L523.10,505.40 L523.60,505.40 L524.10,505.40 L524.60,505.40 L525.10,505.40 L525.60,505.40 L526.10,505.40 L526.60,505.40 L527.10,505.40 L527.60,505.40 L528.10,505.40 L528.60,505.40 L529.10,505.40 L529.60,505.40 L530.10,505.40 L530.60,505.40 L531.10,505.40 L531.60,505.40 L532.10,505.40 L532.60,505.40 L533.10,505.40 L533.60,505.40 L534.10,505.40 L534.60,505.40 L535.10,505.40 L535.60,505.40 L536.10,505.40 L536.60,505.40 L537.10,505.40 L537.60,505.40 L538.10,505.40 L538.60,505.40 L539.10,505.40 L539.60,505.40 L540.10,505.39 L540.60,505.39 L541.10,505.39 L541.60,505.38 L542.10,505.38 L542.60,505.37 L543.10,505.36 L543.60,505.35 L544.10,505.33 L544.60,505.31 L545.10,505.28 L545.60,505.24 L546.10,505.20 L546.60,505.14 L547.10,505.07 L547.60,504.98 L548.10,504.87 L548.60,504.74 L549.10,504.57 L549.60,504.36 L550.10,504.12 L550.60,503.82 L551.10,503.46 L551.60,503.03 L552.10,502.52 L552.60,501.91 L553.10,501.21 L553.60,500.38 L554.10,499.42 L554.60,498.31 L555.10,497.04 L555.60,495.58 L556.10,493.93 L556.60,492.08 L557.10,489.99 L557.60,487.67 L558.10,485.10 L558.60,482.27 L559.10,479.18 L559.60,475.82 L560.10,472.20 L560.60,468.31 L561.10,464.18 L561.60,459.82 L562.10,455.24 L562.60,450.47 L563.10,445.55 L563.60,440.51 L564.10,435.40 L564.60,430.25 L565.10,425.13 L565.60,420.08 L566.10,415.16 L566.60,410.44 L567.10,405.95 L567.60,401.77 L568.10,397.95 L568.60,394.54 L569.10,391.59 L569.60,389.14 L570.10,387.22 L570.60,385.86 L571.10,385.09 L571.60,384.91 L572.10,385.32 L572.60,386.33 L573.10,387.91 L573.60,390.05 L574.10,392.70 L574.60,395.84 L575.10,399.42 L575.60,403.38 L576.10,407.68 L576.60,412.27 L577.10,417.07 L577.60,422.04 L578.10,427.11 L578.60,432.24 L579.10,437.36 L579.60,442.44 L580.10,447.42 L580.60,452.26 L581.10,456.92 L581.60,461.39 L582.10,465.63 L582.60,469.62 L583.10,473.36 L583.60,476.82 L584.10,480.01 L584.60,482.93 L585.10,485.58 L585.60,487.96 L586.10,490.08 L586.60,491.96 L587.10,493.61 L587.60,495.04 L588.10,496.26 L588.60,497.28 L589.10,498.14 L589.60,498.82 L590.10,499.36 L590.60,499.76 L591.10,500.03 L591.60,500.19 L592.10,500.24 L592.60,500.20 L593.10,500.06 L593.60,499.85 L594.10,499.56 L594.60,499.19 L595.10,498.77 L595.60,498.28 L596.10,497.73 L596.60,497.13 L597.10,496.47 L597.60,495.77 L598.10,495.01 L598.60,494.22 L599.10,493.38 L599.60,492.51 L600.10,491.60 L600.60,490.66 L601.10,489.69 L601.60,488.70 L602.10,487.68 L602.60,486.65 L603.10,485.61 L603.60,484.56 L604.10,483.51 L604.60,482.46 L605.10,481.43 L605.60,480.40 L606.10,479.40 L606.60,478.43 L607.10,477.49 L607.60,476.59 L608.10,475.74 L608.60,474.93 L609.10,474.18 L609.60,473.50 L610.10,472.88 L610.60,472.33 L611.10,471.85 L611.60,471.46 L612.10,471.14 L612.60,470.91 L613.10,470.76 L613.60,470.70 L614.10,470.73 L614.60,470.84 L615.10,471.04 L615.60,471.32 L616.10,471.69 L616.60,472.13 L617.10,472.65 L617.60,473.24 L618.10,473.90 L618.60,474.63 L619.10,475.41 L619.60,476.24 L620.10,477.13 L620.60,478.05 L621.10,479.01 L621.60,480.00 L622.10,481.02 L622.60,482.05 L623.10,483.09 L623.60,484.14 L624.10,485.19 L624.60,486.24 L625.10,487.28 L625.60,488.31 L626.10,489.31 L626.60,490.30 L627.10,491.26 L627.60,492.19 L628.10,493.10 L628.60,493.96 L629.10,494.80 L629.60,495.60 L630.10,496.36 L630.60,497.08 L631.10,497.76 L631.60,498.41 L632.10,499.02 L632.60,499.58 L633.10,500.11 L633.60,500.61 L634.10,501.07 L634.60,501.49 L635.10,501.89 L635.60,502.25 L636.10,502.58 L636.60,502.88 L637.10,503.15 L637.60,503.40 L638.10,503.63 L638.60,503.84 L639.10,504.02 L639.60,504.19 L640.10,504.34 L640.60,504.47 L641.10,504.59 L641.60,504.69 L642.10,504.78 L642.60,504.87 L643.10,504.94 L643.60,505.00 L644.10,505.06 L644.60,505.11 L645.10,505.15 L645.60,505.19 L646.10,505.22 L646.60,505.25 L647.10,505.27 L647.60,505.29 L648.10,505.31 L648.60,505.32 L649.10,505.33 L649.60,505.34 L650.10,505.35 L650.60,505.36 L651.10,505.37 L651.60,505.37 L652.10,505.38 L652.60,505.38 L653.10,505.39 L653.60,505.39 L654.10,505.39 L654.60,505.39 L655.10,505.39 L655.60,505.39 L656.10,505.40 L656.60,505.40 L657.10,505.40 L657.60,505.40 L658.10,505.40 L658.60,505.40 L659.10,505.40 L659.60,505.40 L660.10,505.40 L660.60,505.40 L661.10,505.40 L661.60,505.40 L662.10,505.40 L662.60,505.40 L663.10,505.40 L663.60,505.40 L664.10,505.40 L664.60,505.40 L665.10,505.40 L665.60,505.40 L666.10,505.40 L666.60,505.40 L667.10,505.40 L667.60,505.40 L668.10,505.40 L668.60,505.40 L669.10,505.40 L669.60,505.40 L670.10,505.40 L670.60,505.40 L671.10,505.40 L671.60,505.40 L672.10,505.40 L672.60,505.40 L673.10,505.40 L673.60,505.40 L674.10,505.40 L674.60,505.40 L675.10,505.40 L675.60,505.40 L676.10,505.40 L676.60,505.40 L677.10,505.40 L677.60,505.40 L678.10,505.40 L678.60,505.40 L679.10,505.40 L679.60,505.40 L680.10,505.40 L680.60,505.40 L681.10,505.40 L681.60,505.40 L682.10,505.40 L682.60,505.40" stroke="#ff6cff" stroke-width="1.1"/>
<path d="M500.60,510.83 L501.10,511.05 L501.60,512.48 L502.10,512.26 L502.60,512.33 L503.10,511.28 L503.60,511.42 L504.10,511.14 L504.60,511.82 L505.10,511.21 L505.60,511.40 L506.10,510.38 L506.60,511.22 L507.10,511.10 L507.60,511.43 L508.10,510.90 L508.60,510.61 L509.10,510.95 L509.60,510.28 L510.10,510.71 L510.60,510.10 L511.10,509.85 L511.60,509.45 L512.10,509.28 L512.60,510.01 L513.10,510.18 L513.60,510.78 L514.10,510.59 L514.60,510.44 L515.10,510.25 L515.60,510.53 L516.10,510.55 L516.60,510.26 L517.10,509.58 L517.60,509.54 L518.10,509.51 L518.60,510.38 L519.10,510.05 L519.60,509.91 L520.10,509.17 L520.60,509.70 L521.10,509.91 L521.60,509.66 L522.10,509.14 L522.60,509.06 L523.10,509.63 L523.60,509.53 L524.10,509.56 L524.60,509.00 L525.10,509.37 L525.60,509.47 L526.10,509.15 L526.60,509.76 L527.10,509.65 L527.60,509.90 L528.10,508.80 L528.60,508.61 L529.10,508.73 L529.60,509.16 L530.10,509.19 L530.60,509.29 L531.10,508.53 L531.60,508.24 L532.10,507.71 L532.60,508.23 L533.10,508.57 L533.60,508.37 L534.10,508.21 L534.60,508.25 L535.10,508.96 L535.60,508.61 L536.10,508.51 L536.60,508.27 L537.10,508.44 L537.60,508.84 L538.10,508.32 L538.60,508.32 L539.10,507.79 L539.60,508.17 L540.10,508.15 L540.60,508.34 L541.10,508.62 L541.60,508.87 L542.10,508.64 L542.60,508.06 L543.10,507.29 L543.60,507.56 L544.10,507.17 L544.60,508.14 L545.10,507.28 L545.60,507.54 L546.10,506.65 L546.60,506.86 L547.10,506.48 L547.60,506.96 L548.10,506.66 L548.60,506.68 L549.10,505.69 L549.60,505.37 L550.10,505.04 L550.60,505.57 L551.10,505.46 L551.60,504.58 L552.10,504.02 L552.60,502.44 L553.10,502.81 L553.60,501.00 L554.10,500.92 L554.60,499.70 L555.10,499.17 L555.60,497.52 L556.10,496.17 L556.60,493.95 L557.10,491.96 L557.60,489.89 L558.10,487.81 L558.60,485.71 L559.10,482.61 L559.60,479.64 L560.10,476.15 L560.60,472.15 L561.10,468.18 L561.60,464.13 L562.10,459.80 L562.60,455.01 L563.10,449.91 L563.60,444.26 L564.10,438.62 L564.60,432.65 L565.10,427.70 L565.60,423.15 L566.10,418.28 L566.60,412.36 L567.10,406.88 L567.60,402.48 L568.10,399.00 L568.60,395.30 L569.10,391.85 L569.60,388.71 L570.10,385.26 L570.60,382.65 L571.10,380.58 L571.60,380.70 L572.10,381.79 L572.60,384.45 L573.10,387.14 L573.60,389.52 L574.10,392.00 L574.60,395.32 L575.10,398.76 L575.60,402.69 L576.10,406.80 L576.60,411.73 L577.10,416.16 L577.60,420.72 L578.10,425.58 L578.60,430.49 L579.10,434.48 L579.60,438.66 L580.10,443.05 L580.60,447.69 L581.10,451.67 L581.60,454.96 L582.10,459.11 L582.60,462.62 L583.10,466.07 L583.60,468.67 L584.10,471.26 L584.60,473.62 L585.10,474.95 L585.60,476.04 L586.10,478.82 L586.60,480.98 L587.10,483.29 L587.60,484.16 L588.10,485.61 L588.60,487.18 L589.10,487.71 L589.60,488.96 L590.10,488.79 L590.60,490.12 L591.10,490.88 L591.60,492.30 L592.10,492.70 L592.60,493.01 L593.10,493.53 L593.60,494.01 L594.10,493.82 L594.60,494.02 L595.10,493.48 L595.60,493.85 L596.10,493.38 L596.60,493.74 L597.10,493.43 L597.60,493.43 L598.10,492.84 L598.60,492.28 L599.10,492.06 L599.60,491.89 L600.10,491.80 L600.60,491.17 L601.10,490.02 L601.60,489.51 L602.10,488.21 L602.60,488.00 L603.10,486.96 L603.60,486.67 L604.10,486.05 L604.60,485.38 L605.10,484.25 L605.60,483.56 L606.10,483.14 L606.60,482.84 L607.10,482.00 L607.60,480.12 L608.10,478.92 L608.60,477.50 L609.10,476.35 L609.60,475.27 L610.10,474.26 L610.60,473.43 L611.10,472.27 L611.60,471.59 L612.10,471.72 L612.60,471.80 L613.10,471.09 L613.60,470.25 L614.10,469.55 L614.60,469.53 L615.10,469.31 L615.60,469.05 L616.10,469.01 L616.60,469.27 L617.10,469.40 L617.60,469.02 L618.10,469.00 L618.60,469.62 L619.10,470.85 L619.60,472.06 L620.10,472.38 L620.60,472.92 L621.10,473.30 L621.60,473.90 L622.10,474.97 L622.60,476.10 L623.10,478.82 L623.60,480.65 L624.10,482.35 L624.60,483.26 L625.10,484.57 L625.60,486.66 L626.10,488.22 L626.60,489.91 L627.10,490.84 L627.60,492.34 L628.10,493.65 L628.60,495.11 L629.10,496.00 L629.60,497.13 L630.10,497.87 L630.60,499.37 L631.10,499.85 L631.60,500.57 L632.10,501.42 L632.60,502.00 L633.10,502.82 L633.60,502.37 L634.10,502.70 L634.60,502.88 L635.10,503.20 L635.60,504.12 L636.10,504.26 L636.60,504.41 L637.10,504.61 L637.60,505.30 L638.10,505.18 L638.60,504.85 L639.10,505.15 L639.60,505.83 L640.10,506.08 L640.60,505.82 L641.10,505.46 L641.60,505.37 L642.10,505.78 L642.60,507.05 L643.10,507.39 L643.60,507.19 L644.10,506.99 L644.60,507.15 L645.10,507.39 L645.60,506.86 L646.10,506.74 L646.60,506.67 L647.10,507.06 L647.60,506.48 L648.10,506.51 L648.60,506.28 L649.10,506.75 L649.60,505.85 L650.10,505.75 L650.60,505.12 L651.10,504.80 L651.60,504.75 L652.10,505.18 L652.60,505.93 L653.10,505.88 L653.60,505.81 L654.10,506.07 L654.60,506.20 L655.10,506.64 L655.60,507.02 L656.10,506.92 L656.60,506.58 L657.10,506.30 L657.60,505.69 L658.10,505.25 L658.60,504.64 L659.10,504.34 L659.60,504.67 L660.10,505.01 L660.60,505.02 L661.10,504.37 L661.60,504.07 L662.10,504.82 L662.60,504.46 L663.10,504.26 L663.60,503.68 L664.10,503.53 L664.60,503.13 L665.10,502.93 L665.60,503.47 L666.10,503.53 L666.60,503.54 L667.10,503.37 L667.60,503.23 L668.10,503.39 L668.60,503.66 L669.10,503.94 L669.60,503.40 L670.10,502.76 L670.60,502.19 L671.10,502.88 L671.60,503.23 L672.10,503.15 L672.60,502.27 L673.10,501.74 L673.60,501.95 L674.10,501.91 L674.60,502.18 L675.10,502.55 L675.60,502.77 L676.10,503.00 L676.60,502.03 L677.10,502.17 L677.60,501.94 L678.10,502.08 L678.60,502.36 L679.10,502.21 L679.60,502.24 L680.10,501.65 L680.60,501.91 L681.10,501.63 L681.60,501.73 L682.10,501.06 L682.60,501.52" stroke="#000000" stroke-width="1.1"/>
</g>
<line x1="500.6" y1="369.7" x2="500.6" y2="517.6" stroke="#707070" stroke-width="1.1"/>
<line x1="500.1" y1="370.2" x2="683.2" y2="370.2" stroke="#707070" stroke-width="1.1"/>
<line x1="683.0" y1="369.7" x2="683.0" y2="517.6" stroke="#adadad" stroke-width="1.6"/>
<line x1="500.1" y1="517.1" x2="683.2" y2="517.1" stroke="#707070" stroke-width="1.1"/>
<line x1="527.10" y1="517.1" x2="527.10" y2="520.1" stroke="#777" stroke-width="1.1"/>
<line x1="572.90" y1="517.1" x2="572.90" y2="520.1" stroke="#777" stroke-width="1.1"/>
<line x1="618.70" y1="517.1" x2="618.70" y2="520.1" stroke="#777" stroke-width="1.1"/>
<line x1="664.50" y1="517.1" x2="664.50" y2="520.1" stroke="#777" stroke-width="1.1"/>
<line x1="504.20" y1="517.1" x2="504.20" y2="519.1" stroke="#777" stroke-width="1.1"/>
<line x1="550.00" y1="517.1" x2="550.00" y2="519.1" stroke="#777" stroke-width="1.1"/>
<line x1="595.80" y1="517.1" x2="595.80" y2="519.1" stroke="#777" stroke-width="1.1"/>
<line x1="641.60" y1="517.1" x2="641.60" y2="519.1" stroke="#777" stroke-width="1.1"/>
<line x1="497.6" y1="495.20" x2="500.6" y2="495.20" stroke="#777" stroke-width="1.1"/>
<line x1="497.6" y1="461.07" x2="500.6" y2="461.07" stroke="#777" stroke-width="1.1"/>
<line x1="497.6" y1="426.93" x2="500.6" y2="426.93" stroke="#777" stroke-width="1.1"/>
<line x1="497.6" y1="392.80" x2="500.6" y2="392.80" stroke="#777" stroke-width="1.1"/>
<line x1="498.6" y1="512.27" x2="500.6" y2="512.27" stroke="#777" stroke-width="1.1"/>
<line x1="498.6" y1="478.13" x2="500.6" y2="478.13" stroke="#777" stroke-width="1.1"/>
<line x1="498.6" y1="444.00" x2="500.6" y2="444.00" stroke="#777" stroke-width="1.1"/>
<line x1="498.6" y1="409.87" x2="500.6" y2="409.87" stroke="#777" stroke-width="1.1"/>
<line x1="498.6" y1="375.73" x2="500.6" y2="375.73" stroke="#777" stroke-width="1.1"/>
<text x="527.10" y="529.7" font-size="9.1" text-anchor="middle">280</text>
<text x="572.90" y="529.7" font-size="9.1" text-anchor="middle">285</text>
<text x="618.70" y="529.7" font-size="9.1" text-anchor="middle">290</text>
<text x="664.50" y="529.7" font-size="9.1" text-anchor="middle">295</text>
<text x="494.5" y="498.18" font-size="8.75" text-anchor="end">1500</text>
<text x="494.5" y="464.04" font-size="8.75" text-anchor="end">3000</text>
<text x="494.5" y="429.91" font-size="8.75" text-anchor="end">4500</text>
<text x="494.5" y="395.78" font-size="8.75" text-anchor="end">6000</text>
<text x="587.2" y="541.0" font-size="10.8" text-anchor="middle">Binding energy (eV)</text>
<text transform="translate(474.9,441) rotate(-90)" font-size="10.8" text-anchor="middle">Counts (a.u)</text>
<text transform="translate(507.3,392.80) scale(1,1.0)" font-size="22.78">(i)</text>
<text transform="translate(671.4000000000001,384.00) scale(1,1.0)" font-size="13.12" text-anchor="end">C 1s</text>
<text x="572.7" y="378.4" font-size="9.0" text-anchor="middle">284.87</text>
<text x="616.4" y="463.7" font-size="9.0" text-anchor="middle">289.45</text>
<clipPath id="cj"><rect x="38.9" y="557.5" width="183.2" height="147.20000000000005"/></clipPath>
<g clip-path="url(#cj)" fill="none" stroke-linejoin="round" stroke-linecap="round">
<path d="M38.90,690.20 L39.40,690.20 L39.90,690.20 L40.40,690.20 L40.90,690.20 L41.40,690.20 L41.90,690.20 L42.40,690.20 L42.90,690.20 L43.40,690.20 L43.90,690.20 L44.40,690.20 L44.90,690.20 L45.40,690.20 L45.90,690.20 L46.40,690.20 L46.90,690.20 L47.40,690.20 L47.90,690.20 L48.40,690.20 L48.90,690.20 L49.40,690.20 L49.90,690.20 L50.40,690.20 L50.90,690.20 L51.40,690.20 L51.90,690.20 L52.40,690.20 L52.90,690.20 L53.40,690.20 L53.90,690.20 L54.40,690.20 L54.90,690.20 L55.40,690.20 L55.90,690.20 L56.40,690.20 L56.90,690.20 L57.40,690.20 L57.90,690.20 L58.40,690.20 L58.90,690.20 L59.40,690.20 L59.90,690.20 L60.40,690.20 L60.90,690.20 L61.40,690.20 L61.90,690.20 L62.40,690.20 L62.90,690.20 L63.40,690.20 L63.90,690.20 L64.40,690.20 L64.90,690.20 L65.40,690.20 L65.90,690.20 L66.40,690.20 L66.90,690.20 L67.40,690.20 L67.90,690.20 L68.40,690.20 L68.90,690.20 L69.40,690.20 L69.90,690.20 L70.40,690.20 L70.90,690.20 L71.40,690.20 L71.90,690.20 L72.40,690.20 L72.90,690.20 L73.40,690.20 L73.90,690.20 L74.40,690.20 L74.90,690.20 L75.40,690.20 L75.90,690.20 L76.40,690.20 L76.90,690.20 L77.40,690.20 L77.90,690.20 L78.40,690.19 L78.90,690.19 L79.40,690.19 L79.90,690.19 L80.40,690.19 L80.90,690.18 L81.40,690.18 L81.90,690.17 L82.40,690.17 L82.90,690.16 L83.40,690.15 L83.90,690.14 L84.40,690.13 L84.90,690.11 L85.40,690.09 L85.90,690.07 L86.40,690.05 L86.90,690.02 L87.40,689.98 L87.90,689.94 L88.40,689.89 L88.90,689.83 L89.40,689.77 L89.90,689.69 L90.40,689.60 L90.90,689.49 L91.40,689.37 L91.90,689.23 L92.40,689.07 L92.90,688.89 L93.40,688.68 L93.90,688.45 L94.40,688.18 L94.90,687.87 L95.40,687.53 L95.90,687.14 L96.40,686.71 L96.90,686.22 L97.40,685.68 L97.90,685.07 L98.40,684.40 L98.90,683.66 L99.40,682.85 L99.90,681.95 L100.40,680.96 L100.90,679.89 L101.40,678.71 L101.90,677.44 L102.40,676.06 L102.90,674.57 L103.40,672.96 L103.90,671.24 L104.40,669.40 L104.90,667.43 L105.40,665.34 L105.90,663.13 L106.40,660.80 L106.90,658.34 L107.40,655.76 L107.90,653.07 L108.40,650.27 L108.90,647.37 L109.40,644.36 L109.90,641.27 L110.40,638.10 L110.90,634.87 L111.40,631.58 L111.90,628.25 L112.40,624.89 L112.90,621.53 L113.40,618.17 L113.90,614.84 L114.40,611.54 L114.90,608.31 L115.40,605.16 L115.90,602.11 L116.40,599.18 L116.90,596.38 L117.40,593.74 L117.90,591.28 L118.40,589.00 L118.90,586.93 L119.40,585.08 L119.90,583.47 L120.40,582.10 L120.90,580.98 L121.40,580.13 L121.90,579.55 L122.40,579.25 L122.90,579.22 L123.40,579.47 L123.90,580.00 L124.40,580.79 L124.90,581.85 L125.40,583.17 L125.90,584.74 L126.40,586.54 L126.90,588.57 L127.40,590.81 L127.90,593.24 L128.40,595.84 L128.90,598.61 L129.40,601.52 L129.90,604.54 L130.40,607.68 L130.90,610.89 L131.40,614.17 L131.90,617.50 L132.40,620.86 L132.90,624.22 L133.40,627.58 L133.90,630.92 L134.40,634.22 L134.90,637.46 L135.40,640.65 L135.90,643.75 L136.40,646.77 L136.90,649.70 L137.40,652.52 L137.90,655.24 L138.40,657.83 L138.90,660.32 L139.40,662.68 L139.90,664.91 L140.40,667.02 L140.90,669.01 L141.40,670.88 L141.90,672.63 L142.40,674.26 L142.90,675.77 L143.40,677.17 L143.90,678.47 L144.40,679.66 L144.90,680.76 L145.40,681.76 L145.90,682.67 L146.40,683.51 L146.90,684.26 L147.40,684.95 L147.90,685.56 L148.40,686.12 L148.90,686.61 L149.40,687.06 L149.90,687.45 L150.40,687.81 L150.90,688.12 L151.40,688.39 L151.90,688.64 L152.40,688.85 L152.90,689.04 L153.40,689.20 L153.90,689.35 L154.40,689.47 L154.90,689.58 L155.40,689.67 L155.90,689.75 L156.40,689.82 L156.90,689.88 L157.40,689.93 L157.90,689.97 L158.40,690.01 L158.90,690.04 L159.40,690.07 L159.90,690.09 L160.40,690.11 L160.90,690.12 L161.40,690.14 L161.90,690.15 L162.40,690.16 L162.90,690.17 L163.40,690.17 L163.90,690.18 L164.40,690.18 L164.90,690.18 L165.40,690.19 L165.90,690.19 L166.40,690.19 L166.90,690.19 L167.40,690.19 L167.90,690.20 L168.40,690.20 L168.90,690.20 L169.40,690.20 L169.90,690.20 L170.40,690.20 L170.90,690.20 L171.40,690.20 L171.90,690.20 L172.40,690.20 L172.90,690.20 L173.40,690.20 L173.90,690.20 L174.40,690.20 L174.90,690.20 L175.40,690.20 L175.90,690.20 L176.40,690.20 L176.90,690.20 L177.40,690.20 L177.90,690.20 L178.40,690.20 L178.90,690.20 L179.40,690.20 L179.90,690.20 L180.40,690.20 L180.90,690.20 L181.40,690.20 L181.90,690.20 L182.40,690.20 L182.90,690.20 L183.40,690.20 L183.90,690.20 L184.40,690.20 L184.90,690.20 L185.40,690.20 L185.90,690.20 L186.40,690.20 L186.90,690.20 L187.40,690.20 L187.90,690.20 L188.40,690.20 L188.90,690.20 L189.40,690.20 L189.90,690.20 L190.40,690.20 L190.90,690.20 L191.40,690.20 L191.90,690.20 L192.40,690.20 L192.90,690.20 L193.40,690.20 L193.90,690.20 L194.40,690.20 L194.90,690.20 L195.40,690.20 L195.90,690.20 L196.40,690.20 L196.90,690.20 L197.40,690.20 L197.90,690.20 L198.40,690.20 L198.90,690.20 L199.40,690.20 L199.90,690.20 L200.40,690.20 L200.90,690.20 L201.40,690.20 L201.90,690.20 L202.40,690.20 L202.90,690.20 L203.40,690.20 L203.90,690.20 L204.40,690.20 L204.90,690.20 L205.40,690.20 L205.90,690.20 L206.40,690.20 L206.90,690.20 L207.40,690.20 L207.90,690.20 L208.40,690.20 L208.90,690.20 L209.40,690.20 L209.90,690.20 L210.40,690.20 L210.90,690.20 L211.40,690.20 L211.90,690.20 L212.40,690.20 L212.90,690.20 L213.40,690.20 L213.90,690.20 L214.40,690.20 L214.90,690.20 L215.40,690.20 L215.90,690.20 L216.40,690.20 L216.90,690.20 L217.40,690.20 L217.90,690.20 L218.40,690.20 L218.90,690.20 L219.40,690.20 L219.90,690.20 L220.40,690.20 L220.90,690.20 L221.40,690.20 L221.90,690.20" stroke="#ff5c5c" stroke-width="1.05"/>
<path d="M88.90,690.20 L89.40,690.20 L89.90,690.20 L90.40,690.20 L90.90,690.20 L91.40,690.20 L91.90,690.20 L92.40,690.20 L92.90,690.20 L93.40,690.20 L93.90,690.20 L94.40,690.20 L94.90,690.20 L95.40,690.20 L95.90,690.20 L96.40,690.20 L96.90,690.20 L97.40,690.20 L97.90,690.20 L98.40,690.20 L98.90,690.20 L99.40,690.20 L99.90,690.20 L100.40,690.20 L100.90,690.20 L101.40,690.20 L101.90,690.20 L102.40,690.20 L102.90,690.20 L103.40,690.20 L103.90,690.20 L104.40,690.20 L104.90,690.20 L105.40,690.20 L105.90,690.20 L106.40,690.20 L106.90,690.20 L107.40,690.20 L107.90,690.20 L108.40,690.20 L108.90,690.20 L109.40,690.20 L109.90,690.20 L110.40,690.20 L110.90,690.20 L111.40,690.20 L111.90,690.20 L112.40,690.20 L112.90,690.20 L113.40,690.20 L113.90,690.20 L114.40,690.20 L114.90,690.20 L115.40,690.20 L115.90,690.20 L116.40,690.20 L116.90,690.20 L117.40,690.20 L117.90,690.20 L118.40,690.20 L118.90,690.20 L119.40,690.20 L119.90,690.20 L120.40,690.20 L120.90,690.20 L121.40,690.20 L121.90,690.20 L122.40,690.20 L122.90,690.20 L123.40,690.20 L123.90,690.20 L124.40,690.20 L124.90,690.20 L125.40,690.20 L125.90,690.20 L126.40,690.20 L126.90,690.20 L127.40,690.20 L127.90,690.20 L128.40,690.20 L128.90,690.20 L129.40,690.20 L129.90,690.20 L130.40,690.20 L130.90,690.20 L131.40,690.20 L131.90,690.20 L132.40,690.20 L132.90,690.20 L133.40,690.20 L133.90,690.20 L134.40,690.20 L134.90,690.20 L135.40,690.20 L135.90,690.20 L136.40,690.20 L136.90,690.20 L137.40,690.20 L137.90,690.20 L138.40,690.20 L138.90,690.20 L139.40,690.20 L139.90,690.20 L140.40,690.20 L140.90,690.20 L141.40,690.20 L141.90,690.20 L142.40,690.20 L142.90,690.20 L143.40,690.20 L143.90,690.20 L144.40,690.20 L144.90,690.20 L145.40,690.20 L145.90,690.20 L146.40,690.20 L146.90,690.20 L147.40,690.20 L147.90,690.20 L148.40,690.20 L148.90,690.20 L149.40,690.20 L149.90,690.20 L150.40,690.20 L150.90,690.20 L151.40,690.20 L151.90,690.20 L152.40,690.20 L152.90,690.20 L153.40,690.20 L153.90,690.20 L154.40,690.20 L154.90,690.20 L155.40,690.20 L155.90,690.20" stroke="#6464ff" stroke-width="1.0"/>
<path d="M38.90,692.36 L39.40,692.38 L39.90,692.60 L40.40,692.54 L40.90,692.28 L41.40,692.38 L41.90,692.10 L42.40,692.39 L42.90,692.42 L43.40,692.69 L43.90,692.38 L44.40,692.00 L44.90,692.51 L45.40,692.81 L45.90,692.45 L46.40,692.10 L46.90,692.46 L47.40,693.36 L47.90,693.68 L48.40,693.28 L48.90,692.37 L49.40,692.21 L49.90,692.22 L50.40,692.83 L50.90,693.25 L51.40,693.36 L51.90,693.42 L52.40,693.11 L52.90,692.96 L53.40,692.65 L53.90,692.22 L54.40,692.53 L54.90,692.90 L55.40,692.97 L55.90,693.08 L56.40,692.97 L56.90,692.69 L57.40,692.51 L57.90,692.40 L58.40,692.39 L58.90,692.36 L59.40,692.28 L59.90,692.57 L60.40,692.59 L60.90,691.99 L61.40,691.70 L61.90,691.37 L62.40,692.14 L62.90,692.32 L63.40,692.13 L63.90,691.71 L64.40,691.88 L64.90,692.40 L65.40,692.26 L65.90,691.63 L66.40,691.31 L66.90,691.65 L67.40,692.01 L67.90,692.29 L68.40,692.66 L68.90,692.76 L69.40,692.45 L69.90,692.36 L70.40,692.40 L70.90,692.05 L71.40,691.84 L71.90,691.68 L72.40,692.22 L72.90,692.08 L73.40,692.29 L73.90,692.35 L74.40,692.46 L74.90,692.31 L75.40,691.82 L75.90,692.39 L76.40,692.94 L76.90,692.77 L77.40,691.88 L77.90,691.71 L78.40,691.99 L78.90,692.32 L79.40,692.38 L79.90,692.60 L80.40,692.51 L80.90,692.05 L81.40,691.93 L81.90,692.04 L82.40,692.69 L82.90,693.00 L83.40,692.76 L83.90,692.45 L84.40,692.09 L84.90,691.62 L85.40,691.24 L85.90,691.46 L86.40,691.67 L86.90,691.94 L87.40,691.45 L87.90,691.57 L88.40,690.79 L88.90,691.43 L89.40,691.44 L89.90,692.01 L90.40,691.07 L90.90,690.31 L91.40,690.21 L91.90,689.96 L92.40,690.76 L92.90,690.11 L93.40,690.62 L93.90,689.61 L94.40,688.83 L94.90,688.23 L95.40,688.10 L95.90,688.29 L96.40,688.05 L96.90,687.42 L97.40,686.58 L97.90,685.40 L98.40,684.61 L98.90,683.84 L99.40,683.13 L99.90,682.61 L100.40,682.22 L100.90,681.32 L101.40,680.58 L101.90,679.85 L102.40,678.95 L102.90,677.80 L103.40,675.83 L103.90,674.43 L104.40,672.76 L104.90,671.04 L105.40,668.51 L105.90,666.23 L106.40,664.22 L106.90,662.81 L107.40,660.26 L107.90,658.17 L108.40,654.22 L108.90,651.39 L109.40,647.74 L109.90,645.29 L110.40,642.04 L110.90,638.91 L111.40,636.19 L111.90,632.90 L112.40,629.83 L112.90,625.79 L113.40,622.37 L113.90,617.75 L114.40,614.32 L114.90,611.05 L115.40,608.07 L115.90,604.57 L116.40,600.93 L116.90,598.91 L117.40,595.90 L117.90,593.22 L118.40,589.17 L118.90,586.66 L119.40,584.86 L119.90,583.46 L120.40,581.50 L120.90,580.02 L121.40,579.42 L121.90,579.62 L122.40,579.38 L122.90,579.00 L123.40,579.93 L123.90,580.03 L124.40,581.01 L124.90,580.63 L125.40,581.76 L125.90,582.53 L126.40,584.61 L126.90,586.52 L127.40,588.72 L127.90,590.26 L128.40,592.97 L128.90,596.11 L129.40,599.72 L129.90,602.37 L130.40,605.29 L130.90,608.36 L131.40,611.68 L131.90,615.09 L132.40,617.98 L132.90,621.14 L133.40,623.46 L133.90,627.42 L134.40,630.34 L134.90,634.10 L135.40,636.77 L135.90,639.82 L136.40,642.69 L136.90,645.61 L137.40,648.64 L137.90,651.25 L138.40,653.53 L138.90,655.80 L139.40,658.19 L139.90,660.63 L140.40,663.10 L140.90,665.46 L141.40,667.21 L141.90,668.63 L142.40,670.14 L142.90,671.72 L143.40,673.55 L143.90,674.60 L144.40,675.81 L144.90,676.67 L145.40,677.80 L145.90,678.20 L146.40,678.85 L146.90,679.41 L147.40,680.93 L147.90,681.55 L148.40,682.21 L148.90,682.15 L149.40,682.01 L149.90,682.72 L150.40,683.43 L150.90,684.89 L151.40,684.47 L151.90,684.73 L152.40,684.76 L152.90,685.05 L153.40,685.46 L153.90,685.54 L154.40,686.51 L154.90,686.16 L155.40,686.40 L155.90,686.34 L156.40,686.69 L156.90,687.28 L157.40,688.20 L157.90,688.93 L158.40,689.36 L158.90,689.64 L159.40,690.04 L159.90,689.92 L160.40,689.04 L160.90,689.14 L161.40,689.31 L161.90,689.91 L162.40,690.16 L162.90,690.55 L163.40,690.30 L163.90,690.25 L164.40,690.06 L164.90,690.90 L165.40,690.89 L165.90,691.35 L166.40,690.93 L166.90,690.87 L167.40,690.46 L167.90,690.66 L168.40,690.76 L168.90,691.35 L169.40,691.14 L169.90,691.29 L170.40,690.56 L170.90,690.43 L171.40,690.22 L171.90,690.12 L172.40,690.64 L172.90,690.60 L173.40,690.92 L173.90,691.01 L174.40,691.74 L174.90,691.75 L175.40,691.00 L175.90,690.39 L176.40,690.56 L176.90,691.55 L177.40,691.67 L177.90,691.40 L178.40,691.34 L178.90,691.70 L179.40,691.93 L179.90,691.74 L180.40,691.52 L180.90,692.41 L181.40,692.13 L181.90,691.90 L182.40,691.06 L182.90,691.49 L183.40,691.53 L183.90,691.73 L184.40,691.80 L184.90,692.52 L185.40,692.29 L185.90,691.88 L186.40,691.12 L186.90,690.55 L187.40,690.24 L187.90,690.36 L188.40,690.96 L188.90,692.12 L189.40,692.43 L189.90,692.59 L190.40,692.20 L190.90,691.58 L191.40,691.12 L191.90,690.39 L192.40,690.51 L192.90,691.33 L193.40,691.45 L193.90,691.27 L194.40,690.57 L194.90,690.88 L195.40,691.21 L195.90,691.43 L196.40,690.75 L196.90,690.30 L197.40,689.92 L197.90,690.30 L198.40,690.97 L198.90,690.61 L199.40,690.75 L199.90,690.22 L200.40,690.76 L200.90,690.28 L201.40,689.85 L201.90,689.97 L202.40,690.21 L202.90,689.97 L203.40,689.76 L203.90,689.29 L204.40,689.80 L204.90,689.52 L205.40,689.34 L205.90,689.67 L206.40,689.44 L206.90,690.32 L207.40,690.06 L207.90,690.32 L208.40,689.83 L208.90,690.24 L209.40,689.69 L209.90,689.30 L210.40,688.40 L210.90,689.03 L211.40,689.55 L211.90,689.72 L212.40,689.38 L212.90,688.46 L213.40,688.84 L213.90,688.62 L214.40,689.12 L214.90,688.49 L215.40,688.70 L215.90,688.53 L216.40,688.60 L216.90,688.36 L217.40,688.20 L217.90,687.91 L218.40,687.94 L218.90,688.16 L219.40,688.52 L219.90,688.79 L220.40,688.22 L220.90,687.33 L221.40,686.68 L221.90,687.41" stroke="#000000" stroke-width="1.1"/>
</g>
<line x1="38.9" y1="557.0" x2="38.9" y2="705.2" stroke="#707070" stroke-width="1.1"/>
<line x1="38.4" y1="557.5" x2="222.6" y2="557.5" stroke="#707070" stroke-width="1.1"/>
<line x1="222.0" y1="557.0" x2="222.0" y2="705.2" stroke="#adadad" stroke-width="1.6"/>
<line x1="38.4" y1="705.0" x2="222.6" y2="705.0" stroke="#adadad" stroke-width="1.6"/>
<line x1="39.40" y1="704.7" x2="39.40" y2="707.7" stroke="#777" stroke-width="1.1"/>
<line x1="93.15" y1="704.7" x2="93.15" y2="707.7" stroke="#777" stroke-width="1.1"/>
<line x1="146.90" y1="704.7" x2="146.90" y2="707.7" stroke="#777" stroke-width="1.1"/>
<line x1="200.65" y1="704.7" x2="200.65" y2="707.7" stroke="#777" stroke-width="1.1"/>
<line x1="66.28" y1="704.7" x2="66.28" y2="706.7" stroke="#777" stroke-width="1.1"/>
<line x1="120.03" y1="704.7" x2="120.03" y2="706.7" stroke="#777" stroke-width="1.1"/>
<line x1="173.78" y1="704.7" x2="173.78" y2="706.7" stroke="#777" stroke-width="1.1"/>
<line x1="35.9" y1="705.20" x2="38.9" y2="705.20" stroke="#777" stroke-width="1.1"/>
<line x1="35.9" y1="678.42" x2="38.9" y2="678.42" stroke="#777" stroke-width="1.1"/>
<line x1="35.9" y1="651.64" x2="38.9" y2="651.64" stroke="#777" stroke-width="1.1"/>
<line x1="35.9" y1="624.86" x2="38.9" y2="624.86" stroke="#777" stroke-width="1.1"/>
<line x1="35.9" y1="598.08" x2="38.9" y2="598.08" stroke="#777" stroke-width="1.1"/>
<line x1="35.9" y1="571.30" x2="38.9" y2="571.30" stroke="#777" stroke-width="1.1"/>
<line x1="36.9" y1="691.81" x2="38.9" y2="691.81" stroke="#777" stroke-width="1.1"/>
<line x1="36.9" y1="665.03" x2="38.9" y2="665.03" stroke="#777" stroke-width="1.1"/>
<line x1="36.9" y1="638.25" x2="38.9" y2="638.25" stroke="#777" stroke-width="1.1"/>
<line x1="36.9" y1="611.47" x2="38.9" y2="611.47" stroke="#777" stroke-width="1.1"/>
<line x1="36.9" y1="584.69" x2="38.9" y2="584.69" stroke="#777" stroke-width="1.1"/>
<line x1="36.9" y1="557.91" x2="38.9" y2="557.91" stroke="#777" stroke-width="1.1"/>
<text x="39.40" y="717.5" font-size="9.1" text-anchor="middle">1295</text>
<text x="93.15" y="717.5" font-size="9.1" text-anchor="middle">1300</text>
<text x="146.90" y="717.5" font-size="9.1" text-anchor="middle">1305</text>
<text x="200.65" y="717.5" font-size="9.1" text-anchor="middle">1310</text>
<text x="34.5" y="708.23" font-size="8.9" text-anchor="end">4000</text>
<text x="34.5" y="681.45" font-size="8.9" text-anchor="end">8000</text>
<text x="34.5" y="654.67" font-size="8.9" text-anchor="end">12000</text>
<text x="34.5" y="627.89" font-size="8.9" text-anchor="end">16000</text>
<text x="34.5" y="601.11" font-size="8.9" text-anchor="end">20000</text>
<text x="34.5" y="574.33" font-size="8.9" text-anchor="end">24000</text>
<text x="135.6" y="728.0" font-size="10.8" text-anchor="middle">Binding energy (eV)</text>
<text transform="translate(10.6,628.4) rotate(-90)" font-size="10.8" text-anchor="middle">Counts (a.u)</text>
<text transform="translate(45.1,582.80) scale(1,1.0)" font-size="22.36">(j)</text>
<text transform="translate(220.2,572.60) scale(1,1.0)" font-size="12.92" text-anchor="end">Mg 1s</text>
<text x="121.7" y="574.4" font-size="9.0" text-anchor="middle">1302.69</text>
<clipPath id="ck"><rect x="272.7" y="558.1" width="182.8" height="147.10000000000002"/></clipPath>
<g clip-path="url(#ck)" fill="none" stroke-linejoin="round" stroke-linecap="round">
<path d="M272.70,699.40 L273.20,699.40 L273.70,699.40 L274.20,699.40 L274.70,699.40 L275.20,699.40 L275.70,699.40 L276.20,699.40 L276.70,699.40 L277.20,699.40 L277.70,699.40 L278.20,699.40 L278.70,699.40 L279.20,699.40 L279.70,699.40 L280.20,699.40 L280.70,699.40 L281.20,699.40 L281.70,699.40 L282.20,699.40 L282.70,699.40 L283.20,699.40 L283.70,699.40 L284.20,699.40 L284.70,699.40 L285.20,699.40 L285.70,699.40 L286.20,699.40 L286.70,699.40 L287.20,699.40 L287.70,699.40 L288.20,699.40 L288.70,699.40 L289.20,699.40 L289.70,699.40 L290.20,699.40 L290.70,699.40 L291.20,699.40 L291.70,699.40 L292.20,699.40 L292.70,699.40 L293.20,699.40 L293.70,699.40 L294.20,699.40 L294.70,699.40 L295.20,699.40 L295.70,699.40 L296.20,699.40 L296.70,699.40 L297.20,699.40 L297.70,699.40 L298.20,699.40 L298.70,699.40 L299.20,699.40 L299.70,699.40 L300.20,699.40 L300.70,699.40 L301.20,699.40 L301.70,699.40 L302.20,699.40 L302.70,699.40 L303.20,699.40 L303.70,699.40 L304.20,699.40 L304.70,699.40 L305.20,699.40 L305.70,699.40 L306.20,699.40 L306.70,699.40 L307.20,699.40 L307.70,699.40 L308.20,699.40 L308.70,699.40 L309.20,699.40 L309.70,699.40 L310.20,699.40 L310.70,699.40 L311.20,699.40 L311.70,699.40 L312.20,699.40 L312.70,699.40 L313.20,699.40 L313.70,699.40 L314.20,699.40 L314.70,699.40 L315.20,699.40 L315.70,699.40 L316.20,699.40 L316.70,699.40 L317.20,699.40 L317.70,699.39 L318.20,699.39 L318.70,699.39 L319.20,699.39 L319.70,699.39 L320.20,699.38 L320.70,699.38 L321.20,699.37 L321.70,699.37 L322.20,699.36 L322.70,699.35 L323.20,699.34 L323.70,699.32 L324.20,699.31 L324.70,699.29 L325.20,699.26 L325.70,699.23 L326.20,699.19 L326.70,699.15 L327.20,699.10 L327.70,699.04 L328.20,698.97 L328.70,698.88 L329.20,698.78 L329.70,698.66 L330.20,698.53 L330.70,698.37 L331.20,698.18 L331.70,697.97 L332.20,697.72 L332.70,697.43 L333.20,697.11 L333.70,696.73 L334.20,696.31 L334.70,695.83 L335.20,695.28 L335.70,694.67 L336.20,693.98 L336.70,693.21 L337.20,692.35 L337.70,691.39 L338.20,690.32 L338.70,689.15 L339.20,687.86 L339.70,686.44 L340.20,684.89 L340.70,683.20 L341.20,681.37 L341.70,679.38 L342.20,677.24 L342.70,674.95 L343.20,672.49 L343.70,669.88 L344.20,667.10 L344.70,664.16 L345.20,661.07 L345.70,657.83 L346.20,654.44 L346.70,650.92 L347.20,647.27 L347.70,643.51 L348.20,639.65 L348.70,635.71 L349.20,631.71 L349.70,627.66 L350.20,623.58 L350.70,619.51 L351.20,615.46 L351.70,611.47 L352.20,607.54 L352.70,603.72 L353.20,600.03 L353.70,596.49 L354.20,593.14 L354.70,589.99 L355.20,587.07 L355.70,584.41 L356.20,582.03 L356.70,579.94 L357.20,578.16 L357.70,576.72 L358.20,575.62 L358.70,574.86 L359.20,574.47 L359.70,574.43 L360.20,574.75 L360.70,575.44 L361.20,576.47 L361.70,577.85 L362.20,579.56 L362.70,581.58 L363.20,583.91 L363.70,586.52 L364.20,589.39 L364.70,592.49 L365.20,595.81 L365.70,599.31 L366.20,602.97 L366.70,606.77 L367.20,610.67 L367.70,614.66 L368.20,618.70 L368.70,622.77 L369.20,626.84 L369.70,630.90 L370.20,634.91 L370.70,638.87 L371.20,642.75 L371.70,646.53 L372.20,650.20 L372.70,653.75 L373.20,657.16 L373.70,660.44 L374.20,663.56 L374.70,666.53 L375.20,669.34 L375.70,671.98 L376.20,674.47 L376.70,676.80 L377.20,678.97 L377.70,680.98 L378.20,682.84 L378.70,684.56 L379.20,686.14 L379.70,687.58 L380.20,688.90 L380.70,690.10 L381.20,691.18 L381.70,692.16 L382.20,693.04 L382.70,693.83 L383.20,694.54 L383.70,695.17 L384.20,695.73 L384.70,696.22 L385.20,696.65 L385.70,697.04 L386.20,697.37 L386.70,697.66 L387.20,697.92 L387.70,698.14 L388.20,698.33 L388.70,698.50 L389.20,698.64 L389.70,698.76 L390.20,698.86 L390.70,698.95 L391.20,699.03 L391.70,699.09 L392.20,699.14 L392.70,699.19 L393.20,699.22 L393.70,699.26 L394.20,699.28 L394.70,699.30 L395.20,699.32 L395.70,699.34 L396.20,699.35 L396.70,699.36 L397.20,699.37 L397.70,699.37 L398.20,699.38 L398.70,699.38 L399.20,699.39 L399.70,699.39 L400.20,699.39 L400.70,699.39 L401.20,699.39 L401.70,699.40 L402.20,699.40 L402.70,699.40 L403.20,699.40 L403.70,699.40 L404.20,699.40 L404.70,699.40 L405.20,699.40 L405.70,699.40 L406.20,699.40 L406.70,699.40 L407.20,699.40 L407.70,699.40 L408.20,699.40 L408.70,699.40 L409.20,699.40 L409.70,699.40 L410.20,699.40 L410.70,699.40 L411.20,699.40 L411.70,699.40 L412.20,699.40 L412.70,699.40 L413.20,699.40 L413.70,699.40 L414.20,699.40 L414.70,699.40 L415.20,699.40 L415.70,699.40 L416.20,699.40 L416.70,699.40 L417.20,699.40 L417.70,699.40 L418.20,699.40 L418.70,699.40 L419.20,699.40 L419.70,699.40 L420.20,699.40 L420.70,699.40 L421.20,699.40 L421.70,699.40 L422.20,699.40 L422.70,699.40 L423.20,699.40 L423.70,699.40 L424.20,699.40 L424.70,699.40 L425.20,699.40 L425.70,699.40 L426.20,699.40 L426.70,699.40 L427.20,699.40 L427.70,699.40 L428.20,699.40 L428.70,699.40 L429.20,699.40 L429.70,699.40 L430.20,699.40 L430.70,699.40 L431.20,699.40 L431.70,699.40 L432.20,699.40 L432.70,699.40 L433.20,699.40 L433.70,699.40 L434.20,699.40 L434.70,699.40 L435.20,699.40 L435.70,699.40 L436.20,699.40 L436.70,699.40 L437.20,699.40 L437.70,699.40 L438.20,699.40 L438.70,699.40 L439.20,699.40 L439.70,699.40 L440.20,699.40 L440.70,699.40 L441.20,699.40 L441.70,699.40 L442.20,699.40 L442.70,699.40 L443.20,699.40 L443.70,699.40 L444.20,699.40 L444.70,699.40 L445.20,699.40 L445.70,699.40 L446.20,699.40 L446.70,699.40 L447.20,699.40 L447.70,699.40 L448.20,699.40 L448.70,699.40 L449.20,699.40 L449.70,699.40 L450.20,699.40 L450.70,699.40 L451.20,699.40 L451.70,699.40 L452.20,699.40 L452.70,699.40 L453.20,699.40 L453.70,699.40 L454.20,699.40 L454.70,699.40 L455.20,699.40" stroke="#ff5c5c" stroke-width="1.05"/>
<path d="M324.20,699.40 L324.70,699.40 L325.20,699.40 L325.70,699.40 L326.20,699.40 L326.70,699.40 L327.20,699.40 L327.70,699.40 L328.20,699.40 L328.70,699.40 L329.20,699.40 L329.70,699.40 L330.20,699.40 L330.70,699.40 L331.20,699.40 L331.70,699.40 L332.20,699.40 L332.70,699.40 L333.20,699.40 L333.70,699.40 L334.20,699.40 L334.70,699.40 L335.20,699.40 L335.70,699.40 L336.20,699.40 L336.70,699.40 L337.20,699.40 L337.70,699.40 L338.20,699.40 L338.70,699.40 L339.20,699.40 L339.70,699.40 L340.20,699.40 L340.70,699.40 L341.20,699.40 L341.70,699.40 L342.20,699.40 L342.70,699.40 L343.20,699.40 L343.70,699.40 L344.20,699.40 L344.70,699.40 L345.20,699.40 L345.70,699.40 L346.20,699.40 L346.70,699.40 L347.20,699.40 L347.70,699.40 L348.20,699.40 L348.70,699.40 L349.20,699.40 L349.70,699.40 L350.20,699.40 L350.70,699.40 L351.20,699.40 L351.70,699.40 L352.20,699.40 L352.70,699.40 L353.20,699.40 L353.70,699.40 L354.20,699.40 L354.70,699.40 L355.20,699.40 L355.70,699.40 L356.20,699.40 L356.70,699.40 L357.20,699.40 L357.70,699.40 L358.20,699.40 L358.70,699.40 L359.20,699.40 L359.70,699.40 L360.20,699.40 L360.70,699.40 L361.20,699.40 L361.70,699.40 L362.20,699.40 L362.70,699.40 L363.20,699.40 L363.70,699.40 L364.20,699.40 L364.70,699.40 L365.20,699.40 L365.70,699.40 L366.20,699.40 L366.70,699.40 L367.20,699.40 L367.70,699.40 L368.20,699.40 L368.70,699.40 L369.20,699.40 L369.70,699.40 L370.20,699.40 L370.70,699.40 L371.20,699.40 L371.70,699.40 L372.20,699.40 L372.70,699.40 L373.20,699.40 L373.70,699.40 L374.20,699.40 L374.70,699.40 L375.20,699.40 L375.70,699.40 L376.20,699.40 L376.70,699.40 L377.20,699.40 L377.70,699.40 L378.20,699.40 L378.70,699.40 L379.20,699.40 L379.70,699.40 L380.20,699.40 L380.70,699.40 L381.20,699.40 L381.70,699.40 L382.20,699.40 L382.70,699.40 L383.20,699.40 L383.70,699.40 L384.20,699.40 L384.70,699.40 L385.20,699.40 L385.70,699.40 L386.20,699.40 L386.70,699.40 L387.20,699.40 L387.70,699.40 L388.20,699.40 L388.70,699.40 L389.20,699.40 L389.70,699.40 L390.20,699.40 L390.70,699.40 L391.20,699.40 L391.70,699.40 L392.20,699.40 L392.70,699.40 L393.20,699.40 L393.70,699.40 L394.20,699.40 L394.70,699.40" stroke="#6464ff" stroke-width="1.0"/>
<path d="M272.70,701.58 L273.20,702.41 L273.70,701.84 L274.20,701.74 L274.70,701.67 L275.20,701.98 L275.70,702.03 L276.20,701.83 L276.70,701.78 L277.20,701.55 L277.70,701.10 L278.20,700.99 L278.70,701.06 L279.20,700.92 L279.70,700.51 L280.20,700.58 L280.70,700.81 L281.20,700.58 L281.70,700.75 L282.20,701.43 L282.70,701.85 L283.20,701.58 L283.70,701.41 L284.20,701.72 L284.70,701.86 L285.20,701.91 L285.70,702.02 L286.20,702.04 L286.70,701.59 L287.20,701.35 L287.70,701.50 L288.20,702.13 L288.70,701.59 L289.20,701.28 L289.70,700.63 L290.20,700.48 L290.70,700.74 L291.20,701.19 L291.70,701.51 L292.20,701.92 L292.70,702.02 L293.20,702.47 L293.70,702.14 L294.20,702.18 L294.70,701.52 L295.20,701.59 L295.70,701.47 L296.20,701.32 L296.70,701.23 L297.20,700.94 L297.70,701.78 L298.20,701.51 L298.70,701.59 L299.20,701.44 L299.70,701.29 L300.20,701.49 L300.70,701.34 L301.20,701.79 L301.70,701.41 L302.20,701.80 L302.70,701.83 L303.20,701.94 L303.70,701.79 L304.20,702.00 L304.70,702.65 L305.20,701.91 L305.70,701.79 L306.20,701.34 L306.70,701.83 L307.20,701.20 L307.70,701.46 L308.20,701.06 L308.70,701.58 L309.20,701.59 L309.70,701.48 L310.20,701.18 L310.70,700.32 L311.20,700.92 L311.70,701.52 L312.20,702.62 L312.70,701.94 L313.20,701.25 L313.70,700.81 L314.20,701.91 L314.70,702.24 L315.20,701.76 L315.70,701.33 L316.20,701.18 L316.70,701.35 L317.20,701.01 L317.70,701.14 L318.20,701.30 L318.70,701.51 L319.20,701.30 L319.70,700.77 L320.20,700.63 L320.70,701.07 L321.20,701.41 L321.70,701.07 L322.20,701.08 L322.70,701.29 L323.20,702.44 L323.70,701.99 L324.20,701.63 L324.70,700.42 L325.20,700.81 L325.70,701.78 L326.20,701.95 L326.70,701.25 L327.20,700.56 L327.70,700.51 L328.20,700.58 L328.70,700.20 L329.20,700.48 L329.70,700.85 L330.20,700.86 L330.70,700.94 L331.20,700.27 L331.70,700.18 L332.20,698.95 L332.70,698.38 L333.20,698.27 L333.70,698.49 L334.20,698.84 L334.70,698.39 L335.20,698.61 L335.70,698.22 L336.20,697.86 L336.70,696.81 L337.20,695.65 L337.70,694.34 L338.20,693.43 L338.70,692.46 L339.20,691.59 L339.70,690.67 L340.20,689.96 L340.70,688.73 L341.20,686.68 L341.70,684.98 L342.20,683.42 L342.70,682.50 L343.20,680.62 L343.70,678.07 L344.20,675.02 L344.70,672.85 L345.20,670.49 L345.70,668.32 L346.20,665.16 L346.70,661.26 L347.20,657.23 L347.70,652.95 L348.20,649.53 L348.70,645.57 L349.20,641.35 L349.70,636.98 L350.20,631.99 L350.70,627.49 L351.20,622.78 L351.70,618.92 L352.20,614.45 L352.70,610.59 L353.20,606.61 L353.70,602.78 L354.20,598.76 L354.70,594.79 L355.20,591.05 L355.70,587.65 L356.20,584.52 L356.70,582.17 L357.20,579.95 L357.70,578.39 L358.20,576.30 L358.70,575.46 L359.20,574.29 L359.70,574.19 L360.20,573.93 L360.70,574.45 L361.20,575.59 L361.70,576.60 L362.20,577.91 L362.70,579.31 L363.20,582.03 L363.70,584.77 L364.20,587.29 L364.70,589.74 L365.20,592.30 L365.70,596.57 L366.20,599.51 L366.70,603.78 L367.20,607.08 L367.70,610.90 L368.20,614.70 L368.70,618.74 L369.20,623.28 L369.70,627.15 L370.20,630.99 L370.70,634.68 L371.20,638.43 L371.70,641.70 L372.20,645.38 L372.70,648.36 L373.20,651.94 L373.70,654.70 L374.20,657.65 L374.70,660.36 L375.20,663.79 L375.70,667.02 L376.20,669.14 L376.70,671.08 L377.20,672.74 L377.70,674.86 L378.20,676.53 L378.70,677.67 L379.20,679.41 L379.70,680.57 L380.20,682.53 L380.70,683.32 L381.20,684.40 L381.70,685.49 L382.20,687.34 L382.70,689.42 L383.20,690.67 L383.70,691.65 L384.20,691.84 L384.70,691.99 L385.20,692.39 L385.70,693.29 L386.20,694.40 L386.70,695.01 L387.20,695.57 L387.70,695.90 L388.20,695.74 L388.70,695.87 L389.20,696.44 L389.70,697.13 L390.20,697.83 L390.70,698.76 L391.20,699.01 L391.70,699.15 L392.20,699.10 L392.70,699.67 L393.20,699.96 L393.70,699.67 L394.20,699.81 L394.70,700.26 L395.20,700.76 L395.70,700.41 L396.20,700.03 L396.70,700.27 L397.20,700.67 L397.70,700.35 L398.20,700.51 L398.70,700.03 L399.20,700.45 L399.70,699.98 L400.20,700.04 L400.70,700.30 L401.20,700.43 L401.70,700.45 L402.20,700.26 L402.70,700.02 L403.20,699.78 L403.70,699.37 L404.20,699.61 L404.70,700.46 L405.20,700.75 L405.70,700.69 L406.20,700.65 L406.70,700.53 L407.20,700.92 L407.70,700.82 L408.20,701.00 L408.70,700.80 L409.20,700.41 L409.70,700.09 L410.20,700.43 L410.70,700.90 L411.20,701.05 L411.70,700.66 L412.20,700.40 L412.70,700.60 L413.20,700.28 L413.70,700.54 L414.20,699.93 L414.70,700.60 L415.20,700.33 L415.70,700.30 L416.20,699.74 L416.70,699.75 L417.20,700.29 L417.70,699.95 L418.20,700.17 L418.70,701.28 L419.20,701.20 L419.70,701.14 L420.20,699.80 L420.70,700.25 L421.20,699.51 L421.70,699.19 L422.20,699.24 L422.70,699.79 L423.20,700.68 L423.70,700.26 L424.20,700.29 L424.70,700.68 L425.20,700.62 L425.70,700.23 L426.20,699.21 L426.70,699.42 L427.20,699.96 L427.70,699.98 L428.20,699.70 L428.70,699.46 L429.20,700.25 L429.70,700.89 L430.20,699.85 L430.70,698.86 L431.20,698.08 L431.70,699.14 L432.20,699.07 L432.70,699.93 L433.20,699.96 L433.70,700.25 L434.20,699.60 L434.70,699.22 L435.20,698.97 L435.70,699.27 L436.20,699.39 L436.70,699.10 L437.20,699.02 L437.70,698.84 L438.20,698.87 L438.70,698.12 L439.20,697.80 L439.70,697.55 L440.20,696.82 L440.70,697.27 L441.20,697.61 L441.70,698.39 L442.20,698.34 L442.70,698.23 L443.20,698.35 L443.70,697.12 L444.20,696.83 L444.70,696.82 L445.20,698.10 L445.70,698.72 L446.20,698.94 L446.70,697.95 L447.20,696.55 L447.70,696.19 L448.20,696.51 L448.70,697.49 L449.20,697.19 L449.70,697.18 L450.20,696.29 L450.70,696.41 L451.20,696.12 L451.70,696.66 L452.20,696.59 L452.70,696.63 L453.20,696.55 L453.70,696.32 L454.20,696.54 L454.70,696.53 L455.20,696.28" stroke="#000000" stroke-width="1.1"/>
</g>
<line x1="273.0" y1="557.6" x2="273.0" y2="705.7" stroke="#adadad" stroke-width="1.6"/>
<line x1="272.2" y1="558.1" x2="456.0" y2="558.1" stroke="#707070" stroke-width="1.1"/>
<line x1="456.0" y1="557.6" x2="456.0" y2="705.7" stroke="#adadad" stroke-width="1.6"/>
<line x1="272.2" y1="705.5" x2="456.0" y2="705.5" stroke="#4a4a4a" stroke-width="1.0"/>
<line x1="300.60" y1="705.2" x2="300.60" y2="708.2" stroke="#777" stroke-width="1.1"/>
<line x1="346.13" y1="705.2" x2="346.13" y2="708.2" stroke="#777" stroke-width="1.1"/>
<line x1="391.67" y1="705.2" x2="391.67" y2="708.2" stroke="#777" stroke-width="1.1"/>
<line x1="437.21" y1="705.2" x2="437.21" y2="708.2" stroke="#777" stroke-width="1.1"/>
<line x1="277.83" y1="705.2" x2="277.83" y2="707.2" stroke="#777" stroke-width="1.1"/>
<line x1="323.37" y1="705.2" x2="323.37" y2="707.2" stroke="#777" stroke-width="1.1"/>
<line x1="368.90" y1="705.2" x2="368.90" y2="707.2" stroke="#777" stroke-width="1.1"/>
<line x1="414.44" y1="705.2" x2="414.44" y2="707.2" stroke="#777" stroke-width="1.1"/>
<line x1="269.7" y1="684.40" x2="272.7" y2="684.40" stroke="#777" stroke-width="1.1"/>
<line x1="269.7" y1="642.44" x2="272.7" y2="642.44" stroke="#777" stroke-width="1.1"/>
<line x1="269.7" y1="600.47" x2="272.7" y2="600.47" stroke="#777" stroke-width="1.1"/>
<line x1="269.7" y1="558.50" x2="272.7" y2="558.50" stroke="#777" stroke-width="1.1"/>
<line x1="270.7" y1="705.39" x2="272.7" y2="705.39" stroke="#777" stroke-width="1.1"/>
<line x1="270.7" y1="663.42" x2="272.7" y2="663.42" stroke="#777" stroke-width="1.1"/>
<line x1="270.7" y1="621.45" x2="272.7" y2="621.45" stroke="#777" stroke-width="1.1"/>
<line x1="270.7" y1="579.48" x2="272.7" y2="579.48" stroke="#777" stroke-width="1.1"/>
<text x="300.60" y="717.8" font-size="9.1" text-anchor="middle">525</text>
<text x="346.13" y="717.8" font-size="9.1" text-anchor="middle">530</text>
<text x="391.67" y="717.8" font-size="9.1" text-anchor="middle">535</text>
<text x="437.21" y="717.8" font-size="9.1" text-anchor="middle">540</text>
<text x="267.3" y="687.46" font-size="9" text-anchor="end">8000</text>
<text x="267.3" y="645.50" font-size="9" text-anchor="end">16000</text>
<text x="267.3" y="603.53" font-size="9" text-anchor="end">24000</text>
<text x="267.3" y="561.56" font-size="9" text-anchor="end">32000</text>
<text x="368.6" y="728.0" font-size="10.8" text-anchor="middle">Binding energy (eV)</text>
<text transform="translate(243.5,629.5) rotate(-90)" font-size="10.8" text-anchor="middle">Counts (a.u)</text>
<text transform="translate(280.0,580.50) scale(1,1.0)" font-size="22.15">(k)</text>
<text transform="translate(441.4,571.70) scale(1,1.0)" font-size="12.92" text-anchor="end">O1s</text>
<text x="359.2" y="571.3" font-size="9.0" text-anchor="middle">531.38</text>
<clipPath id="cl"><rect x="501.4" y="558.1" width="181.89999999999998" height="147.10000000000002"/></clipPath>
<g clip-path="url(#cl)" fill="none" stroke-linejoin="round" stroke-linecap="round">
<path d="M581.90,639.87 L582.40,643.66 L582.90,647.35 L583.40,650.92 L583.90,654.35 L584.40,657.62 L584.90,660.72 L585.40,663.64 L585.90,666.37 L586.40,668.92 L586.90,671.27 L587.40,673.44 L587.90,675.43 L588.40,677.23 L588.90,678.86 L589.40,680.33 L589.90,681.65 L590.40,682.82 L590.90,683.86 L591.40,684.78 L591.90,685.58 L592.40,686.29 L592.90,686.90 L593.40,687.42 L593.90,687.87 L594.40,688.26 L594.90,688.59 L595.40,688.87 L595.90,689.11 L596.40,689.30 L596.90,689.47 L597.40,689.61 L597.90,689.72 L598.40,689.81 L598.90,689.89 L599.40,689.95 L599.90,690.00 L600.40,690.04 L600.90,690.08 L601.40,690.10 L601.90,690.13 L602.40,690.14 L602.90,690.15 L603.40,690.17 L603.90,690.17 L604.40,690.18 L604.90,690.18 L605.40,690.19 L605.90,690.19 L606.40,690.19 L606.90,690.20 L607.40,690.20 L607.90,690.20 L608.40,690.20 L608.90,690.20 L609.40,690.20 L609.90,690.20 L610.40,690.20 L610.90,690.20 L611.40,690.20 L611.90,690.20 L612.40,690.20 L612.90,690.20 L613.40,690.20 L613.90,690.20 L614.40,690.20 L614.90,690.20 L615.40,690.20 L615.90,690.20 L616.40,690.20 L616.90,690.20 L617.40,690.20 L617.90,690.20 L618.40,690.20 L618.90,690.20 L619.40,690.20 L619.90,690.20 L620.40,690.20 L620.90,690.20 L621.40,690.20 L621.90,690.20 L622.40,690.20 L622.90,690.20 L623.40,690.20 L623.90,690.20 L624.40,690.20 L624.90,690.20 L625.40,690.20 L625.90,690.20 L626.40,690.20 L626.90,690.20 L627.40,690.20 L627.90,690.20 L628.40,690.20 L628.90,690.20 L629.40,690.20 L629.90,690.20 L630.40,690.20 L630.90,690.20 L631.40,690.20 L631.90,690.20 L632.40,690.20 L632.90,690.20 L633.40,690.20 L633.90,690.20 L634.40,690.20 L634.90,690.20 L635.40,690.20 L635.90,690.20 L636.40,690.20 L636.90,690.20 L637.40,690.20 L637.90,690.20 L638.40,690.20 L638.90,690.20 L639.40,690.20 L639.90,690.20 L640.40,690.20 L640.90,690.20 L641.40,690.20 L641.90,690.20 L642.40,690.20 L642.90,690.20 L643.40,690.20 L643.90,690.20 L644.40,690.20 L644.90,690.20 L645.40,690.20 L645.90,690.20 L646.40,690.20" stroke="#ff5c5c" stroke-width="1.2"/>
<path d="M548.90,690.20 L549.40,690.20 L549.90,690.20 L550.40,690.20 L550.90,690.20 L551.40,690.20 L551.90,690.20 L552.40,690.20 L552.90,690.20 L553.40,690.20 L553.90,690.20 L554.40,690.20 L554.90,690.20 L555.40,690.20 L555.90,690.20 L556.40,690.20 L556.90,690.20 L557.40,690.20 L557.90,690.20 L558.40,690.20 L558.90,690.20 L559.40,690.20 L559.90,690.20 L560.40,690.20 L560.90,690.20 L561.40,690.20 L561.90,690.20 L562.40,690.20 L562.90,690.20 L563.40,690.20 L563.90,690.20 L564.40,690.20 L564.90,690.20 L565.40,690.20 L565.90,690.20 L566.40,690.20 L566.90,690.20 L567.40,690.20 L567.90,690.20 L568.40,690.20 L568.90,690.20 L569.40,690.20 L569.90,690.20 L570.40,690.19 L570.90,690.19 L571.40,690.19 L571.90,690.19 L572.40,690.19 L572.90,690.19 L573.40,690.18 L573.90,690.18 L574.40,690.18 L574.90,690.17 L575.40,690.17 L575.90,690.16 L576.40,690.15 L576.90,690.14 L577.40,690.13 L577.90,690.12 L578.40,690.10 L578.90,690.09 L579.40,690.07 L579.90,690.05 L580.40,690.02 L580.90,689.99 L581.40,689.96 L581.90,689.92 L582.40,689.87 L582.90,689.82 L583.40,689.77 L583.90,689.70 L584.40,689.63 L584.90,689.55 L585.40,689.46 L585.90,689.36 L586.40,689.24 L586.90,689.12 L587.40,688.98 L587.90,688.82 L588.40,688.65 L588.90,688.46 L589.40,688.25 L589.90,688.02 L590.40,687.77 L590.90,687.50 L591.40,687.20 L591.90,686.88 L592.40,686.54 L592.90,686.16 L593.40,685.76 L593.90,685.33 L594.40,684.87 L594.90,684.38 L595.40,683.85 L595.90,683.30 L596.40,682.71 L596.90,682.10 L597.40,681.45 L597.90,680.77 L598.40,680.06 L598.90,679.33" stroke="#6464ff" stroke-width="1.0"/>
<path d="M501.40,690.20 L501.90,690.20 L502.40,690.20 L502.90,690.20 L503.40,690.20 L503.90,690.20 L504.40,690.20 L504.90,690.20 L505.40,690.20 L505.90,690.20 L506.40,690.20 L506.90,690.20 L507.40,690.20 L507.90,690.20 L508.40,690.20 L508.90,690.20 L509.40,690.20 L509.90,690.20 L510.40,690.20 L510.90,690.20 L511.40,690.20 L511.90,690.20 L512.40,690.20 L512.90,690.20 L513.40,690.20 L513.90,690.20 L514.40,690.20 L514.90,690.20 L515.40,690.20 L515.90,690.20 L516.40,690.20 L516.90,690.20 L517.40,690.20 L517.90,690.20 L518.40,690.20 L518.90,690.20 L519.40,690.20 L519.90,690.20 L520.40,690.20 L520.90,690.20 L521.40,690.20 L521.90,690.20 L522.40,690.20 L522.90,690.20 L523.40,690.20 L523.90,690.20 L524.40,690.20 L524.90,690.20 L525.40,690.20 L525.90,690.20 L526.40,690.20 L526.90,690.20 L527.40,690.20 L527.90,690.20 L528.40,690.20 L528.90,690.20 L529.40,690.20 L529.90,690.20 L530.40,690.20 L530.90,690.20 L531.40,690.20 L531.90,690.20 L532.40,690.20 L532.90,690.20 L533.40,690.20 L533.90,690.20 L534.40,690.20 L534.90,690.20 L535.40,690.20 L535.90,690.20 L536.40,690.20 L536.90,690.20 L537.40,690.20 L537.90,690.20 L538.40,690.20 L538.90,690.20 L539.40,690.19 L539.90,690.19 L540.40,690.19 L540.90,690.19 L541.40,690.18 L541.90,690.18 L542.40,690.17 L542.90,690.16 L543.40,690.15 L543.90,690.14 L544.40,690.12 L544.90,690.10 L545.40,690.07 L545.90,690.04 L546.40,689.99 L546.90,689.94 L547.40,689.88 L547.90,689.80 L548.40,689.70 L548.90,689.58 L549.40,689.44 L549.90,689.27 L550.40,689.06 L550.90,688.82 L551.40,688.53 L551.90,688.19 L552.40,687.79 L552.90,687.32 L553.40,686.78 L553.90,686.15 L554.40,685.43 L554.90,684.61 L555.40,683.67 L555.90,682.60 L556.40,681.40 L556.90,680.05 L557.40,678.55 L557.90,676.88 L558.40,675.04 L558.90,673.02 L559.40,670.82 L559.90,668.43 L560.40,665.84 L560.90,663.07 L561.40,660.11 L561.90,656.98 L562.40,653.68 L562.90,650.22 L563.40,646.62 L563.90,642.91 L564.40,639.10 L564.90,635.22 L565.40,631.30 L565.90,627.38 L566.40,623.48 L566.90,619.65 L567.40,615.92 L567.90,612.33 L568.40,608.92 L568.90,605.73 L569.40,602.79 L569.90,600.14 L570.40,597.81 L570.90,595.83 L571.40,594.22 L571.90,593.01 L572.40,592.20 L572.90,591.82 L573.40,591.86 L573.90,592.32 L574.40,593.20 L574.90,594.49 L575.40,596.17 L575.90,598.22 L576.40,600.60 L576.90,603.30 L577.40,606.29 L577.90,609.51 L578.40,612.94 L578.90,616.55 L579.40,620.28 L579.90,624.10 L580.40,627.98 L580.90,631.88 L581.40,635.76 L581.90,639.58 L582.40,643.33 L582.90,646.98 L583.40,650.49 L583.90,653.85 L584.40,657.05 L584.90,660.07 L585.40,662.90 L585.90,665.53 L586.40,667.96 L586.90,670.19 L587.40,672.22 L587.90,674.05 L588.40,675.68 L588.90,677.12 L589.40,678.39 L589.90,679.47 L590.40,680.40 L590.90,681.16 L591.40,681.78 L591.90,682.27 L592.40,682.62 L592.90,682.86 L593.40,682.98 L593.90,683.00 L594.40,682.93 L594.90,682.77 L595.40,682.52 L595.90,682.21 L596.40,681.82 L596.90,681.37 L597.40,680.86 L597.90,680.29 L598.40,679.68 L598.90,679.02 L599.40,678.32 L599.90,677.58 L600.40,676.81 L600.90,676.01 L601.40,675.19 L601.90,674.34 L602.40,673.48 L602.90,672.60 L603.40,671.72 L603.90,670.83 L604.40,669.95 L604.90,669.07 L605.40,668.20 L605.90,667.34 L606.40,666.50 L606.90,665.69 L607.40,664.91 L607.90,664.16 L608.40,663.45 L608.90,662.78 L609.40,662.15 L609.90,661.58 L610.40,661.07 L610.90,660.61 L611.40,660.21 L611.90,659.87 L612.40,659.60 L612.90,659.40 L613.40,659.27 L613.90,659.21 L614.40,659.21 L614.90,659.29 L615.40,659.44 L615.90,659.65 L616.40,659.93 L616.90,660.28 L617.40,660.69 L617.90,661.17 L618.40,661.69 L618.90,662.28 L619.40,662.91 L619.90,663.59 L620.40,664.31 L620.90,665.06 L621.40,665.86 L621.90,666.67 L622.40,667.52 L622.90,668.38 L623.40,669.26 L623.90,670.15 L624.40,671.04 L624.90,671.93 L625.40,672.83 L625.90,673.71 L626.40,674.59 L626.90,675.45 L627.40,676.30 L627.90,677.13 L628.40,677.94 L628.90,678.72 L629.40,679.48 L629.90,680.21 L630.40,680.91 L630.90,681.58 L631.40,682.22 L631.90,682.83 L632.40,683.41 L632.90,683.96 L633.40,684.48 L633.90,684.96 L634.40,685.42 L634.90,685.84 L635.40,686.24 L635.90,686.61 L636.40,686.95 L636.90,687.27 L637.40,687.56 L637.90,687.82 L638.40,688.07 L638.90,688.29 L639.40,688.50 L639.90,688.69 L640.40,688.85 L640.90,689.01 L641.40,689.14 L641.90,689.27 L642.40,689.38 L642.90,689.48 L643.40,689.57 L643.90,689.65 L644.40,689.72 L644.90,689.78 L645.40,689.84 L645.90,689.88 L646.40,689.93 L646.90,689.96 L647.40,690.00 L647.90,690.03 L648.40,690.05 L648.90,690.07 L649.40,690.09 L649.90,690.11 L650.40,690.12 L650.90,690.13 L651.40,690.14 L651.90,690.15 L652.40,690.16 L652.90,690.17 L653.40,690.17 L653.90,690.18 L654.40,690.18 L654.90,690.18 L655.40,690.19 L655.90,690.19 L656.40,690.19 L656.90,690.19 L657.40,690.19 L657.90,690.19 L658.40,690.20 L658.90,690.20 L659.40,690.20 L659.90,690.20 L660.40,690.20 L660.90,690.20 L661.40,690.20 L661.90,690.20 L662.40,690.20 L662.90,690.20 L663.40,690.20 L663.90,690.20 L664.40,690.20 L664.90,690.20 L665.40,690.20 L665.90,690.20 L666.40,690.20 L666.90,690.20 L667.40,690.20 L667.90,690.20 L668.40,690.20 L668.90,690.20 L669.40,690.20 L669.90,690.20 L670.40,690.20 L670.90,690.20 L671.40,690.20 L671.90,690.20 L672.40,690.20 L672.90,690.20 L673.40,690.20 L673.90,690.20 L674.40,690.20 L674.90,690.20 L675.40,690.20 L675.90,690.20 L676.40,690.20 L676.90,690.20 L677.40,690.20 L677.90,690.20 L678.40,690.20 L678.90,690.20 L679.40,690.20 L679.90,690.20 L680.40,690.20 L680.90,690.20 L681.40,690.20 L681.90,690.20 L682.40,690.20 L682.90,690.20" stroke="#ff6cff" stroke-width="1.1"/>
<path d="M501.40,698.16 L501.90,697.20 L502.40,697.21 L502.90,696.73 L503.40,697.84 L503.90,698.02 L504.40,698.56 L504.90,697.94 L505.40,697.81 L505.90,697.67 L506.40,697.53 L506.90,697.14 L507.40,696.85 L507.90,696.72 L508.40,696.65 L508.90,696.55 L509.40,696.46 L509.90,696.85 L510.40,696.39 L510.90,696.83 L511.40,696.35 L511.90,696.63 L512.40,695.90 L512.90,696.01 L513.40,696.06 L513.90,696.49 L514.40,696.33 L514.90,696.39 L515.40,696.85 L515.90,697.10 L516.40,696.85 L516.90,696.53 L517.40,696.32 L517.90,696.64 L518.40,696.48 L518.90,696.36 L519.40,695.52 L519.90,695.17 L520.40,695.41 L520.90,695.83 L521.40,696.02 L521.90,696.09 L522.40,695.97 L522.90,696.16 L523.40,696.30 L523.90,696.75 L524.40,696.66 L524.90,696.44 L525.40,696.74 L525.90,696.37 L526.40,695.97 L526.90,695.39 L527.40,694.98 L527.90,694.43 L528.40,693.90 L528.90,694.24 L529.40,694.81 L529.90,694.55 L530.40,693.78 L530.90,693.47 L531.40,693.83 L531.90,694.34 L532.40,694.59 L532.90,694.97 L533.40,694.99 L533.90,694.91 L534.40,694.12 L534.90,693.62 L535.40,693.43 L535.90,693.92 L536.40,694.46 L536.90,694.51 L537.40,694.48 L537.90,694.44 L538.40,693.64 L538.90,693.10 L539.40,692.92 L539.90,693.59 L540.40,693.25 L540.90,693.37 L541.40,692.93 L541.90,693.22 L542.40,692.82 L542.90,693.08 L543.40,692.58 L543.90,692.67 L544.40,692.32 L544.90,692.39 L545.40,691.84 L545.90,690.96 L546.40,690.82 L546.90,690.77 L547.40,691.01 L547.90,690.88 L548.40,690.51 L548.90,690.45 L549.40,690.54 L549.90,690.21 L550.40,689.69 L550.90,689.06 L551.40,689.19 L551.90,688.56 L552.40,687.87 L552.90,685.97 L553.40,685.65 L553.90,684.75 L554.40,684.61 L554.90,682.99 L555.40,681.16 L555.90,679.59 L556.40,678.35 L556.90,676.79 L557.40,674.27 L557.90,672.24 L558.40,670.35 L558.90,669.36 L559.40,666.58 L559.90,663.85 L560.40,660.21 L560.90,656.93 L561.40,653.71 L561.90,651.02 L562.40,648.13 L562.90,644.73 L563.40,640.23 L563.90,636.80 L564.40,633.49 L564.90,630.24 L565.40,626.21 L565.90,622.42 L566.40,618.84 L566.90,615.23 L567.40,611.95 L567.90,607.95 L568.40,604.73 L568.90,601.62 L569.40,599.65 L569.90,597.28 L570.40,595.22 L570.90,593.44 L571.40,591.97 L571.90,590.29 L572.40,589.15 L572.90,588.88 L573.40,589.08 L573.90,590.15 L574.40,592.34 L574.90,594.54 L575.40,596.98 L575.90,598.94 L576.40,601.67 L576.90,604.17 L577.40,607.34 L577.90,610.92 L578.40,614.67 L578.90,617.64 L579.40,620.98 L579.90,624.57 L580.40,628.90 L580.90,632.76 L581.40,636.41 L581.90,639.88 L582.40,643.24 L582.90,645.89 L583.40,648.56 L583.90,650.88 L584.40,652.97 L584.90,654.79 L585.40,657.82 L585.90,660.16 L586.40,661.76 L586.90,662.56 L587.40,664.90 L587.90,666.99 L588.40,668.61 L588.90,669.25 L589.40,670.32 L589.90,671.55 L590.40,672.73 L590.90,673.47 L591.40,674.01 L591.90,674.69 L592.40,675.20 L592.90,675.52 L593.40,675.74 L593.90,676.05 L594.40,676.73 L594.90,676.95 L595.40,677.26 L595.90,676.59 L596.40,676.37 L596.90,677.07 L597.40,677.16 L597.90,677.52 L598.40,676.68 L598.90,676.90 L599.40,676.63 L599.90,676.15 L600.40,675.54 L600.90,675.02 L601.40,674.93 L601.90,674.65 L602.40,674.15 L602.90,673.95 L603.40,674.02 L603.90,673.94 L604.40,673.17 L604.90,672.53 L605.40,672.04 L605.90,672.07 L606.40,672.16 L606.90,671.70 L607.40,671.13 L607.90,669.79 L608.40,669.19 L608.90,668.35 L609.40,668.37 L609.90,667.72 L610.40,666.83 L610.90,666.00 L611.40,664.51 L611.90,663.94 L612.40,662.61 L612.90,662.13 L613.40,660.72 L613.90,659.36 L614.40,658.17 L614.90,657.75 L615.40,656.48 L615.90,656.02 L616.40,655.57 L616.90,656.00 L617.40,655.57 L617.90,655.52 L618.40,655.63 L618.90,656.70 L619.40,657.52 L619.90,658.15 L620.40,657.74 L620.90,657.79 L621.40,658.19 L621.90,659.93 L622.40,661.67 L622.90,663.43 L623.40,665.37 L623.90,666.91 L624.40,668.61 L624.90,669.23 L625.40,670.25 L625.90,670.95 L626.40,672.84 L626.90,674.05 L627.40,676.11 L627.90,677.01 L628.40,677.46 L628.90,678.31 L629.40,679.55 L629.90,681.70 L630.40,682.19 L630.90,682.59 L631.40,683.04 L631.90,683.92 L632.40,684.61 L632.90,684.99 L633.40,686.75 L633.90,687.50 L634.40,687.94 L634.90,687.33 L635.40,687.84 L635.90,688.86 L636.40,689.57 L636.90,690.10 L637.40,689.97 L637.90,689.96 L638.40,689.72 L638.90,689.40 L639.40,690.11 L639.90,690.24 L640.40,691.25 L640.90,690.75 L641.40,691.09 L641.90,690.95 L642.40,690.84 L642.90,691.06 L643.40,691.45 L643.90,692.36 L644.40,692.76 L644.90,693.18 L645.40,693.03 L645.90,692.84 L646.40,691.87 L646.90,691.58 L647.40,692.04 L647.90,692.66 L648.40,693.05 L648.90,692.47 L649.40,692.19 L649.90,692.55 L650.40,692.70 L650.90,693.35 L651.40,692.84 L651.90,692.61 L652.40,691.40 L652.90,691.24 L653.40,690.81 L653.90,690.78 L654.40,691.11 L654.90,691.80 L655.40,692.67 L655.90,692.27 L656.40,692.00 L656.90,691.90 L657.40,691.90 L657.90,691.91 L658.40,691.97 L658.90,691.12 L659.40,691.35 L659.90,690.89 L660.40,691.86 L660.90,691.87 L661.40,691.73 L661.90,691.63 L662.40,691.43 L662.90,691.39 L663.40,690.89 L663.90,690.60 L664.40,690.04 L664.90,689.99 L665.40,689.93 L665.90,690.41 L666.40,689.97 L666.90,689.71 L667.40,690.25 L667.90,691.09 L668.40,691.10 L668.90,690.30 L669.40,689.80 L669.90,689.77 L670.40,689.73 L670.90,689.56 L671.40,689.67 L671.90,690.10 L672.40,689.37 L672.90,689.40 L673.40,689.08 L673.90,690.13 L674.40,689.74 L674.90,689.76 L675.40,689.84 L675.90,688.84 L676.40,689.12 L676.90,688.59 L677.40,688.88 L677.90,687.46 L678.40,687.43 L678.90,687.60 L679.40,688.68 L679.90,688.57 L680.40,688.78 L680.90,688.70 L681.40,688.62 L681.90,688.82 L682.40,688.69 L682.90,688.66" stroke="#000000" stroke-width="1.1"/>
</g>
<line x1="501.4" y1="557.6" x2="501.4" y2="705.7" stroke="#707070" stroke-width="1.1"/>
<line x1="500.9" y1="558.1" x2="683.8" y2="558.1" stroke="#707070" stroke-width="1.1"/>
<line x1="683.0" y1="557.6" x2="683.0" y2="705.7" stroke="#adadad" stroke-width="1.6"/>
<line x1="500.9" y1="705.5" x2="683.8" y2="705.5" stroke="#4a4a4a" stroke-width="1.0"/>
<line x1="528.20" y1="705.2" x2="528.20" y2="708.2" stroke="#777" stroke-width="1.1"/>
<line x1="573.85" y1="705.2" x2="573.85" y2="708.2" stroke="#777" stroke-width="1.1"/>
<line x1="619.50" y1="705.2" x2="619.50" y2="708.2" stroke="#777" stroke-width="1.1"/>
<line x1="665.15" y1="705.2" x2="665.15" y2="708.2" stroke="#777" stroke-width="1.1"/>
<line x1="505.38" y1="705.2" x2="505.38" y2="707.2" stroke="#777" stroke-width="1.1"/>
<line x1="551.03" y1="705.2" x2="551.03" y2="707.2" stroke="#777" stroke-width="1.1"/>
<line x1="596.68" y1="705.2" x2="596.68" y2="707.2" stroke="#777" stroke-width="1.1"/>
<line x1="642.33" y1="705.2" x2="642.33" y2="707.2" stroke="#777" stroke-width="1.1"/>
<line x1="498.4" y1="678.07" x2="501.4" y2="678.07" stroke="#777" stroke-width="1.1"/>
<line x1="498.4" y1="638.21" x2="501.4" y2="638.21" stroke="#777" stroke-width="1.1"/>
<line x1="498.4" y1="598.36" x2="501.4" y2="598.36" stroke="#777" stroke-width="1.1"/>
<line x1="498.4" y1="558.50" x2="501.4" y2="558.50" stroke="#777" stroke-width="1.1"/>
<line x1="499.4" y1="697.99" x2="501.4" y2="697.99" stroke="#777" stroke-width="1.1"/>
<line x1="499.4" y1="658.14" x2="501.4" y2="658.14" stroke="#777" stroke-width="1.1"/>
<line x1="499.4" y1="618.28" x2="501.4" y2="618.28" stroke="#777" stroke-width="1.1"/>
<line x1="499.4" y1="578.43" x2="501.4" y2="578.43" stroke="#777" stroke-width="1.1"/>
<text x="528.20" y="718.0" font-size="9.1" text-anchor="middle">280</text>
<text x="573.85" y="718.0" font-size="9.1" text-anchor="middle">285</text>
<text x="619.50" y="718.0" font-size="9.1" text-anchor="middle">290</text>
<text x="665.15" y="718.0" font-size="9.1" text-anchor="middle">295</text>
<text x="495.4" y="681.04" font-size="8.75" text-anchor="end">1500</text>
<text x="495.4" y="641.19" font-size="8.75" text-anchor="end">3000</text>
<text x="495.4" y="601.33" font-size="8.75" text-anchor="end">4500</text>
<text x="495.4" y="561.48" font-size="8.75" text-anchor="end">6000</text>
<text x="596.2" y="728.4" font-size="10.8" text-anchor="middle">Binding energy (eV)</text>
<text transform="translate(476,629.6) rotate(-90)" font-size="10.8" text-anchor="middle">Counts (a.u)</text>
<text transform="translate(505.4,580.50) scale(1,1.0)" font-size="22.78">(l)</text>
<text transform="translate(672.4000000000001,571.60) scale(1,1.0)" font-size="13.12" text-anchor="end">C 1s</text>
<text x="571.8" y="585" font-size="9.0" text-anchor="middle">284.96</text>
<text x="617.7" y="653" font-size="9.0" text-anchor="middle">289.46</text>
</svg></body></html>
